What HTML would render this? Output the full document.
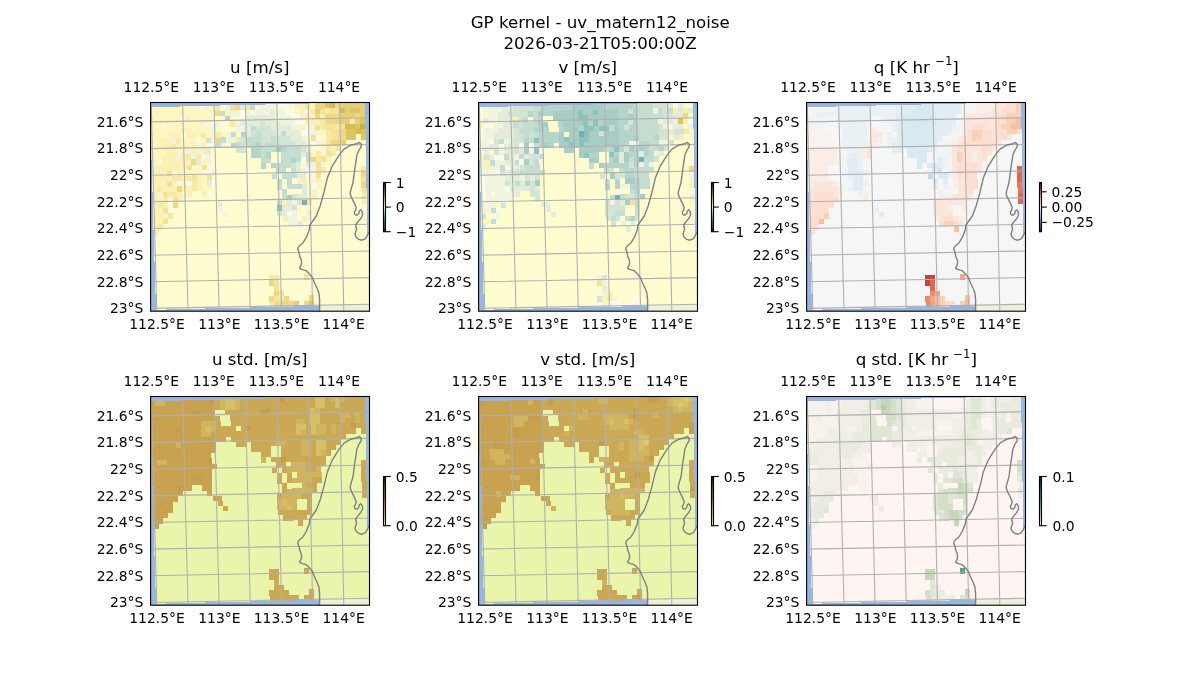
<!DOCTYPE html>
<html lang="en"><head><meta charset="utf-8"><title>GP kernel - uv_matern12_noise</title>
<style>html,body{margin:0;padding:0;background:#fff}svg{display:block}text{font-family:'DejaVu Sans','Liberation Sans',sans-serif;fill:#000}</style></head><body>
<svg width="1200" height="700" viewBox="0 0 1200 700">
<rect width="1200" height="700" fill="#fff"/>
<text x="600.20" y="27.50" font-size="16.67" text-anchor="middle" >GP kernel - uv_matern12_noise</text>
<text x="600.00" y="48.80" font-size="16.67" text-anchor="middle" >2026-03-21T05:00:00Z</text>
<clipPath id="clipu"><rect x="150.6" y="102.5" width="218.9" height="208.7"/></clipPath>
<g clip-path="url(#clipu)">
<rect x="150.6" y="102.5" width="218.9" height="208.7" fill="#97b6e1"/>
<polygon points="319.6,311.0 319.6,299.6 318.9,293.1 317.0,288.0 314.4,282.8 312.5,277.7 309.3,273.8 306.1,270.6 301.6,269.3 299.6,268.1 301.3,264.8 301.6,261.0 300.0,257.1 299.0,252.6 297.7,248.8 299.0,246.2 302.9,243.0 306.7,236.6 309.3,230.1 309.9,225.0 316.3,216.0 320.2,205.7 324.1,191.6 327.3,178.1 332.4,165.8 338.8,155.6 344.0,149.1 350.4,145.3 356.8,143.7 359.4,142.5 361.0,144.0 361.3,146.6 358.8,150.4 356.8,155.6 354.9,168.4 353.0,182.6 350.4,191.6 350.2,194.1 351.7,198.0 354.3,203.1 356.2,207.6 355.6,210.2 354.3,212.1 354.9,214.7 356.8,215.3 358.8,213.4 359.4,210.8 360.7,209.8 362.2,211.5 362.6,214.7 360.7,218.5 357.5,222.4 355.6,225.0 356.6,229.5 354.9,234.0 356.2,237.2 358.8,239.4 362.0,240.2 365.2,238.9 367.1,235.9 368.7,232.7 369.5,231.0 371.0,231.0 371.0,313.0 319.6,313.0" fill="#efefdb"/>
<path shape-rendering="crispEdges" fill="#fffdd0" d="M150 107h30v5h-30zM180 106h15v6h-15zM195 106h25v5h-25zM220 105h15v6h-15zM235 105h30v5h-30zM265 104h15v6h-15zM280 104h30v5h-30zM310 103h15v6h-15zM325 103h25v5h-25zM350 102h15v6h-15zM150 112h15v6h-15zM164 111h32v7h-32zM194 110h12v8h-12zM204 110h32v7h-32zM234 109h17v8h-17zM249 109h32v7h-32zM279 108h17v8h-17zM294 108h32v7h-32zM324 107h17v8h-17zM340 108h25v5h-25zM150 118h15v5h-15zM164 116h17v8h-17zM179 116h27v7h-27zM204 115h17v8h-17zM219 115h32v7h-32zM249 114h17v8h-17zM264 114h32v7h-32zM294 113h17v8h-17zM309 113h32v7h-32zM339 112h12v8h-12zM350 113h15v5h-15zM151 123h29v5h-29zM179 121h17v8h-17zM194 121h27v7h-27zM219 120h17v8h-17zM234 120h32v7h-32zM264 119h17v8h-17zM279 119h32v7h-32zM309 118h17v8h-17zM324 118h27v7h-27zM350 118h15v6h-15zM151 128h15v6h-15zM165 127h32v7h-32zM195 126h12v8h-12zM205 126h32v7h-32zM235 125h17v8h-17zM250 125h32v7h-32zM280 124h17v8h-17zM295 124h31v7h-31zM324 123h12v8h-12zM335 124h30v5h-30zM151 134h15v5h-15zM165 132h17v8h-17zM180 132h27v7h-27zM205 131h17v8h-17zM220 131h32v7h-32zM250 130h17v8h-17zM265 130h32v7h-32zM295 129h17v8h-17zM310 129h27v7h-27zM335 128h17v8h-17zM351 129h15v5h-15zM151 139h30v5h-30zM180 137h12v8h-12zM190 137h32v7h-32zM220 136h17v8h-17zM235 136h32v7h-32zM265 135h17v8h-17zM280 135h32v7h-32zM310 134h12v8h-12zM320 134h32v7h-32zM351 134h15v6h-15zM151 144h15v6h-15zM165 143h27v7h-27zM190 142h17v8h-17zM205 142h32v7h-32zM235 141h17v8h-17zM250 141h32v7h-32zM280 140h17v8h-17zM295 140h27v7h-27zM320 139h17v8h-17zM336 140h30v5h-30zM151 150h15v5h-15zM165 148h12v8h-12zM175 148h32v7h-32zM205 147h17v8h-17zM220 147h32v7h-32zM250 146h17v8h-17zM265 146h32v7h-32zM295 145h17v8h-17zM310 145h27v7h-27zM335 144h17v8h-17zM351 145h15v5h-15zM151 155h25v5h-25zM175 153h17v8h-17zM190 153h32v7h-32zM220 152h17v8h-17zM235 152h32v7h-32zM265 151h17v8h-17zM280 151h32v7h-32zM310 150h12v8h-12zM320 150h32v7h-32zM351 150h15v6h-15zM152 160h15v6h-15zM166 159h26v7h-26zM190 158h17v8h-17zM205 158h32v7h-32zM235 157h17v8h-17zM250 157h32v7h-32zM280 156h17v8h-17zM295 156h27v7h-27zM320 155h17v8h-17zM336 156h30v5h-30zM152 166h15v5h-15zM166 164h12v8h-12zM176 164h32v7h-32zM206 163h17v8h-17zM221 163h31v7h-31zM250 162h17v8h-17zM265 162h32v7h-32zM295 161h12v8h-12zM305 161h32v7h-32zM335 160h17v8h-17zM351 161h15v5h-15zM152 171h25v5h-25zM176 169h17v8h-17zM191 169h32v7h-32zM221 168h17v8h-17zM236 168h32v7h-32zM266 167h16v8h-16zM280 167h27v7h-27zM305 166h17v8h-17zM320 166h32v7h-32zM351 166h15v6h-15zM152 176h10v6h-10zM161 175h32v7h-32zM191 174h17v8h-17zM206 174h32v7h-32zM236 173h17v8h-17zM251 173h32v7h-32zM281 172h12v8h-12zM291 172h31v7h-31zM320 171h17v8h-17zM336 172h30v5h-30zM152 182h10v5h-10zM161 180h17v8h-17zM176 180h32v7h-32zM206 179h17v8h-17zM221 179h32v7h-32zM251 178h17v8h-17zM266 178h27v7h-27zM291 177h17v8h-17zM306 177h31v7h-31zM335 176h17v8h-17zM351 177h15v5h-15zM152 187h25v5h-25zM176 185h17v8h-17zM191 185h32v7h-32zM221 184h17v8h-17zM236 184h32v7h-32zM266 183h17v8h-17zM281 183h27v7h-27zM306 182h17v8h-17zM321 182h32v7h-32zM352 182h14v6h-14zM153 192h10v6h-10zM162 191h31v7h-31zM191 190h17v8h-17zM206 190h32v7h-32zM236 189h17v8h-17zM251 189h32v7h-32zM281 188h12v8h-12zM291 188h32v7h-32zM321 187h17v8h-17zM337 188h30v5h-30zM153 198h10v5h-10zM162 196h17v8h-17zM177 196h31v7h-31zM206 195h17v8h-17zM221 195h32v7h-32zM251 194h17v8h-17zM266 194h27v7h-27zM291 193h17v8h-17zM306 193h32v7h-32zM336 192h17v8h-17zM352 193h15v5h-15zM153 203h25v5h-25zM177 201h17v8h-17zM192 201h31v7h-31zM221 200h17v8h-17zM236 200h32v7h-32zM266 199h12v8h-12zM276 199h32v7h-32zM306 198h17v8h-17zM321 198h32v7h-32zM352 198h15v6h-15zM153 208h10v6h-10zM162 207h32v7h-32zM192 206h17v8h-17zM207 206h32v7h-32zM237 205h16v8h-16zM251 205h27v7h-27zM276 204h17v8h-17zM291 204h32v7h-32zM321 203h17v8h-17zM337 204h30v5h-30zM153 214h10v5h-10zM162 212h17v8h-17zM177 212h32v7h-32zM207 211h17v8h-17zM222 211h32v7h-32zM252 210h12v8h-12zM262 210h31v7h-31zM291 209h17v8h-17zM306 209h32v7h-32zM336 208h17v8h-17zM352 209h15v5h-15zM153 219h25v5h-25zM177 217h17v8h-17zM192 217h32v7h-32zM222 216h17v8h-17zM237 216h27v7h-27zM262 215h17v8h-17zM277 215h31v7h-31zM306 214h17v8h-17zM321 214h32v7h-32zM352 214h15v6h-15zM153 224h10v6h-10zM162 223h32v7h-32zM192 222h17v8h-17zM207 222h32v7h-32zM237 221h17v8h-17zM252 221h27v7h-27zM277 220h17v8h-17zM292 220h31v7h-31zM321 219h17v8h-17zM337 220h30v5h-30zM154 230h10v5h-10zM163 228h16v8h-16zM177 228h32v7h-32zM207 227h17v8h-17zM222 227h32v7h-32zM252 226h12v8h-12zM262 226h32v7h-32zM292 225h17v8h-17zM307 225h31v7h-31zM336 224h17v8h-17zM352 225h15v5h-15zM154 235h25v5h-25zM178 233h17v8h-17zM193 233h31v7h-31zM222 232h17v8h-17zM237 232h27v7h-27zM262 231h17v8h-17zM277 231h32v7h-32zM307 230h17v8h-17zM322 230h31v7h-31zM352 230h15v6h-15zM154 240h10v6h-10zM163 239h32v7h-32zM193 238h17v8h-17zM208 238h31v7h-31zM237 237h12v8h-12zM247 237h32v7h-32zM277 236h17v8h-17zM292 236h32v7h-32zM322 235h17v8h-17zM338 236h29v5h-29zM154 246h10v5h-10zM163 244h17v8h-17zM178 244h32v7h-32zM208 243h17v8h-17zM223 243h26v7h-26zM247 242h17v8h-17zM262 242h32v7h-32zM292 241h17v8h-17zM307 241h32v7h-32zM337 240h17v8h-17zM353 241h14v5h-14zM154 251h25v5h-25zM178 249h17v8h-17zM193 249h32v7h-32zM223 248h12v8h-12zM233 248h31v7h-31zM262 247h17v8h-17zM277 247h32v7h-32zM307 246h17v8h-17zM322 246h32v7h-32zM353 246h15v6h-15zM154 256h10v6h-10zM163 255h32v7h-32zM193 254h17v8h-17zM208 254h27v7h-27zM233 253h17v8h-17zM248 253h31v7h-31zM277 252h17v8h-17zM292 252h32v7h-32zM322 251h17v8h-17zM338 252h30v5h-30zM155 262h9v5h-9zM163 260h17v8h-17zM178 260h32v7h-32zM208 259h17v8h-17zM223 259h27v7h-27zM248 258h17v8h-17zM263 258h31v7h-31zM292 257h17v8h-17zM307 257h32v7h-32zM337 256h17v8h-17zM353 257h15v5h-15zM155 267h25v5h-25zM179 265h16v8h-16zM193 265h32v7h-32zM223 264h12v8h-12zM233 264h32v7h-32zM263 263h17v8h-17zM278 263h31v7h-31zM307 262h17v8h-17zM322 262h32v7h-32zM353 262h15v6h-15zM155 272h10v6h-10zM164 271h32v7h-32zM194 270h16v8h-16zM208 270h27v7h-27zM233 269h17v8h-17zM248 269h32v7h-32zM278 268h17v8h-17zM293 268h31v7h-31zM322 267h17v8h-17zM338 268h30v5h-30zM155 278h10v5h-10zM164 276h17v8h-17zM179 276h32v7h-32zM209 275h11v8h-11zM218 275h32v7h-32zM248 274h17v8h-17zM263 274h32v7h-32zM293 273h17v8h-17zM308 273h31v7h-31zM337 272h17v8h-17zM353 273h15v5h-15zM155 283h25v5h-25zM179 281h17v8h-17zM194 281h27v7h-27zM219 280h16v8h-16zM233 280h32v7h-32zM263 279h17v8h-17zM278 279h32v7h-32zM308 278h17v8h-17zM323 278h31v7h-31zM352 277h12v8h-12zM363 278h5v5h-5zM155 288h10v6h-10zM164 287h32v7h-32zM194 286h12v8h-12zM204 286h32v7h-32zM234 285h16v8h-16zM248 285h32v7h-32zM278 284h17v8h-17zM293 284h32v7h-32zM323 283h17v8h-17zM338 283h26v7h-26zM363 283h5v6h-5zM156 294h9v5h-9zM164 292h17v8h-17zM179 292h27v7h-27zM204 291h17v8h-17zM219 291h32v7h-32zM249 290h16v8h-16zM263 290h32v7h-32zM293 289h17v8h-17zM308 289h32v7h-32zM338 288h12v8h-12zM349 289h19v5h-19zM156 299h24v5h-24zM179 297h17v8h-17zM194 297h27v7h-27zM219 296h17v8h-17zM234 296h32v7h-32zM264 295h16v8h-16zM278 295h32v7h-32zM308 294h17v8h-17zM323 294h27v7h-27zM348 293h16v8h-16zM363 294h5v5h-5zM156 304h10v6h-10zM166 304h29v5h-29zM195 303h10v6h-10zM205 303h30v5h-30zM235 302h15v6h-15zM250 302h29v5h-29zM279 301h15v6h-15zM294 301h30v5h-30zM324 300h15v6h-15zM339 300h25v5h-25zM364 299h5v6h-5z"/>
<g shape-rendering="crispEdges">
<path fill="#fdf6c0" d="M153 110h4v4h-4zM158 110h4v4h-4zM163 110h4v4h-4zM168 110h4v4h-4zM173 110h4v4h-4zM178 110h4v4h-4zM183 110h4v4h-4zM188 110h4v4h-4zM193 110h4v4h-4zM198 109h4v4h-4zM208 109h4v4h-4zM213 109h4v4h-4zM313 107h4v4h-4zM153 116h4v4h-4zM158 116h4v4h-4zM163 116h4v4h-4zM168 115h4v4h-4zM173 115h4v4h-4zM178 115h4v4h-4zM183 115h4v4h-4zM188 115h4v4h-4zM193 115h4v4h-4zM198 115h4v4h-4zM203 115h4v4h-4zM208 114h4v4h-4zM228 114h4v4h-4zM298 112h4v4h-4zM153 121h4v4h-4zM158 121h4v4h-4zM163 121h4v4h-4zM168 121h4v4h-4zM173 121h4v4h-4zM178 121h4v4h-4zM193 120h4v4h-4zM198 120h4v4h-4zM203 120h4v4h-4zM208 120h4v4h-4zM313 117h4v4h-4zM154 126h4v4h-4zM159 126h4v4h-4zM169 126h4v4h-4zM173 126h4v4h-4zM178 126h4v4h-4zM183 126h4v4h-4zM188 126h4v4h-4zM193 126h4v4h-4zM198 125h4v4h-4zM203 125h4v4h-4zM154 132h4v4h-4zM159 132h4v4h-4zM164 132h4v4h-4zM169 131h4v4h-4zM174 131h4v4h-4zM179 131h4v4h-4zM194 131h4v4h-4zM199 131h4v4h-4zM204 131h4v4h-4zM209 130h4v4h-4zM154 137h4v4h-4zM159 137h4v4h-4zM164 137h4v4h-4zM169 137h4v4h-4zM199 136h4v4h-4zM209 136h4v4h-4zM214 136h4v4h-4zM224 135h4v4h-4zM319 133h4v4h-4zM324 133h4v4h-4zM154 142h4v4h-4zM159 142h4v4h-4zM184 142h4v4h-4zM189 142h4v4h-4zM194 141h4v4h-4zM204 141h4v4h-4zM154 148h4v4h-4zM159 148h4v4h-4zM184 147h4v4h-4zM189 147h4v4h-4zM324 144h4v4h-4zM154 153h4v4h-4zM159 153h4v4h-4zM164 153h4v4h-4zM179 152h4v4h-4zM184 152h4v4h-4zM324 149h4v4h-4zM154 158h4v4h-4zM159 158h4v4h-4zM314 155h4v4h-4zM155 164h4v4h-4zM189 163h4v4h-4zM204 163h4v4h-4zM195 168h4v4h-4zM200 168h4v4h-4zM185 174h4v4h-4zM190 174h4v4h-4zM200 173h4v4h-4zM205 179h4v4h-4zM185 184h4v4h-4zM205 184h4v4h-4zM205 189h4v4h-4zM161 196h4v4h-4z"/>
<path fill="#fbfae4" d="M203 109h4v4h-4zM223 109h4v4h-4zM278 108h4v4h-4zM283 107h4v4h-4zM288 107h4v4h-4zM243 114h4v4h-4zM253 113h4v4h-4zM288 113h4v4h-4zM293 113h4v4h-4zM308 112h4v4h-4zM183 120h4v4h-4zM243 119h4v4h-4zM293 118h4v4h-4zM298 118h4v4h-4zM208 125h4v4h-4zM213 125h4v4h-4zM298 123h4v4h-4zM303 123h4v4h-4zM308 128h4v4h-4zM184 136h4v4h-4zM304 134h4v4h-4zM309 134h4v4h-4zM199 141h4v4h-4zM319 139h4v4h-4zM209 146h4v4h-4zM314 144h4v4h-4zM314 149h4v4h-4zM204 157h4v4h-4zM324 154h4v4h-4zM304 160h4v4h-4zM304 166h4v4h-4zM175 174h4v4h-4zM205 173h4v4h-4zM309 171h4v4h-4zM309 176h4v4h-4zM180 184h4v4h-4zM190 184h4v4h-4zM290 214h4v4h-4zM300 219h4v4h-4z"/>
<path fill="#f8eaa6" d="M218 109h4v4h-4zM248 108h4v4h-4zM308 107h4v4h-4zM313 112h4v4h-4zM328 112h4v4h-4zM233 125h4v4h-4zM323 123h4v4h-4zM353 122h4v4h-4zM323 128h4v4h-4zM338 127h4v4h-4zM204 136h4v4h-4zM219 136h4v4h-4zM329 133h4v4h-4zM179 142h4v4h-4zM239 140h4v4h-4zM329 138h4v4h-4zM174 147h4v4h-4zM329 144h4v4h-4zM329 149h4v4h-4zM189 158h4v4h-4zM199 157h4v4h-4zM319 155h4v4h-4zM319 160h4v4h-4zM175 179h4v4h-4zM180 179h4v4h-4zM190 179h4v4h-4zM195 184h4v4h-4zM160 190h4v4h-4zM170 195h4v4h-4zM175 195h4v4h-4zM166 201h4v4h-4zM161 206h4v4h-4zM272 278h4v4h-4zM282 299h4v4h-4z"/>
<path fill="#f0f3de" d="M228 109h4v4h-4zM263 108h4v4h-4zM268 108h4v4h-4zM273 108h4v4h-4zM233 114h4v4h-4zM238 114h4v4h-4zM248 114h4v4h-4zM258 113h4v4h-4zM263 113h4v4h-4zM268 113h4v4h-4zM278 113h4v4h-4zM283 113h4v4h-4zM278 118h4v4h-4zM283 118h4v4h-4zM288 118h4v4h-4zM303 118h4v4h-4zM238 124h4v4h-4zM283 123h4v4h-4zM288 123h4v4h-4zM293 123h4v4h-4zM214 130h4v4h-4zM244 130h4v4h-4zM294 129h4v4h-4zM299 128h4v4h-4zM313 128h4v4h-4zM229 135h4v4h-4zM314 133h4v4h-4zM174 142h4v4h-4zM214 141h4v4h-4zM234 141h4v4h-4zM304 139h4v4h-4zM199 147h4v4h-4zM309 144h4v4h-4zM319 144h4v4h-4zM189 152h4v4h-4zM199 152h4v4h-4zM179 158h4v4h-4zM194 157h4v4h-4zM314 165h4v4h-4zM304 171h4v4h-4zM314 171h4v4h-4zM300 182h4v4h-4zM315 181h4v4h-4zM290 219h4v4h-4zM295 219h4v4h-4z"/>
<path fill="#f4e298" d="M233 109h4v4h-4zM323 112h4v4h-4zM333 112h4v4h-4zM338 112h4v4h-4zM318 128h4v4h-4zM328 128h4v4h-4zM333 128h4v4h-4zM343 127h4v4h-4zM334 133h4v4h-4zM339 133h4v4h-4zM314 139h4v4h-4zM334 138h4v4h-4zM339 138h4v4h-4zM190 168h4v4h-4zM205 168h4v4h-4zM319 165h4v4h-4zM170 174h4v4h-4zM195 179h4v4h-4zM170 185h4v4h-4zM165 195h4v4h-4zM166 211h4v4h-4zM277 300h4v4h-4z"/>
<path fill="#eed888" d="M238 108h4v4h-4zM318 107h4v4h-4zM323 107h4v4h-4zM338 106h4v4h-4zM318 117h4v4h-4zM328 117h4v4h-4zM333 117h4v4h-4zM338 117h4v4h-4zM358 116h4v4h-4zM328 122h4v4h-4zM333 122h4v4h-4zM338 122h4v4h-4zM344 133h4v4h-4zM219 141h4v4h-4zM334 144h4v4h-4zM194 163h4v4h-4zM314 160h4v4h-4zM180 190h4v4h-4zM277 294h4v4h-4zM272 300h4v4h-4z"/>
<path fill="#e3ecd9" d="M243 108h4v4h-4zM273 113h4v4h-4zM248 119h4v4h-4zM253 119h4v4h-4zM258 119h4v4h-4zM263 119h4v4h-4zM268 118h4v4h-4zM273 118h4v4h-4zM243 124h4v4h-4zM248 124h4v4h-4zM253 124h4v4h-4zM258 124h4v4h-4zM268 124h4v4h-4zM273 124h4v4h-4zM278 124h4v4h-4zM249 130h4v4h-4zM274 129h4v4h-4zM279 129h4v4h-4zM284 129h4v4h-4zM289 129h4v4h-4zM249 135h4v4h-4zM279 134h4v4h-4zM289 134h4v4h-4zM294 134h4v4h-4zM299 134h4v4h-4zM294 139h4v4h-4zM299 139h4v4h-4zM299 144h4v4h-4zM304 144h4v4h-4zM209 152h4v4h-4zM309 150h4v4h-4zM304 155h4v4h-4zM199 163h4v4h-4zM299 166h4v4h-4zM309 165h4v4h-4zM299 171h4v4h-4zM300 176h4v4h-4zM304 176h4v4h-4zM305 187h4v4h-4zM305 192h4v4h-4zM300 198h4v4h-4zM305 198h4v4h-4zM290 203h4v4h-4zM285 209h4v4h-4zM290 209h4v4h-4zM285 214h4v4h-4z"/>
<path fill="#c5dcd0" d="M253 108h4v4h-4zM254 129h4v4h-4zM259 135h4v4h-4zM284 134h4v4h-4zM249 140h4v4h-4zM254 140h4v4h-4zM259 140h4v4h-4zM274 140h4v4h-4zM239 146h4v4h-4zM254 145h4v4h-4zM269 145h4v4h-4zM274 145h4v4h-4zM264 151h4v4h-4zM289 150h4v4h-4zM294 150h4v4h-4zM299 150h4v4h-4zM264 156h4v4h-4zM284 155h4v4h-4zM289 155h4v4h-4zM294 155h4v4h-4zM299 155h4v4h-4zM309 155h4v4h-4zM284 161h4v4h-4zM289 161h4v4h-4zM299 160h4v4h-4zM309 160h4v4h-4zM279 166h4v4h-4zM294 171h4v4h-4zM285 198h4v4h-4zM280 203h4v4h-4z"/>
<path fill="#fefac9" d="M258 108h4v4h-4zM293 107h4v4h-4zM233 119h4v4h-4zM238 119h4v4h-4zM164 126h4v4h-4zM309 139h4v4h-4zM324 138h4v4h-4zM319 149h4v4h-4zM160 164h4v4h-4zM195 173h4v4h-4zM314 176h4v4h-4zM310 181h4v4h-4zM310 187h4v4h-4zM310 192h4v4h-4zM171 201h4v4h-4z"/>
<path fill="#fbf1b4" d="M298 107h4v4h-4zM303 107h4v4h-4zM303 112h4v4h-4zM188 120h4v4h-4zM308 118h4v4h-4zM323 117h4v4h-4zM308 123h4v4h-4zM313 123h4v4h-4zM318 123h4v4h-4zM184 131h4v4h-4zM189 131h4v4h-4zM303 128h4v4h-4zM174 137h4v4h-4zM179 137h4v4h-4zM189 136h4v4h-4zM194 136h4v4h-4zM164 142h4v4h-4zM169 142h4v4h-4zM164 148h4v4h-4zM169 147h4v4h-4zM179 147h4v4h-4zM194 147h4v4h-4zM204 147h4v4h-4zM169 153h4v4h-4zM174 153h4v4h-4zM194 152h4v4h-4zM204 152h4v4h-4zM164 158h4v4h-4zM169 158h4v4h-4zM174 158h4v4h-4zM184 158h4v4h-4zM165 164h4v4h-4zM170 163h4v4h-4zM175 163h4v4h-4zM180 163h4v4h-4zM185 163h4v4h-4zM155 169h4v4h-4zM160 169h4v4h-4zM165 169h4v4h-4zM170 169h4v4h-4zM175 169h4v4h-4zM180 168h4v4h-4zM185 168h4v4h-4zM155 174h4v4h-4zM160 174h4v4h-4zM165 174h4v4h-4zM180 174h4v4h-4zM155 180h4v4h-4zM160 180h4v4h-4zM165 179h4v4h-4zM170 179h4v4h-4zM185 179h4v4h-4zM200 179h4v4h-4zM155 185h4v4h-4zM160 185h4v4h-4zM165 185h4v4h-4zM175 185h4v4h-4zM200 184h4v4h-4zM305 182h4v4h-4zM155 190h4v4h-4zM165 190h4v4h-4zM170 190h4v4h-4zM175 190h4v4h-4zM185 190h4v4h-4zM156 196h4v4h-4zM156 201h4v4h-4zM161 201h4v4h-4zM156 206h4v4h-4zM166 206h4v4h-4zM285 203h4v4h-4zM156 212h4v4h-4zM161 212h4v4h-4zM156 217h4v4h-4zM161 217h4v4h-4zM156 222h4v4h-4zM286 219h4v4h-4z"/>
<path fill="#dcc662" d="M328 106h4v4h-4zM353 111h4v4h-4zM358 111h4v4h-4zM358 127h4v4h-4zM349 133h4v4h-4z"/>
<path fill="#d2bd50" d="M333 106h4v4h-4zM343 111h4v4h-4zM348 127h4v4h-4zM353 127h4v4h-4z"/>
<path fill="#e6cf74" d="M343 106h4v4h-4zM348 106h4v4h-4zM353 106h4v4h-4zM358 106h4v4h-4zM318 112h4v4h-4zM348 111h4v4h-4zM343 117h4v4h-4zM348 117h4v4h-4zM353 116h4v4h-4zM343 122h4v4h-4zM348 122h4v4h-4zM358 122h4v4h-4z"/>
<path fill="#d4e4d4" d="M263 124h4v4h-4zM259 129h4v4h-4zM264 129h4v4h-4zM269 129h4v4h-4zM254 135h4v4h-4zM264 135h4v4h-4zM269 134h4v4h-4zM274 134h4v4h-4zM209 141h4v4h-4zM244 140h4v4h-4zM264 140h4v4h-4zM269 140h4v4h-4zM279 140h4v4h-4zM284 139h4v4h-4zM289 139h4v4h-4zM264 145h4v4h-4zM279 145h4v4h-4zM284 145h4v4h-4zM289 145h4v4h-4zM294 145h4v4h-4zM304 150h4v4h-4zM294 166h4v4h-4zM295 198h4v4h-4zM280 214h4v4h-4z"/>
<path fill="#b5d4ca" d="M244 135h4v4h-4zM259 145h4v4h-4zM254 151h4v4h-4zM259 151h4v4h-4zM284 150h4v4h-4zM294 161h4v4h-4z"/>
<path fill="#a8cdc5" d="M290 198h4v4h-4z"/>
<path fill="#8ec2bc" d="M280 209h4v4h-4z"/>
<path fill="#fdf6c0" d="M150 107h30v5h-30zM180 106h15v6h-15zM195 106h5v5h-5zM205 106h10v5h-10zM310 103h5v6h-5zM150 112h15v6h-15zM165 112h30v5h-30zM195 111h10v6h-10zM205 111h5v5h-5zM225 111h5v5h-5zM295 109h5v5h-5zM150 118h15v5h-15zM165 117h15v6h-15zM190 117h15v5h-15zM205 116h10v6h-10zM310 114h5v5h-5zM151 123h10v5h-10zM166 123h14v5h-14zM180 122h15v6h-15zM195 122h10v5h-10zM151 128h15v6h-15zM166 128h15v5h-15zM191 128h5v5h-5zM196 127h10v6h-10zM206 127h5v5h-5zM151 134h15v5h-15zM166 133h5v6h-5zM196 133h5v5h-5zM206 132h10v6h-10zM221 132h5v5h-5zM316 130h10v5h-10zM151 139h10v5h-10zM181 138h10v6h-10zM191 138h5v5h-5zM201 138h5v5h-5zM151 144h10v6h-10zM181 144h10v5h-10zM321 140h5v6h-5zM151 150h15v5h-15zM176 149h10v5h-10zM321 146h5v5h-5zM151 155h10v5h-10zM311 151h5v6h-5zM152 160h5v6h-5zM187 160h4v5h-4zM201 159h5v6h-5zM192 165h10v5h-10zM182 170h10v6h-10zM197 170h5v5h-5zM202 175h5v6h-5zM182 181h5v5h-5zM202 181h5v5h-5zM202 186h10v5h-10zM317 183h5v6h-5zM158 192h5v6h-5zM182 192h5v5h-5z"/>
<path fill="#fbfae4" d="M200 106h5v5h-5zM220 105h5v6h-5zM275 104h5v6h-5zM280 104h10v5h-10zM240 110h5v6h-5zM250 110h5v5h-5zM285 109h10v6h-10zM305 109h5v5h-5zM180 117h5v5h-5zM240 116h5v5h-5zM290 115h5v5h-5zM295 114h5v6h-5zM205 122h10v5h-10zM295 120h10v5h-10zM305 125h5v5h-5zM181 133h5v5h-5zM301 130h10v6h-10zM196 138h5v5h-5zM316 135h5v6h-5zM206 143h10v5h-10zM311 141h5v5h-5zM311 146h5v5h-5zM201 154h5v5h-5zM321 151h5v5h-5zM301 157h5v5h-5zM207 164h5v6h-5zM301 162h5v6h-5zM172 171h5v5h-5zM202 170h10v5h-10zM306 167h5v6h-5zM306 173h5v5h-5zM177 181h5v5h-5zM187 181h5v5h-5zM312 183h5v6h-5zM207 191h5v5h-5zM168 203h5v5h-5zM168 208h5v5h-5zM307 205h5v5h-5zM287 211h5v5h-5zM278 216h5v5h-5zM297 216h5v5h-5zM283 221h5v6h-5zM303 221h4v5h-4zM298 226h5v6h-5z"/>
<path fill="#f8eaa6" d="M215 106h5v5h-5zM245 105h5v5h-5zM305 104h5v5h-5zM310 109h5v5h-5zM325 108h5v6h-5zM230 121h5v6h-5zM320 119h5v6h-5zM350 118h5v6h-5zM320 125h5v5h-5zM335 124h5v5h-5zM201 133h5v5h-5zM216 132h5v6h-5zM326 130h5v5h-5zM176 139h5v5h-5zM236 137h5v5h-5zM326 135h5v5h-5zM171 144h5v5h-5zM326 140h5v6h-5zM326 146h5v5h-5zM186 154h5v6h-5zM196 154h5v5h-5zM316 151h5v6h-5zM331 151h5v5h-5zM316 157h5v5h-5zM321 167h5v5h-5zM361 166h5v6h-5zM172 176h10v5h-10zM187 176h5v5h-5zM192 181h5v5h-5zM157 187h5v5h-5zM192 186h5v5h-5zM167 192h10v5h-10zM163 197h5v6h-5zM362 193h5v5h-5zM158 203h5v5h-5zM307 199h5v6h-5zM168 213h5v6h-5zM158 224h5v6h-5zM269 275h10v5h-10zM279 296h5v5h-5zM270 302h5v5h-5z"/>
<path fill="#f0f3de" d="M225 105h5v6h-5zM260 105h5v5h-5zM265 104h10v6h-10zM210 111h5v5h-5zM230 111h5v5h-5zM235 110h5v6h-5zM245 110h5v6h-5zM255 110h15v5h-15zM275 110h5v5h-5zM280 109h5v6h-5zM275 115h15v5h-15zM300 114h5v6h-5zM215 122h5v5h-5zM235 121h5v5h-5zM280 120h15v5h-15zM211 127h5v5h-5zM236 126h10v6h-10zM291 125h5v6h-5zM296 125h5v5h-5zM310 125h5v5h-5zM226 132h5v5h-5zM311 130h5v5h-5zM171 139h5v5h-5zM211 138h5v5h-5zM226 137h10v6h-10zM301 136h5v5h-5zM196 143h5v6h-5zM221 143h5v5h-5zM306 141h5v5h-5zM316 141h5v5h-5zM186 149h5v5h-5zM196 149h5v5h-5zM176 154h5v6h-5zM191 154h5v5h-5zM206 154h5v5h-5zM206 159h5v5h-5zM311 162h5v5h-5zM212 170h5v5h-5zM301 168h5v5h-5zM311 167h5v6h-5zM297 178h5v6h-5zM312 178h5v5h-5zM312 189h5v5h-5zM292 200h5v5h-5zM218 207h5v5h-5zM223 212h5v5h-5zM292 210h5v6h-5zM288 216h9v5h-9zM307 215h5v6h-5zM288 221h5v6h-5zM293 221h5v5h-5z"/>
<path fill="#f4e298" d="M230 105h5v6h-5zM320 109h5v5h-5zM330 108h10v6h-10zM315 125h5v5h-5zM325 124h10v6h-10zM340 124h5v5h-5zM331 130h5v5h-5zM336 129h5v6h-5zM311 135h5v6h-5zM331 135h10v5h-10zM336 145h5v6h-5zM326 151h5v5h-5zM321 156h5v6h-5zM187 165h5v5h-5zM202 165h5v5h-5zM316 162h5v5h-5zM167 171h5v5h-5zM316 167h5v6h-5zM192 175h5v6h-5zM207 175h5v5h-5zM316 173h5v5h-5zM167 181h5v6h-5zM361 177h5v5h-5zM163 192h4v5h-4zM362 188h5v5h-5zM173 197h5v6h-5zM163 208h5v5h-5zM163 219h5v5h-5zM304 274h5v6h-5zM274 280h5v6h-5zM274 286h5v5h-5zM279 291h5v5h-5zM274 296h5v6h-5z"/>
<path fill="#eed888" d="M235 105h5v5h-5zM315 103h10v6h-10zM335 103h5v5h-5zM215 111h5v5h-5zM315 114h5v5h-5zM325 114h15v5h-15zM355 113h5v5h-5zM325 119h15v5h-15zM341 129h5v6h-5zM216 138h5v5h-5zM341 135h5v5h-5zM331 140h5v6h-5zM336 140h5v5h-5zM191 159h5v6h-5zM311 157h5v5h-5zM361 172h5v5h-5zM177 186h5v6h-5zM361 182h5v6h-5zM173 203h5v5h-5zM269 280h5v6h-5zM274 291h5v5h-5zM269 296h5v6h-5zM284 296h5v5h-5zM309 295h5v6h-5zM275 302h4v5h-4zM279 301h15v6h-15zM304 301h5v5h-5z"/>
<path fill="#e3ecd9" d="M240 105h5v5h-5zM270 110h5v5h-5zM245 116h5v5h-5zM250 115h15v6h-15zM265 115h10v5h-10zM240 121h20v5h-20zM265 120h15v6h-15zM246 126h5v6h-5zM271 126h10v5h-10zM281 125h10v6h-10zM246 132h5v5h-5zM276 131h5v5h-5zM286 131h10v5h-10zM296 130h5v6h-5zM291 136h10v5h-10zM296 141h10v5h-10zM206 148h5v6h-5zM306 146h5v6h-5zM301 152h5v5h-5zM196 159h5v6h-5zM296 162h5v6h-5zM306 162h5v5h-5zM296 168h5v5h-5zM297 173h9v5h-9zM207 180h5v6h-5zM302 184h5v5h-5zM302 189h5v5h-5zM297 194h10v6h-10zM218 202h4v5h-4zM287 200h5v5h-5zM282 205h10v6h-10zM282 211h5v5h-5zM298 221h5v5h-5z"/>
<path fill="#c5dcd0" d="M250 105h5v5h-5zM220 111h5v5h-5zM251 126h5v5h-5zM231 132h5v5h-5zM256 131h5v6h-5zM281 131h5v5h-5zM221 137h5v6h-5zM246 137h15v5h-15zM271 136h5v6h-5zM216 143h5v5h-5zM236 142h5v6h-5zM246 142h5v6h-5zM251 142h5v5h-5zM266 142h10v5h-10zM261 147h5v6h-5zM266 147h10v5h-10zM286 147h10v5h-10zM296 146h5v6h-5zM261 153h5v5h-5zM281 152h20v5h-20zM306 152h5v5h-5zM261 158h10v5h-10zM281 157h10v6h-10zM296 157h5v5h-5zM306 157h5v5h-5zM276 163h15v5h-15zM276 168h5v6h-5zM281 168h5v5h-5zM291 168h5v5h-5zM272 174h5v5h-5zM282 173h10v6h-10zM292 173h5v5h-5zM277 179h5v5h-5zM287 179h5v5h-5zM277 184h5v6h-5zM287 184h15v5h-15zM282 189h5v6h-5zM282 195h5v5h-5zM277 200h5v5h-5z"/>
<path fill="#fefac9" d="M255 105h5v5h-5zM290 104h5v5h-5zM230 116h10v5h-10zM161 123h5v5h-5zM216 127h5v5h-5zM231 127h5v5h-5zM306 136h5v5h-5zM321 135h5v5h-5zM211 148h5v6h-5zM316 146h5v5h-5zM211 154h5v5h-5zM157 160h5v6h-5zM321 162h5v5h-5zM192 170h5v5h-5zM311 173h5v5h-5zM307 178h5v5h-5zM307 183h5v6h-5zM307 189h5v5h-5zM168 197h5v6h-5zM207 196h5v6h-5zM307 194h5v5h-5zM213 202h5v5h-5z"/>
<path fill="#fbf1b4" d="M295 104h10v5h-10zM300 109h5v5h-5zM185 117h5v5h-5zM305 114h5v6h-5zM320 114h5v5h-5zM305 120h5v5h-5zM310 119h10v6h-10zM181 128h10v5h-10zM301 125h4v5h-4zM171 133h10v6h-10zM186 133h10v5h-10zM161 139h10v5h-10zM161 144h5v6h-5zM166 144h5v5h-5zM176 144h5v5h-5zM191 143h5v6h-5zM201 143h5v6h-5zM166 149h10v6h-10zM191 149h5v5h-5zM201 149h5v5h-5zM331 146h5v5h-5zM161 155h15v5h-15zM181 154h5v6h-5zM162 160h5v6h-5zM167 160h20v5h-20zM326 156h5v6h-5zM152 166h15v5h-15zM167 165h10v6h-10zM177 165h10v5h-10zM152 171h15v5h-15zM177 170h5v6h-5zM152 176h10v6h-10zM162 176h10v5h-10zM182 176h5v5h-5zM197 175h5v6h-5zM152 182h10v5h-10zM162 181h5v6h-5zM172 181h5v6h-5zM197 181h5v5h-5zM302 178h5v6h-5zM317 178h5v5h-5zM152 187h5v5h-5zM162 187h15v5h-15zM182 186h10v6h-10zM197 186h5v5h-5zM153 192h5v6h-5zM177 192h5v5h-5zM187 192h5v5h-5zM202 191h5v6h-5zM153 198h10v5h-10zM178 197h5v5h-5zM312 194h5v5h-5zM153 203h5v5h-5zM163 203h5v5h-5zM282 200h5v5h-5zM362 198h5v6h-5zM153 208h10v6h-10zM153 214h10v5h-10zM163 213h5v6h-5zM307 210h5v5h-5zM153 219h10v5h-10zM283 216h5v5h-5zM302 216h5v5h-5zM153 224h5v6h-5zM154 230h5v5h-5z"/>
<path fill="#dcc662" d="M325 103h5v5h-5zM350 108h10v5h-10zM360 118h5v6h-5zM355 124h5v5h-5zM346 129h5v6h-5zM351 129h5v5h-5zM361 129h5v5h-5zM346 135h5v5h-5zM351 134h5v6h-5zM361 134h5v6h-5zM309 301h5v5h-5z"/>
<path fill="#d2bd50" d="M330 103h5v5h-5zM340 108h5v5h-5zM345 124h10v5h-10zM356 129h5v5h-5z"/>
<path fill="#e6cf74" d="M340 103h10v5h-10zM350 102h15v6h-15zM315 109h5v5h-5zM345 108h5v5h-5zM360 108h5v5h-5zM340 113h10v6h-10zM350 113h5v5h-5zM360 113h5v5h-5zM340 119h10v5h-10zM355 118h5v6h-5zM341 140h5v5h-5zM294 301h5v5h-5z"/>
<path fill="#b5d4ca" d="M225 116h5v5h-5zM241 132h5v5h-5zM231 143h5v5h-5zM256 142h5v5h-5zM251 147h10v6h-10zM281 147h5v5h-5zM251 153h10v5h-10zM266 152h5v6h-5zM291 157h5v6h-5zM261 163h5v6h-5zM271 163h5v5h-5z"/>
<path fill="#d4e4d4" d="M260 121h5v5h-5zM256 126h15v5h-15zM251 131h5v6h-5zM261 131h5v6h-5zM266 131h10v5h-10zM206 138h5v5h-5zM241 137h5v5h-5zM261 137h5v5h-5zM266 136h5v6h-5zM276 136h5v6h-5zM281 136h10v5h-10zM241 142h5v6h-5zM261 142h5v5h-5zM276 142h5v5h-5zM281 141h15v6h-15zM236 148h10v5h-10zM301 146h5v6h-5zM291 163h5v5h-5zM292 194h5v6h-5zM297 200h5v5h-5zM292 205h5v5h-5zM277 211h5v5h-5z"/>
<path fill="#c8b540" d="M360 124h5v5h-5z"/>
<path fill="#a8cdc5" d="M276 147h5v5h-5zM287 195h5v5h-5z"/>
<path fill="#70b3b2" d="M302 200h5v5h-5z"/>
<path fill="#8ec2bc" d="M277 205h5v6h-5z"/>
</g>
<path d="M151.2,102.5L156.8,311.2M182.6,102.5L188.0,311.2M214.0,102.5L219.1,311.2M245.4,102.5L250.3,311.2M276.8,102.5L281.5,311.2M308.2,102.5L312.6,311.2M339.6,102.5L343.8,311.2M150.6,121.9L369.5,117.7M150.6,148.6L369.5,144.4M150.6,175.2L369.5,171.0M150.6,201.8L369.5,197.7M150.6,228.5L369.5,224.3M150.6,255.2L369.5,251.0M150.6,281.8L369.5,277.6M150.6,308.4L369.5,304.2" stroke="#b0b0b0" stroke-width="1.1" fill="none"/>
<path d="M319.6,311.0L319.6,299.6L318.9,293.1L317.0,288.0L314.4,282.8L312.5,277.7L309.3,273.8L306.1,270.6L301.6,269.3L299.6,268.1L301.3,264.8L301.6,261.0L300.0,257.1L299.0,252.6L297.7,248.8L299.0,246.2L302.9,243.0L306.7,236.6L309.3,230.1L309.9,225.0L316.3,216.0L320.2,205.7L324.1,191.6L327.3,178.1L332.4,165.8L338.8,155.6L344.0,149.1L350.4,145.3L356.8,143.7L359.4,142.5L361.0,144.0L361.3,146.6L358.8,150.4L356.8,155.6L354.9,168.4L353.0,182.6L350.4,191.6L350.2,194.1L351.7,198.0L354.3,203.1L356.2,207.6L355.6,210.2L354.3,212.1L354.9,214.7L356.8,215.3L358.8,213.4L359.4,210.8L360.7,209.8L362.2,211.5L362.6,214.7L360.7,218.5L357.5,222.4L355.6,225.0L356.6,229.5L354.9,234.0L356.2,237.2L358.8,239.4L362.0,240.2L365.2,238.9L367.1,235.9L368.7,232.7L369.5,231.0" stroke="#808080" stroke-width="1.4" fill="none" stroke-linejoin="round"/>
</g>
<rect x="150.6" y="102.5" width="218.9" height="208.7" fill="none" stroke="#000" stroke-width="1.1"/>
<text x="259.75" y="72.50" font-size="16.67" text-anchor="middle" >u [m/s]</text>
<text x="151.30" y="91.50" font-size="13.89" text-anchor="middle" >112.5°E</text>
<text x="213.80" y="91.50" font-size="13.89" text-anchor="middle" >113°E</text>
<text x="276.40" y="91.50" font-size="13.89" text-anchor="middle" >113.5°E</text>
<text x="339.00" y="91.50" font-size="13.89" text-anchor="middle" >114°E</text>
<text x="157.00" y="328.50" font-size="13.89" text-anchor="middle" >112.5°E</text>
<text x="219.40" y="328.50" font-size="13.89" text-anchor="middle" >113°E</text>
<text x="281.50" y="328.50" font-size="13.89" text-anchor="middle" >113.5°E</text>
<text x="343.60" y="328.50" font-size="13.89" text-anchor="middle" >114°E</text>
<text x="143.30" y="126.70" font-size="13.89" text-anchor="end" >21.6°S</text>
<text x="143.30" y="153.35" font-size="13.89" text-anchor="end" >21.8°S</text>
<text x="143.30" y="180.00" font-size="13.89" text-anchor="end" >22°S</text>
<text x="143.30" y="206.65" font-size="13.89" text-anchor="end" >22.2°S</text>
<text x="143.30" y="233.30" font-size="13.89" text-anchor="end" >22.4°S</text>
<text x="143.30" y="259.95" font-size="13.89" text-anchor="end" >22.6°S</text>
<text x="143.30" y="286.60" font-size="13.89" text-anchor="end" >22.8°S</text>
<text x="143.30" y="313.25" font-size="13.89" text-anchor="end" >23°S</text>
<linearGradient id="gu" x1="0" y1="0" x2="0" y2="1"><stop offset="0.000" stop-color="#172313"/><stop offset="0.100" stop-color="#1c5a2c"/><stop offset="0.200" stop-color="#5b8c1c"/><stop offset="0.300" stop-color="#b9ad3a"/><stop offset="0.400" stop-color="#e6d77a"/><stop offset="0.500" stop-color="#fefccb"/><stop offset="0.600" stop-color="#b5d6c4"/><stop offset="0.700" stop-color="#5aa6a6"/><stop offset="0.800" stop-color="#2b7f9c"/><stop offset="0.900" stop-color="#1f4a8e"/><stop offset="1.000" stop-color="#112040"/></linearGradient>
<rect x="383.5" y="182.5" width="2.0" height="49.2" fill="url(#gu)" stroke="#000" stroke-width="1.1"/>
<clipPath id="clipv"><rect x="478.6" y="102.5" width="218.9" height="208.7"/></clipPath>
<g clip-path="url(#clipv)">
<rect x="478.6" y="102.5" width="218.9" height="208.7" fill="#97b6e1"/>
<polygon points="647.6,311.0 647.6,299.6 646.9,293.1 645.0,288.0 642.4,282.8 640.5,277.7 637.3,273.8 634.1,270.6 629.6,269.3 627.6,268.1 629.3,264.8 629.6,261.0 628.0,257.1 627.0,252.6 625.7,248.8 627.0,246.2 630.9,243.0 634.7,236.6 637.3,230.1 637.9,225.0 644.3,216.0 648.2,205.7 652.1,191.6 655.3,178.1 660.4,165.8 666.8,155.6 672.0,149.1 678.4,145.3 684.8,143.7 687.4,142.5 689.0,144.0 689.3,146.6 686.8,150.4 684.8,155.6 682.9,168.4 681.0,182.6 678.4,191.6 678.2,194.1 679.7,198.0 682.3,203.1 684.2,207.6 683.6,210.2 682.3,212.1 682.9,214.7 684.8,215.3 686.8,213.4 687.4,210.8 688.7,209.8 690.2,211.5 690.6,214.7 688.7,218.5 685.5,222.4 683.6,225.0 684.6,229.5 682.9,234.0 684.2,237.2 686.8,239.4 690.0,240.2 693.2,238.9 695.1,235.9 696.7,232.7 697.5,231.0 699.0,231.0 699.0,313.0 647.6,313.0" fill="#efefdb"/>
<path shape-rendering="crispEdges" fill="#fffdd0" d="M478 107h30v5h-30zM508 106h15v6h-15zM523 106h25v5h-25zM548 105h15v6h-15zM563 105h30v5h-30zM593 104h15v6h-15zM608 104h30v5h-30zM638 103h15v6h-15zM653 103h25v5h-25zM678 102h15v6h-15zM478 112h15v6h-15zM492 111h32v7h-32zM522 110h12v8h-12zM532 110h32v7h-32zM562 109h17v8h-17zM577 109h32v7h-32zM607 108h17v8h-17zM622 108h32v7h-32zM652 107h17v8h-17zM668 108h25v5h-25zM478 118h15v5h-15zM492 116h17v8h-17zM507 116h27v7h-27zM532 115h17v8h-17zM547 115h32v7h-32zM577 114h17v8h-17zM592 114h32v7h-32zM622 113h17v8h-17zM637 113h32v7h-32zM667 112h12v8h-12zM678 113h15v5h-15zM479 123h29v5h-29zM507 121h17v8h-17zM522 121h27v7h-27zM547 120h17v8h-17zM562 120h32v7h-32zM592 119h17v8h-17zM607 119h32v7h-32zM637 118h17v8h-17zM652 118h27v7h-27zM678 118h15v6h-15zM479 128h15v6h-15zM493 127h32v7h-32zM523 126h12v8h-12zM533 126h32v7h-32zM563 125h17v8h-17zM578 125h32v7h-32zM608 124h17v8h-17zM623 124h31v7h-31zM652 123h12v8h-12zM663 124h30v5h-30zM479 134h15v5h-15zM493 132h17v8h-17zM508 132h27v7h-27zM533 131h17v8h-17zM548 131h32v7h-32zM578 130h17v8h-17zM593 130h32v7h-32zM623 129h17v8h-17zM638 129h27v7h-27zM663 128h17v8h-17zM679 129h15v5h-15zM479 139h30v5h-30zM508 137h12v8h-12zM518 137h32v7h-32zM548 136h17v8h-17zM563 136h32v7h-32zM593 135h17v8h-17zM608 135h32v7h-32zM638 134h12v8h-12zM648 134h32v7h-32zM679 134h15v6h-15zM479 144h15v6h-15zM493 143h27v7h-27zM518 142h17v8h-17zM533 142h32v7h-32zM563 141h17v8h-17zM578 141h32v7h-32zM608 140h17v8h-17zM623 140h27v7h-27zM648 139h17v8h-17zM664 140h30v5h-30zM479 150h15v5h-15zM493 148h12v8h-12zM503 148h32v7h-32zM533 147h17v8h-17zM548 147h32v7h-32zM578 146h17v8h-17zM593 146h32v7h-32zM623 145h17v8h-17zM638 145h27v7h-27zM663 144h17v8h-17zM679 145h15v5h-15zM479 155h25v5h-25zM503 153h17v8h-17zM518 153h32v7h-32zM548 152h17v8h-17zM563 152h32v7h-32zM593 151h17v8h-17zM608 151h32v7h-32zM638 150h12v8h-12zM648 150h32v7h-32zM679 150h15v6h-15zM480 160h15v6h-15zM494 159h26v7h-26zM518 158h17v8h-17zM533 158h32v7h-32zM563 157h17v8h-17zM578 157h32v7h-32zM608 156h17v8h-17zM623 156h27v7h-27zM648 155h17v8h-17zM664 156h30v5h-30zM480 166h15v5h-15zM494 164h12v8h-12zM504 164h32v7h-32zM534 163h17v8h-17zM549 163h31v7h-31zM578 162h17v8h-17zM593 162h32v7h-32zM623 161h12v8h-12zM633 161h32v7h-32zM663 160h17v8h-17zM679 161h15v5h-15zM480 171h25v5h-25zM504 169h17v8h-17zM519 169h32v7h-32zM549 168h17v8h-17zM564 168h32v7h-32zM594 167h16v8h-16zM608 167h27v7h-27zM633 166h17v8h-17zM648 166h32v7h-32zM679 166h15v6h-15zM480 176h10v6h-10zM489 175h32v7h-32zM519 174h17v8h-17zM534 174h32v7h-32zM564 173h17v8h-17zM579 173h32v7h-32zM609 172h12v8h-12zM619 172h31v7h-31zM648 171h17v8h-17zM664 172h30v5h-30zM480 182h10v5h-10zM489 180h17v8h-17zM504 180h32v7h-32zM534 179h17v8h-17zM549 179h32v7h-32zM579 178h17v8h-17zM594 178h27v7h-27zM619 177h17v8h-17zM634 177h31v7h-31zM663 176h17v8h-17zM679 177h15v5h-15zM480 187h25v5h-25zM504 185h17v8h-17zM519 185h32v7h-32zM549 184h17v8h-17zM564 184h32v7h-32zM594 183h17v8h-17zM609 183h27v7h-27zM634 182h17v8h-17zM649 182h32v7h-32zM680 182h14v6h-14zM481 192h10v6h-10zM490 191h31v7h-31zM519 190h17v8h-17zM534 190h32v7h-32zM564 189h17v8h-17zM579 189h32v7h-32zM609 188h12v8h-12zM619 188h32v7h-32zM649 187h17v8h-17zM665 188h30v5h-30zM481 198h10v5h-10zM490 196h17v8h-17zM505 196h31v7h-31zM534 195h17v8h-17zM549 195h32v7h-32zM579 194h17v8h-17zM594 194h27v7h-27zM619 193h17v8h-17zM634 193h32v7h-32zM664 192h17v8h-17zM680 193h15v5h-15zM481 203h25v5h-25zM505 201h17v8h-17zM520 201h31v7h-31zM549 200h17v8h-17zM564 200h32v7h-32zM594 199h12v8h-12zM604 199h32v7h-32zM634 198h17v8h-17zM649 198h32v7h-32zM680 198h15v6h-15zM481 208h10v6h-10zM490 207h32v7h-32zM520 206h17v8h-17zM535 206h32v7h-32zM565 205h16v8h-16zM579 205h27v7h-27zM604 204h17v8h-17zM619 204h32v7h-32zM649 203h17v8h-17zM665 204h30v5h-30zM481 214h10v5h-10zM490 212h17v8h-17zM505 212h32v7h-32zM535 211h17v8h-17zM550 211h32v7h-32zM580 210h12v8h-12zM590 210h31v7h-31zM619 209h17v8h-17zM634 209h32v7h-32zM664 208h17v8h-17zM680 209h15v5h-15zM481 219h25v5h-25zM505 217h17v8h-17zM520 217h32v7h-32zM550 216h17v8h-17zM565 216h27v7h-27zM590 215h17v8h-17zM605 215h31v7h-31zM634 214h17v8h-17zM649 214h32v7h-32zM680 214h15v6h-15zM481 224h10v6h-10zM490 223h32v7h-32zM520 222h17v8h-17zM535 222h32v7h-32zM565 221h17v8h-17zM580 221h27v7h-27zM605 220h17v8h-17zM620 220h31v7h-31zM649 219h17v8h-17zM665 220h30v5h-30zM482 230h10v5h-10zM491 228h16v8h-16zM505 228h32v7h-32zM535 227h17v8h-17zM550 227h32v7h-32zM580 226h12v8h-12zM590 226h32v7h-32zM620 225h17v8h-17zM635 225h31v7h-31zM664 224h17v8h-17zM680 225h15v5h-15zM482 235h25v5h-25zM506 233h17v8h-17zM521 233h31v7h-31zM550 232h17v8h-17zM565 232h27v7h-27zM590 231h17v8h-17zM605 231h32v7h-32zM635 230h17v8h-17zM650 230h31v7h-31zM680 230h15v6h-15zM482 240h10v6h-10zM491 239h32v7h-32zM521 238h17v8h-17zM536 238h31v7h-31zM565 237h12v8h-12zM575 237h32v7h-32zM605 236h17v8h-17zM620 236h32v7h-32zM650 235h17v8h-17zM666 236h29v5h-29zM482 246h10v5h-10zM491 244h17v8h-17zM506 244h32v7h-32zM536 243h17v8h-17zM551 243h26v7h-26zM575 242h17v8h-17zM590 242h32v7h-32zM620 241h17v8h-17zM635 241h32v7h-32zM665 240h17v8h-17zM681 241h14v5h-14zM482 251h25v5h-25zM506 249h17v8h-17zM521 249h32v7h-32zM551 248h12v8h-12zM561 248h31v7h-31zM590 247h17v8h-17zM605 247h32v7h-32zM635 246h17v8h-17zM650 246h32v7h-32zM681 246h15v6h-15zM482 256h10v6h-10zM491 255h32v7h-32zM521 254h17v8h-17zM536 254h27v7h-27zM561 253h17v8h-17zM576 253h31v7h-31zM605 252h17v8h-17zM620 252h32v7h-32zM650 251h17v8h-17zM666 252h30v5h-30zM483 262h9v5h-9zM491 260h17v8h-17zM506 260h32v7h-32zM536 259h17v8h-17zM551 259h27v7h-27zM576 258h17v8h-17zM591 258h31v7h-31zM620 257h17v8h-17zM635 257h32v7h-32zM665 256h17v8h-17zM681 257h15v5h-15zM483 267h25v5h-25zM507 265h16v8h-16zM521 265h32v7h-32zM551 264h12v8h-12zM561 264h32v7h-32zM591 263h17v8h-17zM606 263h31v7h-31zM635 262h17v8h-17zM650 262h32v7h-32zM681 262h15v6h-15zM483 272h10v6h-10zM492 271h32v7h-32zM522 270h16v8h-16zM536 270h27v7h-27zM561 269h17v8h-17zM576 269h32v7h-32zM606 268h17v8h-17zM621 268h31v7h-31zM650 267h17v8h-17zM666 268h30v5h-30zM483 278h10v5h-10zM492 276h17v8h-17zM507 276h32v7h-32zM537 275h11v8h-11zM546 275h32v7h-32zM576 274h17v8h-17zM591 274h32v7h-32zM621 273h17v8h-17zM636 273h31v7h-31zM665 272h17v8h-17zM681 273h15v5h-15zM483 283h25v5h-25zM507 281h17v8h-17zM522 281h27v7h-27zM547 280h16v8h-16zM561 280h32v7h-32zM591 279h17v8h-17zM606 279h32v7h-32zM636 278h17v8h-17zM651 278h31v7h-31zM680 277h12v8h-12zM691 278h5v5h-5zM483 288h10v6h-10zM492 287h32v7h-32zM522 286h12v8h-12zM532 286h32v7h-32zM562 285h16v8h-16zM576 285h32v7h-32zM606 284h17v8h-17zM621 284h32v7h-32zM651 283h17v8h-17zM666 283h26v7h-26zM691 283h5v6h-5zM484 294h9v5h-9zM492 292h17v8h-17zM507 292h27v7h-27zM532 291h17v8h-17zM547 291h32v7h-32zM577 290h16v8h-16zM591 290h32v7h-32zM621 289h17v8h-17zM636 289h32v7h-32zM666 288h12v8h-12zM677 289h19v5h-19zM484 299h24v5h-24zM507 297h17v8h-17zM522 297h27v7h-27zM547 296h17v8h-17zM562 296h32v7h-32zM592 295h16v8h-16zM606 295h32v7h-32zM636 294h17v8h-17zM651 294h27v7h-27zM676 293h16v8h-16zM691 294h5v5h-5zM484 304h10v6h-10zM494 304h29v5h-29zM523 303h10v6h-10zM533 303h30v5h-30zM563 302h15v6h-15zM578 302h29v5h-29zM607 301h15v6h-15zM622 301h30v5h-30zM652 300h15v6h-15zM667 300h25v5h-25zM692 299h5v6h-5z"/>
<g shape-rendering="crispEdges">
<path fill="#fbfae4" d="M481 110h4v4h-4zM676 106h4v4h-4zM481 116h4v4h-4zM481 121h4v4h-4zM531 120h4v4h-4zM487 126h4v4h-4zM492 126h4v4h-4zM482 132h4v4h-4zM671 127h4v4h-4zM482 137h4v4h-4zM492 142h4v4h-4zM502 147h4v4h-4zM522 147h4v4h-4zM532 147h4v4h-4zM497 158h4v4h-4zM502 158h4v4h-4zM522 163h4v4h-4zM508 168h4v4h-4zM498 174h4v4h-4zM483 180h4v4h-4zM483 185h4v4h-4zM483 190h4v4h-4zM508 190h4v4h-4zM484 196h4v4h-4zM493 195h4v4h-4zM484 201h4v4h-4zM623 219h4v4h-4z"/>
<path fill="#f0f3de" d="M486 110h4v4h-4zM491 110h4v4h-4zM496 110h4v4h-4zM501 110h4v4h-4zM491 116h4v4h-4zM496 115h4v4h-4zM656 112h4v4h-4zM491 121h4v4h-4zM496 121h4v4h-4zM497 126h4v4h-4zM501 126h4v4h-4zM661 122h4v4h-4zM676 122h4v4h-4zM487 132h4v4h-4zM492 132h4v4h-4zM497 131h4v4h-4zM666 127h4v4h-4zM487 137h4v4h-4zM492 137h4v4h-4zM482 142h4v4h-4zM487 142h4v4h-4zM507 142h4v4h-4zM482 148h4v4h-4zM487 148h4v4h-4zM632 144h4v4h-4zM637 144h4v4h-4zM662 144h4v4h-4zM482 153h4v4h-4zM502 153h4v4h-4zM532 152h4v4h-4zM517 158h4v4h-4zM483 164h4v4h-4zM498 163h4v4h-4zM503 163h4v4h-4zM483 169h4v4h-4zM493 169h4v4h-4zM498 169h4v4h-4zM642 165h4v4h-4zM483 174h4v4h-4zM488 174h4v4h-4zM493 174h4v4h-4zM488 180h4v4h-4zM493 179h4v4h-4zM498 179h4v4h-4zM503 179h4v4h-4zM523 179h4v4h-4zM488 185h4v4h-4zM493 185h4v4h-4zM498 185h4v4h-4zM503 185h4v4h-4zM488 190h4v4h-4zM493 190h4v4h-4zM498 190h4v4h-4zM503 190h4v4h-4zM489 196h4v4h-4zM498 195h4v4h-4zM503 195h4v4h-4zM489 201h4v4h-4zM494 201h4v4h-4zM499 201h4v4h-4zM484 206h4v4h-4zM489 206h4v4h-4zM494 206h4v4h-4zM613 203h4v4h-4zM489 212h4v4h-4zM600 278h4v4h-4zM605 294h4v4h-4z"/>
<path fill="#e3ecd9" d="M506 110h4v4h-4zM511 110h4v4h-4zM671 106h4v4h-4zM681 106h4v4h-4zM501 115h4v4h-4zM506 115h4v4h-4zM681 111h4v4h-4zM486 121h4v4h-4zM501 121h4v4h-4zM506 121h4v4h-4zM511 120h4v4h-4zM676 117h4v4h-4zM681 116h4v4h-4zM506 126h4v4h-4zM511 126h4v4h-4zM666 122h4v4h-4zM671 122h4v4h-4zM502 131h4v4h-4zM507 131h4v4h-4zM512 131h4v4h-4zM676 127h4v4h-4zM681 127h4v4h-4zM497 137h4v4h-4zM502 137h4v4h-4zM507 137h4v4h-4zM512 136h4v4h-4zM672 133h4v4h-4zM512 142h4v4h-4zM492 148h4v4h-4zM497 147h4v4h-4zM507 147h4v4h-4zM512 147h4v4h-4zM487 153h4v4h-4zM507 152h4v4h-4zM512 152h4v4h-4zM522 152h4v4h-4zM492 158h4v4h-4zM512 158h4v4h-4zM527 157h4v4h-4zM622 155h4v4h-4zM642 155h4v4h-4zM508 163h4v4h-4zM513 163h4v4h-4zM622 161h4v4h-4zM513 168h4v4h-4zM518 168h4v4h-4zM508 174h4v4h-4zM508 179h4v4h-4zM513 179h4v4h-4zM518 179h4v4h-4zM533 179h4v4h-4zM513 184h4v4h-4zM523 184h4v4h-4zM513 190h4v4h-4z"/>
<path fill="#d4e4d4" d="M516 110h4v4h-4zM521 110h4v4h-4zM526 109h4v4h-4zM531 109h4v4h-4zM656 106h4v4h-4zM661 106h4v4h-4zM666 106h4v4h-4zM511 115h4v4h-4zM516 115h4v4h-4zM521 115h4v4h-4zM526 115h4v4h-4zM631 112h4v4h-4zM666 112h4v4h-4zM521 120h4v4h-4zM666 117h4v4h-4zM671 117h4v4h-4zM521 126h4v4h-4zM631 123h4v4h-4zM517 131h4v4h-4zM627 128h4v4h-4zM661 128h4v4h-4zM517 136h4v4h-4zM522 136h4v4h-4zM532 136h4v4h-4zM602 134h4v4h-4zM662 133h4v4h-4zM667 133h4v4h-4zM677 133h4v4h-4zM497 142h4v4h-4zM517 142h4v4h-4zM522 141h4v4h-4zM662 138h4v4h-4zM667 138h4v4h-4zM517 147h4v4h-4zM497 153h4v4h-4zM517 152h4v4h-4zM627 150h4v4h-4zM487 158h4v4h-4zM532 157h4v4h-4zM532 163h4v4h-4zM523 168h4v4h-4zM632 166h4v4h-4zM503 174h4v4h-4zM513 174h4v4h-4zM518 174h4v4h-4zM528 179h4v4h-4zM508 184h4v4h-4zM533 184h4v4h-4zM533 189h4v4h-4zM628 198h4v4h-4zM633 198h4v4h-4zM608 203h4v4h-4zM618 203h4v4h-4zM608 209h4v4h-4zM613 209h4v4h-4zM618 209h4v4h-4zM484 217h4v4h-4zM608 214h4v4h-4zM613 214h4v4h-4zM618 219h4v4h-4zM600 300h4v4h-4z"/>
<path fill="#c5dcd0" d="M536 109h4v4h-4zM541 109h4v4h-4zM636 107h4v4h-4zM641 107h4v4h-4zM646 107h4v4h-4zM651 107h4v4h-4zM536 114h4v4h-4zM641 112h4v4h-4zM646 112h4v4h-4zM651 112h4v4h-4zM661 112h4v4h-4zM671 111h4v4h-4zM526 120h4v4h-4zM536 120h4v4h-4zM641 117h4v4h-4zM646 117h4v4h-4zM651 117h4v4h-4zM656 117h4v4h-4zM661 117h4v4h-4zM516 126h4v4h-4zM526 125h4v4h-4zM531 125h4v4h-4zM536 125h4v4h-4zM641 123h4v4h-4zM646 123h4v4h-4zM651 123h4v4h-4zM656 122h4v4h-4zM522 131h4v4h-4zM527 131h4v4h-4zM532 131h4v4h-4zM612 129h4v4h-4zM641 128h4v4h-4zM646 128h4v4h-4zM651 128h4v4h-4zM656 128h4v4h-4zM527 136h4v4h-4zM537 136h4v4h-4zM642 133h4v4h-4zM647 133h4v4h-4zM652 133h4v4h-4zM657 133h4v4h-4zM502 142h4v4h-4zM532 141h4v4h-4zM642 139h4v4h-4zM647 139h4v4h-4zM652 138h4v4h-4zM537 146h4v4h-4zM652 144h4v4h-4zM657 144h4v4h-4zM652 149h4v4h-4zM657 149h4v4h-4zM507 158h4v4h-4zM522 157h4v4h-4zM652 154h4v4h-4zM493 164h4v4h-4zM517 163h4v4h-4zM632 160h4v4h-4zM647 160h4v4h-4zM503 169h4v4h-4zM528 168h4v4h-4zM533 168h4v4h-4zM647 165h4v4h-4zM523 173h4v4h-4zM528 173h4v4h-4zM533 173h4v4h-4zM622 171h4v4h-4zM637 171h4v4h-4zM642 171h4v4h-4zM637 176h4v4h-4zM642 176h4v4h-4zM518 184h4v4h-4zM643 181h4v4h-4zM633 192h4v4h-4zM613 198h4v4h-4zM623 198h4v4h-4zM494 211h4v4h-4zM618 214h4v4h-4zM614 219h4v4h-4zM628 219h4v4h-4z"/>
<path fill="#b5d4ca" d="M546 109h4v4h-4zM551 109h4v4h-4zM556 109h4v4h-4zM561 109h4v4h-4zM566 108h4v4h-4zM571 108h4v4h-4zM606 108h4v4h-4zM611 107h4v4h-4zM616 107h4v4h-4zM621 107h4v4h-4zM626 107h4v4h-4zM631 107h4v4h-4zM531 115h4v4h-4zM621 113h4v4h-4zM626 112h4v4h-4zM636 112h4v4h-4zM621 118h4v4h-4zM626 118h4v4h-4zM636 118h4v4h-4zM561 125h4v4h-4zM591 124h4v4h-4zM601 124h4v4h-4zM621 123h4v4h-4zM626 123h4v4h-4zM636 123h4v4h-4zM537 130h4v4h-4zM582 129h4v4h-4zM622 129h4v4h-4zM631 128h4v4h-4zM636 128h4v4h-4zM542 136h4v4h-4zM547 136h4v4h-4zM552 135h4v4h-4zM557 135h4v4h-4zM622 134h4v4h-4zM627 134h4v4h-4zM632 134h4v4h-4zM637 134h4v4h-4zM527 141h4v4h-4zM542 141h4v4h-4zM547 141h4v4h-4zM622 139h4v4h-4zM627 139h4v4h-4zM632 139h4v4h-4zM657 138h4v4h-4zM622 145h4v4h-4zM627 144h4v4h-4zM642 144h4v4h-4zM647 144h4v4h-4zM612 150h4v4h-4zM622 150h4v4h-4zM637 150h4v4h-4zM647 149h4v4h-4zM592 156h4v4h-4zM617 155h4v4h-4zM632 155h4v4h-4zM637 155h4v4h-4zM647 155h4v4h-4zM612 161h4v4h-4zM637 160h4v4h-4zM607 166h4v4h-4zM622 166h4v4h-4zM627 166h4v4h-4zM637 165h4v4h-4zM627 171h4v4h-4zM632 171h4v4h-4zM628 176h4v4h-4zM632 176h4v4h-4zM528 184h4v4h-4zM638 181h4v4h-4zM633 187h4v4h-4zM638 187h4v4h-4zM638 192h4v4h-4z"/>
<path fill="#a8cdc5" d="M576 108h4v4h-4zM581 108h4v4h-4zM586 108h4v4h-4zM591 108h4v4h-4zM596 108h4v4h-4zM601 108h4v4h-4zM556 114h4v4h-4zM561 114h4v4h-4zM566 114h4v4h-4zM571 114h4v4h-4zM576 114h4v4h-4zM586 113h4v4h-4zM591 113h4v4h-4zM601 113h4v4h-4zM606 113h4v4h-4zM611 113h4v4h-4zM616 113h4v4h-4zM561 119h4v4h-4zM566 119h4v4h-4zM571 119h4v4h-4zM576 119h4v4h-4zM591 119h4v4h-4zM596 118h4v4h-4zM601 118h4v4h-4zM606 118h4v4h-4zM611 118h4v4h-4zM616 118h4v4h-4zM631 118h4v4h-4zM541 125h4v4h-4zM566 124h4v4h-4zM571 124h4v4h-4zM576 124h4v4h-4zM581 124h4v4h-4zM606 124h4v4h-4zM611 123h4v4h-4zM616 123h4v4h-4zM542 130h4v4h-4zM572 130h4v4h-4zM577 130h4v4h-4zM597 129h4v4h-4zM617 129h4v4h-4zM572 135h4v4h-4zM577 135h4v4h-4zM592 135h4v4h-4zM597 134h4v4h-4zM607 134h4v4h-4zM612 134h4v4h-4zM617 134h4v4h-4zM562 141h4v4h-4zM572 140h4v4h-4zM577 140h4v4h-4zM592 140h4v4h-4zM597 140h4v4h-4zM602 140h4v4h-4zM607 140h4v4h-4zM612 139h4v4h-4zM617 139h4v4h-4zM637 139h4v4h-4zM527 147h4v4h-4zM567 146h4v4h-4zM587 145h4v4h-4zM592 145h4v4h-4zM597 145h4v4h-4zM602 145h4v4h-4zM607 145h4v4h-4zM612 145h4v4h-4zM617 145h4v4h-4zM527 152h4v4h-4zM582 151h4v4h-4zM587 151h4v4h-4zM592 151h4v4h-4zM632 150h4v4h-4zM642 149h4v4h-4zM627 155h4v4h-4zM527 163h4v4h-4zM617 161h4v4h-4zM627 160h4v4h-4zM628 182h4v4h-4zM633 182h4v4h-4z"/>
<path fill="#fefac9" d="M686 106h4v4h-4zM486 116h4v4h-4zM686 127h4v4h-4zM492 153h4v4h-4zM489 217h4v4h-4z"/>
<path fill="#8ec2bc" d="M581 113h4v4h-4zM596 113h4v4h-4zM581 119h4v4h-4zM586 119h4v4h-4zM586 124h4v4h-4zM596 124h4v4h-4zM587 129h4v4h-4zM592 129h4v4h-4zM602 129h4v4h-4zM607 129h4v4h-4zM587 135h4v4h-4zM537 141h4v4h-4zM567 140h4v4h-4zM582 140h4v4h-4zM587 140h4v4h-4zM582 145h4v4h-4zM537 152h4v4h-4zM617 150h4v4h-4zM612 155h4v4h-4z"/>
<path fill="#fbf1b4" d="M676 111h4v4h-4zM686 111h4v4h-4zM516 120h4v4h-4zM686 122h4v4h-4zM482 158h4v4h-4zM488 164h4v4h-4zM488 169h4v4h-4zM484 212h4v4h-4zM605 300h4v4h-4z"/>
<path fill="#eed888" d="M686 116h4v4h-4z"/>
<path fill="#fdf6c0" d="M482 126h4v4h-4zM484 222h4v4h-4z"/>
<path fill="#dcc662" d="M681 122h4v4h-4z"/>
<path fill="#70b3b2" d="M582 135h4v4h-4zM642 160h4v4h-4zM618 198h4v4h-4z"/>
<path fill="#f8eaa6" d="M610 299h4v4h-4z"/>
<path fill="#fbfae4" d="M478 107h5v5h-5zM673 103h5v5h-5zM478 112h5v6h-5zM478 118h5v5h-5zM528 117h5v5h-5zM484 123h10v5h-10zM688 118h5v6h-5zM479 128h5v6h-5zM668 124h5v5h-5zM479 134h5v5h-5zM489 139h5v5h-5zM499 144h5v5h-5zM519 143h5v6h-5zM529 143h5v6h-5zM539 148h5v6h-5zM494 155h10v5h-10zM519 159h5v6h-5zM505 165h5v5h-5zM495 171h5v5h-5zM480 176h5v6h-5zM480 182h5v5h-5zM480 187h5v5h-5zM505 186h5v6h-5zM481 192h5v6h-5zM491 192h4v5h-4zM640 189h5v5h-5zM690 188h5v5h-5zM481 198h5v5h-5zM496 208h5v5h-5zM491 213h5v6h-5zM620 216h5v5h-5zM486 224h5v6h-5zM616 221h5v6h-5zM626 221h5v5h-5zM482 230h5v5h-5zM632 274h5v6h-5zM637 295h5v6h-5zM598 302h5v5h-5zM607 301h15v6h-15zM632 301h10v5h-10z"/>
<path fill="#f0f3de" d="M483 107h20v5h-20zM488 112h5v6h-5zM493 112h5v5h-5zM653 108h5v6h-5zM488 118h5v5h-5zM493 117h5v6h-5zM494 123h9v5h-9zM658 119h5v5h-5zM673 119h5v5h-5zM484 128h10v6h-10zM494 128h5v5h-5zM663 124h5v5h-5zM688 124h5v5h-5zM484 134h10v5h-10zM479 139h10v5h-10zM504 139h5v5h-5zM479 144h10v6h-10zM629 141h10v5h-10zM659 140h5v6h-5zM664 140h5v5h-5zM479 150h5v5h-5zM499 149h5v6h-5zM529 149h5v5h-5zM514 154h5v6h-5zM654 151h5v5h-5zM480 160h5v6h-5zM495 160h10v5h-10zM480 166h5v5h-5zM490 166h5v5h-5zM495 165h5v6h-5zM639 162h5v5h-5zM649 162h5v5h-5zM480 171h15v5h-15zM485 176h5v6h-5zM490 176h15v5h-15zM520 175h5v6h-5zM689 172h5v5h-5zM485 182h5v5h-5zM490 181h15v6h-15zM689 177h5v5h-5zM485 187h20v5h-20zM620 184h10v5h-10zM486 192h5v6h-5zM495 192h20v5h-20zM486 198h5v5h-5zM491 197h15v6h-15zM506 197h5v5h-5zM690 193h5v5h-5zM481 203h15v5h-15zM610 200h5v5h-5zM486 208h5v6h-5zM496 213h5v6h-5zM597 275h5v5h-5zM602 280h5v6h-5zM602 291h5v5h-5zM612 296h5v5h-5zM603 302h4v5h-4z"/>
<path fill="#e3ecd9" d="M503 107h5v5h-5zM508 106h5v6h-5zM668 103h5v5h-5zM678 102h5v6h-5zM498 112h10v5h-10zM678 108h5v5h-5zM688 108h5v5h-5zM483 118h5v5h-5zM498 117h10v6h-10zM508 117h5v5h-5zM673 113h5v6h-5zM678 113h5v5h-5zM503 123h5v5h-5zM508 122h5v6h-5zM663 119h10v5h-10zM499 128h15v5h-15zM673 124h10v5h-10zM494 133h15v6h-15zM509 133h5v5h-5zM669 129h5v6h-5zM509 138h5v6h-5zM674 135h5v5h-5zM489 144h5v6h-5zM494 144h5v5h-5zM504 144h10v5h-10zM484 150h5v5h-5zM504 149h10v5h-10zM519 149h5v5h-5zM489 155h5v5h-5zM509 154h5v6h-5zM524 154h5v5h-5zM619 152h5v5h-5zM639 151h5v6h-5zM659 151h5v5h-5zM505 160h10v5h-10zM619 157h5v6h-5zM510 165h10v5h-10zM505 170h5v6h-5zM505 176h15v5h-15zM530 175h5v6h-5zM510 181h5v5h-5zM520 181h5v5h-5zM510 186h10v6h-10zM520 186h10v5h-10zM535 186h5v5h-5zM515 192h5v5h-5zM541 202h9v5h-9zM620 200h5v5h-5zM546 207h5v5h-5zM551 212h5v5h-5zM481 224h5v6h-5zM631 221h4v5h-4zM626 226h5v6h-5zM602 286h5v5h-5z"/>
<path fill="#d4e4d4" d="M513 106h10v6h-10zM523 106h10v5h-10zM653 103h15v5h-15zM508 112h15v5h-15zM523 111h5v6h-5zM628 109h5v5h-5zM663 108h5v6h-5zM518 117h5v5h-5zM663 114h5v5h-5zM668 113h5v6h-5zM518 122h5v6h-5zM628 120h5v5h-5zM514 128h5v5h-5zM624 125h5v5h-5zM658 124h5v6h-5zM514 133h10v5h-10zM529 133h5v5h-5zM599 131h5v5h-5zM659 130h5v5h-5zM664 129h5v6h-5zM674 129h5v6h-5zM679 129h5v5h-5zM494 139h5v5h-5zM514 138h5v6h-5zM519 138h5v5h-5zM659 135h10v5h-10zM514 144h5v5h-5zM669 140h5v5h-5zM494 149h5v6h-5zM514 149h5v5h-5zM624 146h5v6h-5zM664 145h5v6h-5zM484 155h5v5h-5zM529 154h10v5h-10zM529 159h5v6h-5zM654 156h5v6h-5zM520 165h5v5h-5zM629 162h5v6h-5zM500 171h5v5h-5zM510 170h10v6h-10zM609 168h5v5h-5zM525 175h5v6h-5zM535 175h5v5h-5zM600 174h5v5h-5zM615 173h5v6h-5zM620 173h5v5h-5zM505 181h5v5h-5zM530 181h5v5h-5zM530 186h5v5h-5zM530 191h5v6h-5zM535 191h5v5h-5zM535 196h5v6h-5zM625 194h10v6h-10zM501 203h5v5h-5zM605 200h5v5h-5zM615 200h5v5h-5zM605 205h15v6h-15zM620 205h5v5h-5zM481 214h5v5h-5zM605 211h10v5h-10zM606 216h5v5h-5zM616 216h4v5h-4zM635 215h5v6h-5zM611 221h5v6h-5zM602 275h5v5h-5zM597 296h5v6h-5z"/>
<path fill="#c5dcd0" d="M533 106h10v5h-10zM633 104h5v5h-5zM638 103h15v6h-15zM533 111h5v5h-5zM638 109h15v5h-15zM658 108h5v6h-5zM668 108h5v5h-5zM523 117h5v5h-5zM533 116h5v6h-5zM638 114h25v5h-25zM513 122h5v6h-5zM523 122h15v5h-15zM638 119h15v6h-15zM653 119h5v5h-5zM519 128h5v5h-5zM524 127h10v6h-10zM609 125h5v6h-5zM638 125h15v5h-15zM653 124h5v6h-5zM524 133h5v5h-5zM534 132h5v6h-5zM639 130h20v5h-20zM499 139h5v5h-5zM529 138h5v5h-5zM639 135h10v6h-10zM649 135h5v5h-5zM534 143h5v5h-5zM649 140h10v6h-10zM604 147h5v5h-5zM649 146h10v5h-10zM504 154h5v6h-5zM519 154h5v5h-5zM539 154h5v5h-5zM649 151h5v5h-5zM490 160h5v6h-5zM515 160h4v5h-4zM534 159h5v5h-5zM629 157h5v5h-5zM644 157h5v5h-5zM649 156h5v6h-5zM500 165h5v6h-5zM525 165h10v5h-10zM535 164h5v6h-5zM589 163h5v6h-5zM644 162h5v5h-5zM520 170h25v5h-25zM604 168h5v6h-5zM619 168h5v5h-5zM634 167h15v6h-15zM649 167h5v5h-5zM634 173h15v5h-15zM515 181h5v5h-5zM605 179h5v5h-5zM640 178h10v5h-10zM640 183h10v6h-10zM630 189h5v5h-5zM610 195h5v5h-5zM620 194h5v6h-5zM635 194h5v5h-5zM635 199h5v6h-5zM491 208h5v5h-5zM635 205h5v5h-5zM615 211h5v5h-5zM620 210h5v6h-5zM635 210h5v5h-5zM491 219h5v5h-5zM611 216h5v5h-5zM625 216h5v5h-5z"/>
<path fill="#b5d4ca" d="M543 106h5v5h-5zM548 105h15v6h-15zM563 105h10v5h-10zM603 104h5v6h-5zM608 104h25v5h-25zM528 111h5v6h-5zM543 111h10v5h-10zM618 109h5v6h-5zM623 109h5v5h-5zM633 109h5v5h-5zM538 116h5v6h-5zM618 115h5v5h-5zM623 114h5v6h-5zM633 114h5v6h-5zM558 121h5v6h-5zM588 121h5v5h-5zM598 120h5v6h-5zM618 120h10v5h-10zM633 120h5v5h-5zM534 127h5v5h-5zM544 127h5v5h-5zM559 127h5v5h-5zM579 126h5v5h-5zM619 125h5v6h-5zM629 125h9v5h-9zM539 132h10v6h-10zM549 132h10v5h-10zM619 131h5v5h-5zM624 130h15v6h-15zM524 138h5v5h-5zM539 138h10v5h-10zM549 137h10v6h-10zM619 136h15v5h-15zM654 135h5v5h-5zM539 143h5v5h-5zM549 143h5v5h-5zM619 141h5v6h-5zM624 141h5v5h-5zM639 141h10v5h-10zM609 147h5v5h-5zM619 147h5v5h-5zM634 146h5v6h-5zM644 146h5v5h-5zM659 146h5v5h-5zM589 153h5v5h-5zM594 152h5v6h-5zM614 152h5v5h-5zM629 152h10v5h-10zM644 151h5v6h-5zM609 157h5v6h-5zM634 157h5v5h-5zM604 163h20v5h-20zM624 162h5v6h-5zM634 162h5v5h-5zM624 168h10v5h-10zM625 173h9v5h-9zM525 181h5v5h-5zM615 179h5v5h-5zM635 178h5v5h-5zM605 184h5v6h-5zM615 184h5v5h-5zM630 184h5v5h-5zM635 183h5v6h-5zM635 189h5v5h-5zM630 216h5v5h-5z"/>
<path fill="#a8cdc5" d="M573 105h20v5h-20zM593 104h10v6h-10zM538 111h5v5h-5zM553 111h10v5h-10zM563 110h15v6h-15zM583 110h10v5h-10zM598 110h10v5h-10zM608 109h10v6h-10zM553 116h25v5h-25zM588 115h5v6h-5zM593 115h25v5h-25zM628 114h5v6h-5zM538 122h10v5h-10zM563 121h20v5h-20zM603 120h5v6h-5zM608 120h10v5h-10zM539 127h5v5h-5zM564 126h15v6h-15zM594 126h5v5h-5zM614 125h5v6h-5zM559 132h5v5h-5zM569 132h10v5h-10zM589 131h5v6h-5zM594 131h5v5h-5zM604 131h15v5h-15zM559 137h5v6h-5zM569 137h10v5h-10zM589 137h5v5h-5zM594 136h15v6h-15zM609 136h10v5h-10zM634 136h5v5h-5zM524 143h5v6h-5zM544 143h5v5h-5zM559 143h5v5h-5zM564 142h5v6h-5zM574 142h5v6h-5zM584 142h25v5h-25zM609 141h10v6h-10zM524 149h5v5h-5zM564 148h10v5h-10zM579 147h15v6h-15zM594 147h10v5h-10zM629 146h5v6h-5zM639 146h5v5h-5zM579 153h5v5h-5zM624 152h5v5h-5zM524 159h5v6h-5zM589 158h10v5h-10zM614 157h5v6h-5zM624 157h5v5h-5zM599 163h5v5h-5zM610 173h5v6h-5zM535 180h5v6h-5zM625 178h10v6h-10zM640 194h5v5h-5zM625 200h5v5h-5z"/>
<path fill="#fefac9" d="M683 102h10v6h-10zM483 112h5v6h-5zM683 124h5v5h-5zM489 150h5v5h-5zM610 189h5v6h-5zM496 203h5v5h-5zM486 214h5v5h-5zM622 301h5v5h-5z"/>
<path fill="#8ec2bc" d="M578 110h5v5h-5zM593 110h5v5h-5zM578 115h10v6h-10zM583 121h5v5h-5zM593 120h5v6h-5zM584 126h10v5h-10zM599 126h10v5h-10zM584 131h5v6h-5zM534 138h5v5h-5zM564 137h5v5h-5zM579 137h10v5h-10zM569 142h5v6h-5zM579 142h5v5h-5zM534 148h5v6h-5zM614 147h5v5h-5zM584 153h5v5h-5zM609 152h5v5h-5z"/>
<path fill="#fbf1b4" d="M673 108h5v5h-5zM683 108h5v5h-5zM513 117h5v5h-5zM683 118h5v6h-5zM679 134h5v6h-5zM479 155h5v5h-5zM485 160h5v6h-5zM485 166h5v5h-5zM689 182h5v6h-5zM481 208h5v6h-5zM621 221h5v5h-5zM607 291h5v5h-5zM602 296h5v6h-5z"/>
<path fill="#eed888" d="M683 113h5v5h-5zM689 166h5v6h-5z"/>
<path fill="#fdf6c0" d="M688 113h5v5h-5zM479 123h5v5h-5zM689 129h5v5h-5zM669 135h5v5h-5zM689 134h5v6h-5zM690 198h5v6h-5zM481 219h10v5h-10z"/>
<path fill="#dcc662" d="M678 118h5v6h-5z"/>
<path fill="#70b3b2" d="M579 131h5v6h-5zM639 157h5v5h-5zM615 195h5v5h-5z"/>
<path fill="#f8eaa6" d="M684 129h5v5h-5zM607 296h5v5h-5z"/>
<path fill="#f4e298" d="M630 200h5v5h-5zM597 280h5v6h-5z"/>
</g>
<path d="M479.2,102.5L484.8,311.2M510.6,102.5L516.0,311.2M542.0,102.5L547.1,311.2M573.4,102.5L578.3,311.2M604.8,102.5L609.5,311.2M636.2,102.5L640.6,311.2M667.6,102.5L671.8,311.2M478.6,121.9L697.5,117.7M478.6,148.6L697.5,144.4M478.6,175.2L697.5,171.0M478.6,201.8L697.5,197.7M478.6,228.5L697.5,224.3M478.6,255.2L697.5,251.0M478.6,281.8L697.5,277.6M478.6,308.4L697.5,304.2" stroke="#b0b0b0" stroke-width="1.1" fill="none"/>
<path d="M647.6,311.0L647.6,299.6L646.9,293.1L645.0,288.0L642.4,282.8L640.5,277.7L637.3,273.8L634.1,270.6L629.6,269.3L627.6,268.1L629.3,264.8L629.6,261.0L628.0,257.1L627.0,252.6L625.7,248.8L627.0,246.2L630.9,243.0L634.7,236.6L637.3,230.1L637.9,225.0L644.3,216.0L648.2,205.7L652.1,191.6L655.3,178.1L660.4,165.8L666.8,155.6L672.0,149.1L678.4,145.3L684.8,143.7L687.4,142.5L689.0,144.0L689.3,146.6L686.8,150.4L684.8,155.6L682.9,168.4L681.0,182.6L678.4,191.6L678.2,194.1L679.7,198.0L682.3,203.1L684.2,207.6L683.6,210.2L682.3,212.1L682.9,214.7L684.8,215.3L686.8,213.4L687.4,210.8L688.7,209.8L690.2,211.5L690.6,214.7L688.7,218.5L685.5,222.4L683.6,225.0L684.6,229.5L682.9,234.0L684.2,237.2L686.8,239.4L690.0,240.2L693.2,238.9L695.1,235.9L696.7,232.7L697.5,231.0" stroke="#808080" stroke-width="1.4" fill="none" stroke-linejoin="round"/>
</g>
<rect x="478.6" y="102.5" width="218.9" height="208.7" fill="none" stroke="#000" stroke-width="1.1"/>
<text x="587.75" y="72.50" font-size="16.67" text-anchor="middle" >v [m/s]</text>
<text x="479.30" y="91.50" font-size="13.89" text-anchor="middle" >112.5°E</text>
<text x="541.80" y="91.50" font-size="13.89" text-anchor="middle" >113°E</text>
<text x="604.40" y="91.50" font-size="13.89" text-anchor="middle" >113.5°E</text>
<text x="667.00" y="91.50" font-size="13.89" text-anchor="middle" >114°E</text>
<text x="485.00" y="328.50" font-size="13.89" text-anchor="middle" >112.5°E</text>
<text x="547.40" y="328.50" font-size="13.89" text-anchor="middle" >113°E</text>
<text x="609.50" y="328.50" font-size="13.89" text-anchor="middle" >113.5°E</text>
<text x="671.60" y="328.50" font-size="13.89" text-anchor="middle" >114°E</text>
<text x="471.30" y="126.70" font-size="13.89" text-anchor="end" >21.6°S</text>
<text x="471.30" y="153.35" font-size="13.89" text-anchor="end" >21.8°S</text>
<text x="471.30" y="180.00" font-size="13.89" text-anchor="end" >22°S</text>
<text x="471.30" y="206.65" font-size="13.89" text-anchor="end" >22.2°S</text>
<text x="471.30" y="233.30" font-size="13.89" text-anchor="end" >22.4°S</text>
<text x="471.30" y="259.95" font-size="13.89" text-anchor="end" >22.6°S</text>
<text x="471.30" y="286.60" font-size="13.89" text-anchor="end" >22.8°S</text>
<text x="471.30" y="313.25" font-size="13.89" text-anchor="end" >23°S</text>
<linearGradient id="gv" x1="0" y1="0" x2="0" y2="1"><stop offset="0.000" stop-color="#172313"/><stop offset="0.100" stop-color="#1c5a2c"/><stop offset="0.200" stop-color="#5b8c1c"/><stop offset="0.300" stop-color="#b9ad3a"/><stop offset="0.400" stop-color="#e6d77a"/><stop offset="0.500" stop-color="#fefccb"/><stop offset="0.600" stop-color="#b5d6c4"/><stop offset="0.700" stop-color="#5aa6a6"/><stop offset="0.800" stop-color="#2b7f9c"/><stop offset="0.900" stop-color="#1f4a8e"/><stop offset="1.000" stop-color="#112040"/></linearGradient>
<rect x="711.5" y="182.5" width="2.0" height="49.2" fill="url(#gv)" stroke="#000" stroke-width="1.1"/>
<clipPath id="clipq"><rect x="806.6" y="102.5" width="218.9" height="208.7"/></clipPath>
<g clip-path="url(#clipq)">
<rect x="806.6" y="102.5" width="218.9" height="208.7" fill="#97b6e1"/>
<polygon points="975.6,311.0 975.6,299.6 974.9,293.1 973.0,288.0 970.4,282.8 968.5,277.7 965.3,273.8 962.1,270.6 957.6,269.3 955.6,268.1 957.3,264.8 957.6,261.0 956.0,257.1 955.0,252.6 953.7,248.8 955.0,246.2 958.9,243.0 962.7,236.6 965.3,230.1 965.9,225.0 972.3,216.0 976.2,205.7 980.1,191.6 983.3,178.1 988.4,165.8 994.8,155.6 1000.0,149.1 1006.4,145.3 1012.8,143.7 1015.4,142.5 1017.0,144.0 1017.3,146.6 1014.8,150.4 1012.8,155.6 1010.9,168.4 1009.0,182.6 1006.4,191.6 1006.2,194.1 1007.7,198.0 1010.3,203.1 1012.2,207.6 1011.6,210.2 1010.3,212.1 1010.9,214.7 1012.8,215.3 1014.8,213.4 1015.4,210.8 1016.7,209.8 1018.2,211.5 1018.6,214.7 1016.7,218.5 1013.5,222.4 1011.6,225.0 1012.6,229.5 1010.9,234.0 1012.2,237.2 1014.8,239.4 1018.0,240.2 1021.2,238.9 1023.1,235.9 1024.7,232.7 1025.5,231.0 1027.0,231.0 1027.0,313.0 975.6,313.0" fill="#efefdb"/>
<path shape-rendering="crispEdges" fill="#f6f6f6" d="M806 107h30v5h-30zM836 106h15v6h-15zM851 106h25v5h-25zM876 105h15v6h-15zM891 105h30v5h-30zM921 104h15v6h-15zM936 104h30v5h-30zM966 103h15v6h-15zM981 103h25v5h-25zM1006 102h15v6h-15zM806 112h15v6h-15zM820 111h32v7h-32zM850 110h12v8h-12zM860 110h32v7h-32zM890 109h17v8h-17zM905 109h32v7h-32zM935 108h17v8h-17zM950 108h32v7h-32zM980 107h17v8h-17zM996 108h25v5h-25zM806 118h15v5h-15zM820 116h17v8h-17zM835 116h27v7h-27zM860 115h17v8h-17zM875 115h32v7h-32zM905 114h17v8h-17zM920 114h32v7h-32zM950 113h17v8h-17zM965 113h32v7h-32zM995 112h12v8h-12zM1006 113h15v5h-15zM807 123h29v5h-29zM835 121h17v8h-17zM850 121h27v7h-27zM875 120h17v8h-17zM890 120h32v7h-32zM920 119h17v8h-17zM935 119h32v7h-32zM965 118h17v8h-17zM980 118h27v7h-27zM1006 118h15v6h-15zM807 128h15v6h-15zM821 127h32v7h-32zM851 126h12v8h-12zM861 126h32v7h-32zM891 125h17v8h-17zM906 125h32v7h-32zM936 124h17v8h-17zM951 124h31v7h-31zM980 123h12v8h-12zM991 124h30v5h-30zM807 134h15v5h-15zM821 132h17v8h-17zM836 132h27v7h-27zM861 131h17v8h-17zM876 131h32v7h-32zM906 130h17v8h-17zM921 130h32v7h-32zM951 129h17v8h-17zM966 129h27v7h-27zM991 128h17v8h-17zM1007 129h15v5h-15zM807 139h30v5h-30zM836 137h12v8h-12zM846 137h32v7h-32zM876 136h17v8h-17zM891 136h32v7h-32zM921 135h17v8h-17zM936 135h32v7h-32zM966 134h12v8h-12zM976 134h32v7h-32zM1007 134h15v6h-15zM807 144h15v6h-15zM821 143h27v7h-27zM846 142h17v8h-17zM861 142h32v7h-32zM891 141h17v8h-17zM906 141h32v7h-32zM936 140h17v8h-17zM951 140h27v7h-27zM976 139h17v8h-17zM992 140h30v5h-30zM807 150h15v5h-15zM821 148h12v8h-12zM831 148h32v7h-32zM861 147h17v8h-17zM876 147h32v7h-32zM906 146h17v8h-17zM921 146h32v7h-32zM951 145h17v8h-17zM966 145h27v7h-27zM991 144h17v8h-17zM1007 145h15v5h-15zM807 155h25v5h-25zM831 153h17v8h-17zM846 153h32v7h-32zM876 152h17v8h-17zM891 152h32v7h-32zM921 151h17v8h-17zM936 151h32v7h-32zM966 150h12v8h-12zM976 150h32v7h-32zM1007 150h15v6h-15zM808 160h15v6h-15zM822 159h26v7h-26zM846 158h17v8h-17zM861 158h32v7h-32zM891 157h17v8h-17zM906 157h32v7h-32zM936 156h17v8h-17zM951 156h27v7h-27zM976 155h17v8h-17zM992 156h30v5h-30zM808 166h15v5h-15zM822 164h12v8h-12zM832 164h32v7h-32zM862 163h17v8h-17zM877 163h31v7h-31zM906 162h17v8h-17zM921 162h32v7h-32zM951 161h12v8h-12zM961 161h32v7h-32zM991 160h17v8h-17zM1007 161h15v5h-15zM808 171h25v5h-25zM832 169h17v8h-17zM847 169h32v7h-32zM877 168h17v8h-17zM892 168h32v7h-32zM922 167h16v8h-16zM936 167h27v7h-27zM961 166h17v8h-17zM976 166h32v7h-32zM1007 166h15v6h-15zM808 176h10v6h-10zM817 175h32v7h-32zM847 174h17v8h-17zM862 174h32v7h-32zM892 173h17v8h-17zM907 173h32v7h-32zM937 172h12v8h-12zM947 172h31v7h-31zM976 171h17v8h-17zM992 172h30v5h-30zM808 182h10v5h-10zM817 180h17v8h-17zM832 180h32v7h-32zM862 179h17v8h-17zM877 179h32v7h-32zM907 178h17v8h-17zM922 178h27v7h-27zM947 177h17v8h-17zM962 177h31v7h-31zM991 176h17v8h-17zM1007 177h15v5h-15zM808 187h25v5h-25zM832 185h17v8h-17zM847 185h32v7h-32zM877 184h17v8h-17zM892 184h32v7h-32zM922 183h17v8h-17zM937 183h27v7h-27zM962 182h17v8h-17zM977 182h32v7h-32zM1008 182h14v6h-14zM809 192h10v6h-10zM818 191h31v7h-31zM847 190h17v8h-17zM862 190h32v7h-32zM892 189h17v8h-17zM907 189h32v7h-32zM937 188h12v8h-12zM947 188h32v7h-32zM977 187h17v8h-17zM993 188h30v5h-30zM809 198h10v5h-10zM818 196h17v8h-17zM833 196h31v7h-31zM862 195h17v8h-17zM877 195h32v7h-32zM907 194h17v8h-17zM922 194h27v7h-27zM947 193h17v8h-17zM962 193h32v7h-32zM992 192h17v8h-17zM1008 193h15v5h-15zM809 203h25v5h-25zM833 201h17v8h-17zM848 201h31v7h-31zM877 200h17v8h-17zM892 200h32v7h-32zM922 199h12v8h-12zM932 199h32v7h-32zM962 198h17v8h-17zM977 198h32v7h-32zM1008 198h15v6h-15zM809 208h10v6h-10zM818 207h32v7h-32zM848 206h17v8h-17zM863 206h32v7h-32zM893 205h16v8h-16zM907 205h27v7h-27zM932 204h17v8h-17zM947 204h32v7h-32zM977 203h17v8h-17zM993 204h30v5h-30zM809 214h10v5h-10zM818 212h17v8h-17zM833 212h32v7h-32zM863 211h17v8h-17zM878 211h32v7h-32zM908 210h12v8h-12zM918 210h31v7h-31zM947 209h17v8h-17zM962 209h32v7h-32zM992 208h17v8h-17zM1008 209h15v5h-15zM809 219h25v5h-25zM833 217h17v8h-17zM848 217h32v7h-32zM878 216h17v8h-17zM893 216h27v7h-27zM918 215h17v8h-17zM933 215h31v7h-31zM962 214h17v8h-17zM977 214h32v7h-32zM1008 214h15v6h-15zM809 224h10v6h-10zM818 223h32v7h-32zM848 222h17v8h-17zM863 222h32v7h-32zM893 221h17v8h-17zM908 221h27v7h-27zM933 220h17v8h-17zM948 220h31v7h-31zM977 219h17v8h-17zM993 220h30v5h-30zM810 230h10v5h-10zM819 228h16v8h-16zM833 228h32v7h-32zM863 227h17v8h-17zM878 227h32v7h-32zM908 226h12v8h-12zM918 226h32v7h-32zM948 225h17v8h-17zM963 225h31v7h-31zM992 224h17v8h-17zM1008 225h15v5h-15zM810 235h25v5h-25zM834 233h17v8h-17zM849 233h31v7h-31zM878 232h17v8h-17zM893 232h27v7h-27zM918 231h17v8h-17zM933 231h32v7h-32zM963 230h17v8h-17zM978 230h31v7h-31zM1008 230h15v6h-15zM810 240h10v6h-10zM819 239h32v7h-32zM849 238h17v8h-17zM864 238h31v7h-31zM893 237h12v8h-12zM903 237h32v7h-32zM933 236h17v8h-17zM948 236h32v7h-32zM978 235h17v8h-17zM994 236h29v5h-29zM810 246h10v5h-10zM819 244h17v8h-17zM834 244h32v7h-32zM864 243h17v8h-17zM879 243h26v7h-26zM903 242h17v8h-17zM918 242h32v7h-32zM948 241h17v8h-17zM963 241h32v7h-32zM993 240h17v8h-17zM1009 241h14v5h-14zM810 251h25v5h-25zM834 249h17v8h-17zM849 249h32v7h-32zM879 248h12v8h-12zM889 248h31v7h-31zM918 247h17v8h-17zM933 247h32v7h-32zM963 246h17v8h-17zM978 246h32v7h-32zM1009 246h15v6h-15zM810 256h10v6h-10zM819 255h32v7h-32zM849 254h17v8h-17zM864 254h27v7h-27zM889 253h17v8h-17zM904 253h31v7h-31zM933 252h17v8h-17zM948 252h32v7h-32zM978 251h17v8h-17zM994 252h30v5h-30zM811 262h9v5h-9zM819 260h17v8h-17zM834 260h32v7h-32zM864 259h17v8h-17zM879 259h27v7h-27zM904 258h17v8h-17zM919 258h31v7h-31zM948 257h17v8h-17zM963 257h32v7h-32zM993 256h17v8h-17zM1009 257h15v5h-15zM811 267h25v5h-25zM835 265h16v8h-16zM849 265h32v7h-32zM879 264h12v8h-12zM889 264h32v7h-32zM919 263h17v8h-17zM934 263h31v7h-31zM963 262h17v8h-17zM978 262h32v7h-32zM1009 262h15v6h-15zM811 272h10v6h-10zM820 271h32v7h-32zM850 270h16v8h-16zM864 270h27v7h-27zM889 269h17v8h-17zM904 269h32v7h-32zM934 268h17v8h-17zM949 268h31v7h-31zM978 267h17v8h-17zM994 268h30v5h-30zM811 278h10v5h-10zM820 276h17v8h-17zM835 276h32v7h-32zM865 275h11v8h-11zM874 275h32v7h-32zM904 274h17v8h-17zM919 274h32v7h-32zM949 273h17v8h-17zM964 273h31v7h-31zM993 272h17v8h-17zM1009 273h15v5h-15zM811 283h25v5h-25zM835 281h17v8h-17zM850 281h27v7h-27zM875 280h16v8h-16zM889 280h32v7h-32zM919 279h17v8h-17zM934 279h32v7h-32zM964 278h17v8h-17zM979 278h31v7h-31zM1008 277h12v8h-12zM1019 278h5v5h-5zM811 288h10v6h-10zM820 287h32v7h-32zM850 286h12v8h-12zM860 286h32v7h-32zM890 285h16v8h-16zM904 285h32v7h-32zM934 284h17v8h-17zM949 284h32v7h-32zM979 283h17v8h-17zM994 283h26v7h-26zM1019 283h5v6h-5zM812 294h9v5h-9zM820 292h17v8h-17zM835 292h27v7h-27zM860 291h17v8h-17zM875 291h32v7h-32zM905 290h16v8h-16zM919 290h32v7h-32zM949 289h17v8h-17zM964 289h32v7h-32zM994 288h12v8h-12zM1005 289h19v5h-19zM812 299h24v5h-24zM835 297h17v8h-17zM850 297h27v7h-27zM875 296h17v8h-17zM890 296h32v7h-32zM920 295h16v8h-16zM934 295h32v7h-32zM964 294h17v8h-17zM979 294h27v7h-27zM1004 293h16v8h-16zM1019 294h5v5h-5zM812 304h10v6h-10zM822 304h29v5h-29zM851 303h10v6h-10zM861 303h30v5h-30zM891 302h15v6h-15zM906 302h29v5h-29zM935 301h15v6h-15zM950 301h30v5h-30zM980 300h15v6h-15zM995 300h25v5h-25zM1020 299h5v6h-5z"/>
<g shape-rendering="crispEdges">
<path fill="#f8f3f0" d="M809 110h4v4h-4zM964 107h4v4h-4zM969 107h4v4h-4zM974 107h4v4h-4zM809 116h4v4h-4zM964 112h4v4h-4zM969 112h4v4h-4zM974 112h4v4h-4zM814 121h4v4h-4zM964 118h4v4h-4zM810 126h4v4h-4zM815 126h4v4h-4zM964 123h4v4h-4zM810 132h4v4h-4zM815 132h4v4h-4zM820 132h4v4h-4zM870 130h4v4h-4zM964 128h4v4h-4zM810 137h4v4h-4zM815 137h4v4h-4zM820 137h4v4h-4zM825 137h4v4h-4zM830 137h4v4h-4zM870 136h4v4h-4zM885 135h4v4h-4zM960 134h4v4h-4zM810 142h4v4h-4zM815 142h4v4h-4zM820 142h4v4h-4zM825 142h4v4h-4zM830 142h4v4h-4zM955 139h4v4h-4zM810 148h4v4h-4zM815 148h4v4h-4zM820 148h4v4h-4zM825 147h4v4h-4zM830 147h4v4h-4zM835 147h4v4h-4zM840 152h4v4h-4zM950 150h4v4h-4zM840 158h4v4h-4zM950 155h4v4h-4zM841 163h4v4h-4zM841 168h4v4h-4zM831 179h4v4h-4zM841 184h4v4h-4z"/>
<path fill="#f1f5f7" d="M814 110h4v4h-4zM819 110h4v4h-4zM824 110h4v4h-4zM829 110h4v4h-4zM834 110h4v4h-4zM814 116h4v4h-4zM819 121h4v4h-4zM824 121h4v4h-4zM829 121h4v4h-4zM834 121h4v4h-4zM959 118h4v4h-4zM820 126h4v4h-4zM825 126h4v4h-4zM829 126h4v4h-4zM834 126h4v4h-4zM839 126h4v4h-4zM869 125h4v4h-4zM889 125h4v4h-4zM959 123h4v4h-4zM959 128h4v4h-4zM955 134h4v4h-4zM945 139h4v4h-4zM940 145h4v4h-4zM945 145h4v4h-4zM950 145h4v4h-4zM845 152h4v4h-4zM940 150h4v4h-4zM945 150h4v4h-4zM845 158h4v4h-4zM940 155h4v4h-4zM945 155h4v4h-4zM845 163h4v4h-4zM950 161h4v4h-4zM846 168h4v4h-4zM950 166h4v4h-4zM846 174h4v4h-4zM950 171h4v4h-4zM846 179h4v4h-4zM846 184h4v4h-4zM851 184h4v4h-4z"/>
<path fill="#eaf1f5" d="M839 110h4v4h-4zM844 110h4v4h-4zM849 110h4v4h-4zM854 109h4v4h-4zM859 109h4v4h-4zM864 109h4v4h-4zM869 109h4v4h-4zM874 109h4v4h-4zM879 109h4v4h-4zM884 109h4v4h-4zM889 109h4v4h-4zM894 108h4v4h-4zM819 116h4v4h-4zM824 115h4v4h-4zM829 115h4v4h-4zM834 115h4v4h-4zM839 115h4v4h-4zM844 115h4v4h-4zM849 115h4v4h-4zM854 115h4v4h-4zM859 115h4v4h-4zM864 114h4v4h-4zM884 114h4v4h-4zM889 114h4v4h-4zM894 114h4v4h-4zM839 120h4v4h-4zM844 120h4v4h-4zM849 120h4v4h-4zM854 120h4v4h-4zM859 120h4v4h-4zM864 120h4v4h-4zM889 119h4v4h-4zM894 119h4v4h-4zM844 126h4v4h-4zM849 126h4v4h-4zM854 125h4v4h-4zM859 125h4v4h-4zM864 125h4v4h-4zM894 124h4v4h-4zM845 131h4v4h-4zM850 131h4v4h-4zM855 131h4v4h-4zM860 131h4v4h-4zM865 130h4v4h-4zM955 128h4v4h-4zM845 136h4v4h-4zM850 136h4v4h-4zM855 136h4v4h-4zM860 136h4v4h-4zM865 136h4v4h-4zM950 134h4v4h-4zM845 142h4v4h-4zM850 141h4v4h-4zM855 141h4v4h-4zM860 141h4v4h-4zM865 141h4v4h-4zM890 141h4v4h-4zM895 140h4v4h-4zM845 147h4v4h-4zM850 147h4v4h-4zM855 147h4v4h-4zM860 147h4v4h-4zM865 146h4v4h-4zM850 152h4v4h-4zM855 152h4v4h-4zM860 152h4v4h-4zM850 157h4v4h-4zM860 157h4v4h-4zM860 163h4v4h-4zM945 161h4v4h-4zM861 168h4v4h-4zM851 179h4v4h-4z"/>
<path fill="#e2edf3" d="M899 108h4v4h-4zM904 108h4v4h-4zM909 108h4v4h-4zM914 108h4v4h-4zM934 108h4v4h-4zM939 107h4v4h-4zM944 107h4v4h-4zM949 107h4v4h-4zM954 107h4v4h-4zM959 107h4v4h-4zM899 114h4v4h-4zM904 114h4v4h-4zM909 113h4v4h-4zM934 113h4v4h-4zM939 113h4v4h-4zM944 113h4v4h-4zM949 113h4v4h-4zM954 112h4v4h-4zM959 112h4v4h-4zM899 119h4v4h-4zM939 118h4v4h-4zM944 118h4v4h-4zM949 118h4v4h-4zM954 118h4v4h-4zM899 124h4v4h-4zM939 123h4v4h-4zM944 123h4v4h-4zM949 123h4v4h-4zM954 123h4v4h-4zM900 130h4v4h-4zM940 129h4v4h-4zM945 129h4v4h-4zM950 129h4v4h-4zM900 135h4v4h-4zM935 134h4v4h-4zM940 134h4v4h-4zM945 134h4v4h-4zM900 140h4v4h-4zM935 140h4v4h-4zM940 139h4v4h-4zM895 146h4v4h-4zM935 145h4v4h-4zM855 157h4v4h-4zM850 163h4v4h-4zM855 163h4v4h-4zM940 161h4v4h-4zM851 168h4v4h-4zM856 168h4v4h-4zM851 173h4v4h-4zM856 173h4v4h-4zM861 173h4v4h-4zM856 179h4v4h-4zM861 179h4v4h-4zM856 184h4v4h-4zM861 184h4v4h-4zM861 189h4v4h-4z"/>
<path fill="#d9e9f1" d="M919 108h4v4h-4zM924 108h4v4h-4zM929 108h4v4h-4zM914 113h4v4h-4zM919 113h4v4h-4zM924 113h4v4h-4zM929 113h4v4h-4zM904 119h4v4h-4zM909 119h4v4h-4zM914 119h4v4h-4zM919 119h4v4h-4zM924 118h4v4h-4zM929 118h4v4h-4zM934 118h4v4h-4zM904 124h4v4h-4zM909 124h4v4h-4zM914 124h4v4h-4zM919 124h4v4h-4zM924 124h4v4h-4zM929 124h4v4h-4zM934 124h4v4h-4zM905 130h4v4h-4zM910 129h4v4h-4zM915 129h4v4h-4zM920 129h4v4h-4zM925 129h4v4h-4zM930 129h4v4h-4zM935 129h4v4h-4zM905 135h4v4h-4zM910 135h4v4h-4zM915 135h4v4h-4zM920 135h4v4h-4zM925 134h4v4h-4zM930 134h4v4h-4zM905 140h4v4h-4zM910 140h4v4h-4zM915 140h4v4h-4zM920 140h4v4h-4zM925 140h4v4h-4zM930 140h4v4h-4zM910 145h4v4h-4zM915 145h4v4h-4zM920 145h4v4h-4zM925 145h4v4h-4zM930 145h4v4h-4zM910 151h4v4h-4zM915 151h4v4h-4zM920 151h4v4h-4zM920 156h4v4h-4zM935 166h4v4h-4z"/>
<path fill="#f9ede6" d="M979 107h4v4h-4zM984 106h4v4h-4zM989 106h4v4h-4zM994 106h4v4h-4zM979 112h4v4h-4zM984 112h4v4h-4zM989 112h4v4h-4zM809 121h4v4h-4zM965 134h4v4h-4zM870 141h4v4h-4zM960 139h4v4h-4zM955 144h4v4h-4zM810 153h4v4h-4zM815 153h4v4h-4zM820 153h4v4h-4zM825 153h4v4h-4zM830 153h4v4h-4zM835 152h4v4h-4zM865 152h4v4h-4zM810 158h4v4h-4zM815 158h4v4h-4zM820 158h4v4h-4zM825 158h4v4h-4zM830 158h4v4h-4zM835 158h4v4h-4zM975 155h4v4h-4zM811 164h4v4h-4zM816 164h4v4h-4zM821 164h4v4h-4zM826 163h4v4h-4zM831 163h4v4h-4zM836 163h4v4h-4zM975 160h4v4h-4zM811 169h4v4h-4zM816 169h4v4h-4zM821 169h4v4h-4zM826 169h4v4h-4zM811 174h4v4h-4zM816 174h4v4h-4zM821 174h4v4h-4zM826 174h4v4h-4zM811 180h4v4h-4zM816 180h4v4h-4zM821 179h4v4h-4zM826 179h4v4h-4zM956 176h4v4h-4zM811 185h4v4h-4zM836 184h4v4h-4zM956 182h4v4h-4zM841 190h4v4h-4zM941 198h4v4h-4zM946 198h4v4h-4zM951 198h4v4h-4z"/>
<path fill="#fae6db" d="M999 106h4v4h-4zM1004 106h4v4h-4zM994 112h4v4h-4zM999 111h4v4h-4zM969 117h4v4h-4zM974 117h4v4h-4zM979 117h4v4h-4zM984 117h4v4h-4zM989 117h4v4h-4zM994 117h4v4h-4zM969 123h4v4h-4zM974 123h4v4h-4zM979 123h4v4h-4zM984 122h4v4h-4zM989 122h4v4h-4zM994 122h4v4h-4zM969 128h4v4h-4zM989 128h4v4h-4zM994 127h4v4h-4zM875 136h4v4h-4zM880 135h4v4h-4zM995 133h4v4h-4zM875 141h4v4h-4zM965 139h4v4h-4zM995 138h4v4h-4zM960 144h4v4h-4zM955 150h4v4h-4zM970 149h4v4h-4zM975 149h4v4h-4zM980 149h4v4h-4zM955 155h4v4h-4zM970 155h4v4h-4zM980 154h4v4h-4zM955 160h4v4h-4zM970 160h4v4h-4zM955 166h4v4h-4zM955 171h4v4h-4zM965 176h4v4h-4zM816 185h4v4h-4zM821 185h4v4h-4zM826 185h4v4h-4zM831 185h4v4h-4zM961 182h4v4h-4zM966 181h4v4h-4zM811 190h4v4h-4zM816 190h4v4h-4zM821 190h4v4h-4zM826 190h4v4h-4zM831 190h4v4h-4zM836 190h4v4h-4zM961 187h4v4h-4zM966 187h4v4h-4zM812 196h4v4h-4zM961 192h4v4h-4zM966 192h4v4h-4zM812 201h4v4h-4zM956 198h4v4h-4zM961 198h4v4h-4zM936 203h4v4h-4zM941 203h4v4h-4zM946 203h4v4h-4zM936 209h4v4h-4zM941 209h4v4h-4zM946 209h4v4h-4zM936 214h4v4h-4zM941 214h4v4h-4zM946 214h4v4h-4zM942 219h4v4h-4zM956 219h4v4h-4z"/>
<path fill="#fcdfd0" d="M1009 106h4v4h-4zM1014 106h4v4h-4zM1004 111h4v4h-4zM1009 111h4v4h-4zM1014 111h4v4h-4zM999 117h4v4h-4zM1004 117h4v4h-4zM999 122h4v4h-4zM1004 122h4v4h-4zM974 128h4v4h-4zM979 128h4v4h-4zM984 128h4v4h-4zM999 127h4v4h-4zM970 133h4v4h-4zM985 133h4v4h-4zM990 133h4v4h-4zM1000 133h4v4h-4zM1005 133h4v4h-4zM970 139h4v4h-4zM985 138h4v4h-4zM990 138h4v4h-4zM965 144h4v4h-4zM970 144h4v4h-4zM975 144h4v4h-4zM980 144h4v4h-4zM985 144h4v4h-4zM990 144h4v4h-4zM960 150h4v4h-4zM965 150h4v4h-4zM985 149h4v4h-4zM965 155h4v4h-4zM965 160h4v4h-4zM960 166h4v4h-4zM965 165h4v4h-4zM970 165h4v4h-4zM975 165h4v4h-4zM960 171h4v4h-4zM965 171h4v4h-4zM970 171h4v4h-4zM960 176h4v4h-4zM970 176h4v4h-4zM971 181h4v4h-4zM817 196h4v4h-4zM821 195h4v4h-4zM826 195h4v4h-4zM831 195h4v4h-4zM817 201h4v4h-4zM822 201h4v4h-4zM827 201h4v4h-4zM812 206h4v4h-4zM817 206h4v4h-4zM822 206h4v4h-4zM812 212h4v4h-4zM817 212h4v4h-4zM822 211h4v4h-4zM812 217h4v4h-4zM817 217h4v4h-4zM812 222h4v4h-4zM946 219h4v4h-4zM951 219h4v4h-4z"/>
<path fill="#fbd0b9" d="M1009 116h4v4h-4zM1014 116h4v4h-4zM1009 122h4v4h-4zM1014 122h4v4h-4zM1004 127h4v4h-4zM1009 127h4v4h-4zM975 133h4v4h-4zM980 133h4v4h-4zM975 139h4v4h-4zM980 138h4v4h-4zM960 155h4v4h-4zM960 160h4v4h-4z"/>
<path fill="#f7f7f7" d="M825 131h4v4h-4zM830 131h4v4h-4zM835 131h4v4h-4zM840 131h4v4h-4zM835 137h4v4h-4zM840 136h4v4h-4zM835 142h4v4h-4zM840 142h4v4h-4zM950 139h4v4h-4zM840 147h4v4h-4zM831 169h4v4h-4zM836 168h4v4h-4zM831 174h4v4h-4zM836 174h4v4h-4zM841 174h4v4h-4zM836 179h4v4h-4zM841 179h4v4h-4z"/>
<path fill="#f8bfa4" d="M1014 127h4v4h-4zM938 299h4v4h-4z"/>
<path fill="#cc4139" d="M928 278h4v4h-4z"/>
<path fill="#e98b6e" d="M933 294h4v4h-4zM928 300h4v4h-4z"/>
<path fill="#f4a582" d="M933 300h4v4h-4z"/>
<path fill="#f8f3f0" d="M806 107h5v5h-5zM961 104h5v5h-5zM966 103h10v6h-10zM806 112h5v6h-5zM961 109h15v5h-15zM811 118h5v5h-5zM961 114h5v6h-5zM807 123h10v5h-10zM961 120h5v5h-5zM807 128h15v6h-15zM867 127h5v5h-5zM961 125h5v5h-5zM807 134h15v5h-15zM822 133h10v6h-10zM867 132h5v6h-5zM882 132h5v5h-5zM957 130h5v6h-5zM807 139h25v5h-25zM952 136h5v5h-5zM1017 134h5v6h-5zM807 144h15v6h-15zM822 144h15v5h-15zM877 143h5v5h-5zM837 149h5v5h-5zM947 147h5v5h-5zM837 154h5v6h-5zM947 152h5v5h-5zM838 160h5v5h-5zM838 165h5v5h-5zM828 176h5v5h-5zM838 181h5v5h-5zM869 202h5v5h-5zM963 210h5v5h-5zM963 215h5v6h-5z"/>
<path fill="#f1f5f7" d="M811 107h25v5h-25zM811 112h5v6h-5zM816 118h5v5h-5zM821 117h15v6h-15zM956 114h5v6h-5zM817 123h19v5h-19zM836 122h5v6h-5zM866 122h5v5h-5zM886 121h5v6h-5zM956 120h5v5h-5zM957 125h4v5h-4zM952 130h5v6h-5zM942 136h5v5h-5zM937 141h15v6h-15zM842 149h5v5h-5zM937 147h10v5h-10zM842 154h5v6h-5zM937 152h10v5h-10zM843 160h4v5h-4zM862 159h5v5h-5zM947 157h5v6h-5zM843 165h5v5h-5zM863 164h5v6h-5zM947 163h5v5h-5zM843 170h5v6h-5zM868 170h5v5h-5zM947 168h5v5h-5zM843 176h5v5h-5zM863 175h5v5h-5zM843 181h10v5h-10zM843 186h5v6h-5zM863 186h5v5h-5zM948 184h5v5h-5zM874 202h4v5h-4z"/>
<path fill="#eaf1f5" d="M836 106h15v6h-15zM851 106h25v5h-25zM876 105h15v6h-15zM891 105h5v5h-5zM816 112h5v6h-5zM821 112h30v5h-30zM851 111h10v6h-10zM861 111h30v5h-30zM891 110h5v6h-5zM836 117h25v5h-25zM861 116h10v6h-10zM881 116h15v5h-15zM841 122h10v6h-10zM851 122h15v5h-15zM891 121h5v5h-5zM842 128h10v5h-10zM852 127h10v6h-10zM862 127h5v5h-5zM892 126h5v6h-5zM952 125h5v5h-5zM842 133h20v5h-20zM862 132h5v6h-5zM887 132h5v5h-5zM947 131h5v5h-5zM842 138h5v6h-5zM847 138h20v5h-20zM887 137h5v6h-5zM892 137h5v5h-5zM842 144h5v5h-5zM847 143h15v6h-15zM862 143h5v5h-5zM887 143h5v5h-5zM847 149h15v5h-15zM932 147h5v5h-5zM847 154h5v5h-5zM857 154h5v5h-5zM857 159h5v6h-5zM942 157h5v6h-5zM858 165h5v5h-5zM942 163h5v5h-5zM863 170h5v5h-5zM848 175h5v6h-5zM948 173h5v5h-5zM863 180h5v6h-5zM848 186h5v5h-5zM943 184h5v5h-5zM858 191h5v6h-5zM938 189h5v6h-5zM874 207h5v5h-5z"/>
<path fill="#e2edf3" d="M896 105h20v5h-20zM931 104h5v6h-5zM936 104h25v5h-25zM896 110h10v6h-10zM906 110h5v5h-5zM931 110h5v5h-5zM936 109h15v6h-15zM951 109h10v5h-10zM896 116h5v5h-5zM936 115h15v5h-15zM951 114h5v6h-5zM896 121h5v5h-5zM936 120h20v5h-20zM897 126h5v6h-5zM937 125h15v6h-15zM897 132h5v5h-5zM932 131h15v5h-15zM897 137h5v5h-5zM932 136h5v6h-5zM937 136h5v5h-5zM892 142h10v6h-10zM932 142h5v5h-5zM892 148h10v5h-10zM927 147h5v5h-5zM852 154h5v5h-5zM847 159h10v6h-10zM937 157h5v6h-5zM848 165h10v5h-10zM937 163h5v5h-5zM848 170h15v5h-15zM932 168h5v6h-5zM853 175h10v6h-10zM853 181h10v5h-10zM943 179h5v5h-5zM853 186h10v5h-10zM933 184h5v6h-5zM879 212h5v5h-5z"/>
<path fill="#d9e9f1" d="M916 105h5v5h-5zM921 104h10v6h-10zM911 110h20v5h-20zM901 116h5v5h-5zM906 115h15v6h-15zM921 115h15v5h-15zM901 121h20v5h-20zM921 120h15v6h-15zM902 126h5v6h-5zM907 126h30v5h-30zM902 132h5v5h-5zM907 131h15v6h-15zM922 131h10v5h-10zM902 137h20v5h-20zM922 136h10v6h-10zM902 142h5v6h-5zM907 142h25v5h-25zM907 147h15v6h-15zM922 147h5v5h-5zM907 153h15v5h-15zM922 152h5v6h-5zM917 158h10v5h-10zM917 163h5v6h-5zM927 163h10v5h-10zM938 173h10v6h-10zM933 179h5v5h-5z"/>
<path fill="#f9ede6" d="M976 103h5v6h-5zM981 103h15v5h-15zM976 109h5v5h-5zM981 108h10v6h-10zM806 118h5v5h-5zM872 127h5v5h-5zM962 130h5v6h-5zM867 138h5v5h-5zM877 137h5v6h-5zM957 136h5v5h-5zM867 143h10v5h-10zM952 141h5v5h-5zM807 150h15v5h-15zM822 149h10v6h-10zM832 149h5v5h-5zM862 148h5v6h-5zM807 155h25v5h-25zM832 154h5v6h-5zM862 154h5v5h-5zM972 151h5v6h-5zM808 160h15v6h-15zM823 160h15v5h-15zM972 157h5v5h-5zM808 166h15v5h-15zM823 165h5v6h-5zM808 171h20v5h-20zM808 176h10v6h-10zM818 176h10v5h-10zM953 173h5v5h-5zM808 182h5v5h-5zM833 181h5v5h-5zM953 178h5v6h-5zM838 186h5v6h-5zM953 184h5v5h-5zM838 192h5v5h-5zM863 191h5v5h-5zM863 196h5v6h-5zM938 195h10v5h-10zM948 194h5v6h-5zM963 199h5v6h-5zM948 205h5v5h-5zM963 205h5v5h-5zM934 216h5v5h-5zM958 216h5v5h-5z"/>
<path fill="#fae6db" d="M996 103h10v5h-10zM991 108h5v6h-5zM996 108h5v5h-5zM966 114h30v5h-30zM966 119h15v6h-15zM981 119h15v5h-15zM966 125h5v5h-5zM986 124h5v6h-5zM991 124h5v5h-5zM872 132h5v6h-5zM877 132h5v5h-5zM992 129h5v6h-5zM872 138h5v5h-5zM962 136h5v5h-5zM992 135h5v5h-5zM1007 134h5v6h-5zM957 141h5v5h-5zM997 140h5v5h-5zM867 148h5v6h-5zM952 146h5v6h-5zM967 146h15v5h-15zM992 145h5v6h-5zM867 154h5v5h-5zM952 152h5v5h-5zM967 151h5v6h-5zM977 151h5v5h-5zM987 151h5v5h-5zM952 157h5v5h-5zM967 157h5v5h-5zM977 156h10v6h-10zM952 162h5v6h-5zM977 162h5v5h-5zM952 168h5v5h-5zM977 167h5v5h-5zM962 173h5v5h-5zM813 182h5v5h-5zM818 181h15v6h-15zM958 178h5v6h-5zM963 178h5v5h-5zM808 187h25v5h-25zM833 186h5v6h-5zM958 184h5v5h-5zM963 183h5v6h-5zM809 192h5v6h-5zM833 192h5v5h-5zM958 189h10v5h-10zM809 198h5v5h-5zM953 194h10v6h-10zM963 194h10v5h-10zM933 200h30v5h-30zM933 205h15v6h-15zM933 211h15v5h-15zM948 210h5v6h-5zM939 216h5v5h-5zM953 216h5v5h-5zM959 221h4v5h-4z"/>
<path fill="#fcdfd0" d="M1006 102h10v6h-10zM1001 108h15v5h-15zM996 113h10v6h-10zM996 119h10v5h-10zM971 125h10v5h-10zM981 124h5v6h-5zM996 124h5v5h-5zM967 130h5v5h-5zM982 130h10v5h-10zM997 129h10v6h-10zM1017 129h5v5h-5zM967 135h5v6h-5zM982 135h10v5h-10zM997 135h10v5h-10zM962 141h15v5h-15zM977 140h15v6h-15zM992 140h5v5h-5zM957 146h10v6h-10zM982 146h10v5h-10zM962 152h5v5h-5zM982 151h5v5h-5zM962 157h5v5h-5zM957 162h5v6h-5zM962 162h15v5h-15zM957 168h5v5h-5zM962 167h15v6h-15zM958 173h4v5h-4zM967 173h10v5h-10zM968 178h10v5h-10zM968 183h10v6h-10zM814 192h5v6h-5zM819 192h14v5h-14zM968 189h5v5h-5zM814 198h5v5h-5zM819 197h15v6h-15zM834 197h5v5h-5zM809 203h25v5h-25zM809 208h10v6h-10zM819 208h10v5h-10zM809 214h10v5h-10zM819 213h5v6h-5zM809 219h10v5h-10zM944 216h9v5h-9zM809 224h10v6h-10zM939 221h5v6h-5zM954 221h5v5h-5zM810 230h5v5h-5zM945 301h5v6h-5zM950 301h5v5h-5z"/>
<path fill="#fbd0b9" d="M1016 102h5v6h-5zM1016 108h5v5h-5zM1006 113h15v5h-15zM1006 118h10v6h-10zM1001 124h10v5h-10zM972 130h10v5h-10zM1007 129h10v5h-10zM972 135h5v6h-5zM977 135h5v5h-5zM957 152h5v5h-5zM957 157h5v5h-5zM824 213h5v6h-5zM944 221h5v6h-5zM949 221h5v5h-5zM940 296h5v5h-5zM940 301h5v6h-5zM960 301h5v5h-5z"/>
<path fill="#f7f7f7" d="M871 122h5v5h-5zM822 128h20v5h-20zM887 127h5v5h-5zM832 133h5v6h-5zM837 133h5v5h-5zM832 139h5v5h-5zM837 138h5v6h-5zM882 137h5v6h-5zM947 136h5v5h-5zM837 144h5v5h-5zM828 165h5v6h-5zM833 165h5v5h-5zM828 171h5v5h-5zM833 170h10v6h-10zM833 176h10v5h-10zM843 192h5v5h-5z"/>
<path fill="#f8bfa4" d="M1016 118h5v6h-5zM1011 124h10v5h-10zM819 219h5v5h-5zM954 226h5v6h-5zM935 296h5v5h-5zM965 295h5v6h-5zM935 301h5v6h-5zM965 301h5v5h-5z"/>
<path fill="#d1e5f0" d="M937 168h5v5h-5z"/>
<path fill="#dc6a52" d="M1017 166h5v6h-5zM1017 172h5v5h-5zM1017 177h5v5h-5zM1018 193h5v5h-5zM1018 198h5v6h-5zM930 280h5v6h-5zM930 286h5v5h-5z"/>
<path fill="#c3ddec" d="M928 174h5v5h-5z"/>
<path fill="#e27a5f" d="M1017 182h5v6h-5zM1018 188h5v5h-5z"/>
<path fill="#cc4139" d="M925 275h10v5h-10zM925 280h5v6h-5z"/>
<path fill="#f4a582" d="M960 274h5v6h-5zM935 291h5v5h-5zM930 296h5v6h-5zM931 302h4v5h-4z"/>
<path fill="#e98b6e" d="M930 291h5v5h-5zM925 296h5v6h-5zM926 302h5v5h-5z"/>
</g>
<path d="M807.2,102.5L812.8,311.2M838.6,102.5L844.0,311.2M870.0,102.5L875.1,311.2M901.4,102.5L906.3,311.2M932.8,102.5L937.5,311.2M964.2,102.5L968.6,311.2M995.6,102.5L999.8,311.2M806.6,121.9L1025.5,117.7M806.6,148.6L1025.5,144.4M806.6,175.2L1025.5,171.0M806.6,201.8L1025.5,197.7M806.6,228.5L1025.5,224.3M806.6,255.2L1025.5,251.0M806.6,281.8L1025.5,277.6M806.6,308.4L1025.5,304.2" stroke="#b0b0b0" stroke-width="1.1" fill="none"/>
<path d="M975.6,311.0L975.6,299.6L974.9,293.1L973.0,288.0L970.4,282.8L968.5,277.7L965.3,273.8L962.1,270.6L957.6,269.3L955.6,268.1L957.3,264.8L957.6,261.0L956.0,257.1L955.0,252.6L953.7,248.8L955.0,246.2L958.9,243.0L962.7,236.6L965.3,230.1L965.9,225.0L972.3,216.0L976.2,205.7L980.1,191.6L983.3,178.1L988.4,165.8L994.8,155.6L1000.0,149.1L1006.4,145.3L1012.8,143.7L1015.4,142.5L1017.0,144.0L1017.3,146.6L1014.8,150.4L1012.8,155.6L1010.9,168.4L1009.0,182.6L1006.4,191.6L1006.2,194.1L1007.7,198.0L1010.3,203.1L1012.2,207.6L1011.6,210.2L1010.3,212.1L1010.9,214.7L1012.8,215.3L1014.8,213.4L1015.4,210.8L1016.7,209.8L1018.2,211.5L1018.6,214.7L1016.7,218.5L1013.5,222.4L1011.6,225.0L1012.6,229.5L1010.9,234.0L1012.2,237.2L1014.8,239.4L1018.0,240.2L1021.2,238.9L1023.1,235.9L1024.7,232.7L1025.5,231.0" stroke="#808080" stroke-width="1.4" fill="none" stroke-linejoin="round"/>
</g>
<rect x="806.6" y="102.5" width="218.9" height="208.7" fill="none" stroke="#000" stroke-width="1.1"/>
<text x="916.35" y="72.50" font-size="16.67" text-anchor="middle" >q [K hr <tspan dy="-7.5" font-size="11.67">−1</tspan><tspan dy="7.5">]</tspan></text>
<text x="808.00" y="91.50" font-size="13.89" text-anchor="middle" >112.5°E</text>
<text x="870.50" y="91.50" font-size="13.89" text-anchor="middle" >113°E</text>
<text x="933.10" y="91.50" font-size="13.89" text-anchor="middle" >113.5°E</text>
<text x="995.70" y="91.50" font-size="13.89" text-anchor="middle" >114°E</text>
<text x="813.00" y="328.50" font-size="13.89" text-anchor="middle" >112.5°E</text>
<text x="875.40" y="328.50" font-size="13.89" text-anchor="middle" >113°E</text>
<text x="937.50" y="328.50" font-size="13.89" text-anchor="middle" >113.5°E</text>
<text x="999.60" y="328.50" font-size="13.89" text-anchor="middle" >114°E</text>
<text x="799.30" y="126.70" font-size="13.89" text-anchor="end" >21.6°S</text>
<text x="799.30" y="153.35" font-size="13.89" text-anchor="end" >21.8°S</text>
<text x="799.30" y="180.00" font-size="13.89" text-anchor="end" >22°S</text>
<text x="799.30" y="206.65" font-size="13.89" text-anchor="end" >22.2°S</text>
<text x="799.30" y="233.30" font-size="13.89" text-anchor="end" >22.4°S</text>
<text x="799.30" y="259.95" font-size="13.89" text-anchor="end" >22.6°S</text>
<text x="799.30" y="286.60" font-size="13.89" text-anchor="end" >22.8°S</text>
<text x="799.30" y="313.25" font-size="13.89" text-anchor="end" >23°S</text>
<linearGradient id="gq" x1="0" y1="0" x2="0" y2="1"><stop offset="0.000" stop-color="#67001f"/><stop offset="0.100" stop-color="#b2182b"/><stop offset="0.200" stop-color="#d6604d"/><stop offset="0.300" stop-color="#f4a582"/><stop offset="0.400" stop-color="#fddbc7"/><stop offset="0.500" stop-color="#f7f7f7"/><stop offset="0.600" stop-color="#d1e5f0"/><stop offset="0.700" stop-color="#92c5de"/><stop offset="0.800" stop-color="#4393c3"/><stop offset="0.900" stop-color="#2166ac"/><stop offset="1.000" stop-color="#053061"/></linearGradient>
<rect x="1039.5" y="182.5" width="2.0" height="49.2" fill="url(#gq)" stroke="#000" stroke-width="1.1"/>
<clipPath id="clipus"><rect x="150.6" y="396.5" width="218.9" height="208.7"/></clipPath>
<g clip-path="url(#clipus)">
<rect x="150.6" y="396.5" width="218.9" height="208.7" fill="#97b6e1"/>
<polygon points="319.6,605.0 319.6,593.6 318.9,587.1 317.0,582.0 314.4,576.8 312.5,571.7 309.3,567.8 306.1,564.6 301.6,563.3 299.6,562.1 301.3,558.8 301.6,555.0 300.0,551.1 299.0,546.6 297.7,542.8 299.0,540.2 302.9,537.0 306.7,530.6 309.3,524.1 309.9,519.0 316.3,510.0 320.2,499.7 324.1,485.6 327.3,472.1 332.4,459.8 338.8,449.6 344.0,443.1 350.4,439.3 356.8,437.7 359.4,436.5 361.0,438.0 361.3,440.6 358.8,444.4 356.8,449.6 354.9,462.4 353.0,476.6 350.4,485.6 350.2,488.1 351.7,492.0 354.3,497.1 356.2,501.6 355.6,504.2 354.3,506.1 354.9,508.7 356.8,509.3 358.8,507.4 359.4,504.8 360.7,503.8 362.2,505.5 362.6,508.7 360.7,512.5 357.5,516.4 355.6,519.0 356.6,523.5 354.9,528.0 356.2,531.2 358.8,533.4 362.0,534.2 365.2,532.9 367.1,529.9 368.7,526.7 369.5,525.0 371.0,525.0 371.0,607.0 319.6,607.0" fill="#efefdb"/>
<path shape-rendering="crispEdges" fill="#e8f5ab" d="M150 401h30v5h-30zM180 400h15v6h-15zM195 400h25v5h-25zM220 399h15v6h-15zM235 399h30v5h-30zM265 398h15v6h-15zM280 398h30v5h-30zM310 397h15v6h-15zM325 397h25v5h-25zM350 396h15v6h-15zM150 406h15v6h-15zM164 405h32v7h-32zM194 404h12v8h-12zM204 404h32v7h-32zM234 403h17v8h-17zM249 403h32v7h-32zM279 402h17v8h-17zM294 402h32v7h-32zM324 401h17v8h-17zM340 402h25v5h-25zM150 412h15v5h-15zM164 410h17v8h-17zM179 410h27v7h-27zM204 409h17v8h-17zM219 409h32v7h-32zM249 408h17v8h-17zM264 408h32v7h-32zM294 407h17v8h-17zM309 407h32v7h-32zM339 406h12v8h-12zM350 407h15v5h-15zM151 417h29v5h-29zM179 415h17v8h-17zM194 415h27v7h-27zM219 414h17v8h-17zM234 414h32v7h-32zM264 413h17v8h-17zM279 413h32v7h-32zM309 412h17v8h-17zM324 412h27v7h-27zM350 412h15v6h-15zM151 422h15v6h-15zM165 421h32v7h-32zM195 420h12v8h-12zM205 420h32v7h-32zM235 419h17v8h-17zM250 419h32v7h-32zM280 418h17v8h-17zM295 418h31v7h-31zM324 417h12v8h-12zM335 418h30v5h-30zM151 428h15v5h-15zM165 426h17v8h-17zM180 426h27v7h-27zM205 425h17v8h-17zM220 425h32v7h-32zM250 424h17v8h-17zM265 424h32v7h-32zM295 423h17v8h-17zM310 423h27v7h-27zM335 422h17v8h-17zM351 423h15v5h-15zM151 433h30v5h-30zM180 431h12v8h-12zM190 431h32v7h-32zM220 430h17v8h-17zM235 430h32v7h-32zM265 429h17v8h-17zM280 429h32v7h-32zM310 428h12v8h-12zM320 428h32v7h-32zM351 428h15v6h-15zM151 438h15v6h-15zM165 437h27v7h-27zM190 436h17v8h-17zM205 436h32v7h-32zM235 435h17v8h-17zM250 435h32v7h-32zM280 434h17v8h-17zM295 434h27v7h-27zM320 433h17v8h-17zM336 434h30v5h-30zM151 444h15v5h-15zM165 442h12v8h-12zM175 442h32v7h-32zM205 441h17v8h-17zM220 441h32v7h-32zM250 440h17v8h-17zM265 440h32v7h-32zM295 439h17v8h-17zM310 439h27v7h-27zM335 438h17v8h-17zM351 439h15v5h-15zM151 449h25v5h-25zM175 447h17v8h-17zM190 447h32v7h-32zM220 446h17v8h-17zM235 446h32v7h-32zM265 445h17v8h-17zM280 445h32v7h-32zM310 444h12v8h-12zM320 444h32v7h-32zM351 444h15v6h-15zM152 454h15v6h-15zM166 453h26v7h-26zM190 452h17v8h-17zM205 452h32v7h-32zM235 451h17v8h-17zM250 451h32v7h-32zM280 450h17v8h-17zM295 450h27v7h-27zM320 449h17v8h-17zM336 450h30v5h-30zM152 460h15v5h-15zM166 458h12v8h-12zM176 458h32v7h-32zM206 457h17v8h-17zM221 457h31v7h-31zM250 456h17v8h-17zM265 456h32v7h-32zM295 455h12v8h-12zM305 455h32v7h-32zM335 454h17v8h-17zM351 455h15v5h-15zM152 465h25v5h-25zM176 463h17v8h-17zM191 463h32v7h-32zM221 462h17v8h-17zM236 462h32v7h-32zM266 461h16v8h-16zM280 461h27v7h-27zM305 460h17v8h-17zM320 460h32v7h-32zM351 460h15v6h-15zM152 470h10v6h-10zM161 469h32v7h-32zM191 468h17v8h-17zM206 468h32v7h-32zM236 467h17v8h-17zM251 467h32v7h-32zM281 466h12v8h-12zM291 466h31v7h-31zM320 465h17v8h-17zM336 466h30v5h-30zM152 476h10v5h-10zM161 474h17v8h-17zM176 474h32v7h-32zM206 473h17v8h-17zM221 473h32v7h-32zM251 472h17v8h-17zM266 472h27v7h-27zM291 471h17v8h-17zM306 471h31v7h-31zM335 470h17v8h-17zM351 471h15v5h-15zM152 481h25v5h-25zM176 479h17v8h-17zM191 479h32v7h-32zM221 478h17v8h-17zM236 478h32v7h-32zM266 477h17v8h-17zM281 477h27v7h-27zM306 476h17v8h-17zM321 476h32v7h-32zM352 476h14v6h-14zM153 486h10v6h-10zM162 485h31v7h-31zM191 484h17v8h-17zM206 484h32v7h-32zM236 483h17v8h-17zM251 483h32v7h-32zM281 482h12v8h-12zM291 482h32v7h-32zM321 481h17v8h-17zM337 482h30v5h-30zM153 492h10v5h-10zM162 490h17v8h-17zM177 490h31v7h-31zM206 489h17v8h-17zM221 489h32v7h-32zM251 488h17v8h-17zM266 488h27v7h-27zM291 487h17v8h-17zM306 487h32v7h-32zM336 486h17v8h-17zM352 487h15v5h-15zM153 497h25v5h-25zM177 495h17v8h-17zM192 495h31v7h-31zM221 494h17v8h-17zM236 494h32v7h-32zM266 493h12v8h-12zM276 493h32v7h-32zM306 492h17v8h-17zM321 492h32v7h-32zM352 492h15v6h-15zM153 502h10v6h-10zM162 501h32v7h-32zM192 500h17v8h-17zM207 500h32v7h-32zM237 499h16v8h-16zM251 499h27v7h-27zM276 498h17v8h-17zM291 498h32v7h-32zM321 497h17v8h-17zM337 498h30v5h-30zM153 508h10v5h-10zM162 506h17v8h-17zM177 506h32v7h-32zM207 505h17v8h-17zM222 505h32v7h-32zM252 504h17v8h-17zM267 504h26v7h-26zM291 503h17v8h-17zM306 503h32v7h-32zM336 502h17v8h-17zM352 503h15v5h-15zM153 513h25v5h-25zM177 511h17v8h-17zM192 511h32v7h-32zM222 510h17v8h-17zM237 510h32v7h-32zM267 509h12v8h-12zM277 509h31v7h-31zM306 508h17v8h-17zM321 508h32v7h-32zM352 508h15v6h-15zM153 518h10v6h-10zM162 517h32v7h-32zM192 516h17v8h-17zM207 516h32v7h-32zM237 515h17v8h-17zM252 515h27v7h-27zM277 514h17v8h-17zM292 514h31v7h-31zM321 513h17v8h-17zM337 514h30v5h-30zM154 524h10v5h-10zM163 522h16v8h-16zM177 522h32v7h-32zM207 521h17v8h-17zM222 521h32v7h-32zM252 520h12v8h-12zM262 520h32v7h-32zM292 519h17v8h-17zM307 519h31v7h-31zM336 518h17v8h-17zM352 519h15v5h-15zM154 529h25v5h-25zM178 527h17v8h-17zM193 527h31v7h-31zM222 526h17v8h-17zM237 526h27v7h-27zM262 525h17v8h-17zM277 525h32v7h-32zM307 524h17v8h-17zM322 524h31v7h-31zM352 524h15v6h-15zM154 534h10v6h-10zM163 533h32v7h-32zM193 532h17v8h-17zM208 532h31v7h-31zM237 531h12v8h-12zM247 531h32v7h-32zM277 530h17v8h-17zM292 530h32v7h-32zM322 529h17v8h-17zM338 530h29v5h-29zM154 540h10v5h-10zM163 538h17v8h-17zM178 538h32v7h-32zM208 537h17v8h-17zM223 537h26v7h-26zM247 536h17v8h-17zM262 536h32v7h-32zM292 535h17v8h-17zM307 535h32v7h-32zM337 534h17v8h-17zM353 535h14v5h-14zM154 545h25v5h-25zM178 543h17v8h-17zM193 543h32v7h-32zM223 542h12v8h-12zM233 542h31v7h-31zM262 541h17v8h-17zM277 541h32v7h-32zM307 540h17v8h-17zM322 540h32v7h-32zM353 540h15v6h-15zM154 550h10v6h-10zM163 549h32v7h-32zM193 548h17v8h-17zM208 548h27v7h-27zM233 547h17v8h-17zM248 547h31v7h-31zM277 546h17v8h-17zM292 546h32v7h-32zM322 545h17v8h-17zM338 546h30v5h-30zM155 556h9v5h-9zM163 554h17v8h-17zM178 554h32v7h-32zM208 553h17v8h-17zM223 553h27v7h-27zM248 552h17v8h-17zM263 552h31v7h-31zM292 551h17v8h-17zM307 551h32v7h-32zM337 550h17v8h-17zM353 551h15v5h-15zM155 561h25v5h-25zM179 559h16v8h-16zM193 559h32v7h-32zM223 558h12v8h-12zM233 558h32v7h-32zM263 557h17v8h-17zM278 557h31v7h-31zM307 556h17v8h-17zM322 556h32v7h-32zM353 556h15v6h-15zM155 566h10v6h-10zM164 565h32v7h-32zM194 564h16v8h-16zM208 564h27v7h-27zM233 563h17v8h-17zM248 563h32v7h-32zM278 562h17v8h-17zM293 562h31v7h-31zM322 561h17v8h-17zM338 562h30v5h-30zM155 572h10v5h-10zM164 570h17v8h-17zM179 570h32v7h-32zM209 569h11v8h-11zM218 569h32v7h-32zM248 568h17v8h-17zM263 568h32v7h-32zM293 567h17v8h-17zM308 567h31v7h-31zM337 566h17v8h-17zM353 567h15v5h-15zM155 577h25v5h-25zM179 575h17v8h-17zM194 575h27v7h-27zM219 574h16v8h-16zM233 574h32v7h-32zM263 573h17v8h-17zM278 573h32v7h-32zM308 572h17v8h-17zM323 572h31v7h-31zM352 571h12v8h-12zM363 572h5v5h-5zM155 582h10v6h-10zM164 581h32v7h-32zM194 580h12v8h-12zM204 580h32v7h-32zM234 579h16v8h-16zM248 579h32v7h-32zM278 578h17v8h-17zM293 578h32v7h-32zM323 577h17v8h-17zM338 577h26v7h-26zM363 577h5v6h-5zM156 588h9v5h-9zM164 586h17v8h-17zM179 586h27v7h-27zM204 585h17v8h-17zM219 585h32v7h-32zM249 584h16v8h-16zM263 584h32v7h-32zM293 583h17v8h-17zM308 583h32v7h-32zM338 582h12v8h-12zM349 583h19v5h-19zM156 593h24v5h-24zM179 591h17v8h-17zM194 591h27v7h-27zM219 590h17v8h-17zM234 590h32v7h-32zM264 589h16v8h-16zM278 589h32v7h-32zM308 588h17v8h-17zM323 588h27v7h-27zM348 587h16v8h-16zM363 588h5v5h-5zM156 598h10v6h-10zM166 598h29v5h-29zM195 597h10v6h-10zM205 597h30v5h-30zM235 596h15v6h-15zM250 596h29v5h-29zM279 595h15v6h-15zM294 595h30v5h-30zM324 594h15v6h-15zM339 594h25v5h-25zM364 593h5v6h-5z"/>
<g shape-rendering="crispEdges">
<path fill="#c8a24e" d="M153 404h4v4h-4zM168 404h4v4h-4zM173 404h4v4h-4zM178 404h4v4h-4zM183 404h4v4h-4zM188 404h4v4h-4zM193 404h4v4h-4zM198 403h4v4h-4zM203 403h4v4h-4zM208 403h4v4h-4zM153 410h4v4h-4zM158 410h4v4h-4zM163 410h4v4h-4zM168 409h4v4h-4zM173 409h4v4h-4zM178 409h4v4h-4zM183 409h4v4h-4zM188 409h4v4h-4zM193 409h4v4h-4zM198 409h4v4h-4zM203 409h4v4h-4zM208 408h4v4h-4zM153 415h4v4h-4zM158 415h4v4h-4zM163 415h4v4h-4zM168 415h4v4h-4zM173 415h4v4h-4zM178 415h4v4h-4zM183 414h4v4h-4zM188 414h4v4h-4zM203 414h4v4h-4zM208 414h4v4h-4zM154 420h4v4h-4zM159 420h4v4h-4zM164 420h4v4h-4zM169 420h4v4h-4zM173 420h4v4h-4zM178 420h4v4h-4zM183 420h4v4h-4zM188 420h4v4h-4zM193 420h4v4h-4zM198 419h4v4h-4zM203 419h4v4h-4zM208 419h4v4h-4zM213 419h4v4h-4zM154 426h4v4h-4zM159 426h4v4h-4zM164 426h4v4h-4zM169 425h4v4h-4zM174 425h4v4h-4zM179 425h4v4h-4zM184 425h4v4h-4zM189 425h4v4h-4zM194 425h4v4h-4zM199 425h4v4h-4zM154 431h4v4h-4zM159 431h4v4h-4zM164 431h4v4h-4zM169 431h4v4h-4zM174 431h4v4h-4zM184 430h4v4h-4zM189 430h4v4h-4zM194 430h4v4h-4zM199 430h4v4h-4zM154 436h4v4h-4zM159 436h4v4h-4zM164 436h4v4h-4zM169 436h4v4h-4zM174 436h4v4h-4zM179 436h4v4h-4zM184 436h4v4h-4zM189 436h4v4h-4zM194 435h4v4h-4zM199 435h4v4h-4zM214 435h4v4h-4zM154 442h4v4h-4zM159 442h4v4h-4zM164 442h4v4h-4zM169 441h4v4h-4zM174 441h4v4h-4zM179 441h4v4h-4zM184 441h4v4h-4zM189 441h4v4h-4zM194 441h4v4h-4zM199 441h4v4h-4zM204 441h4v4h-4zM209 440h4v4h-4zM154 447h4v4h-4zM164 447h4v4h-4zM169 447h4v4h-4zM174 447h4v4h-4zM184 446h4v4h-4zM189 446h4v4h-4zM194 446h4v4h-4zM199 446h4v4h-4zM204 446h4v4h-4zM209 446h4v4h-4zM154 452h4v4h-4zM159 452h4v4h-4zM164 452h4v4h-4zM169 452h4v4h-4zM174 452h4v4h-4zM179 452h4v4h-4zM184 452h4v4h-4zM189 452h4v4h-4zM194 451h4v4h-4zM199 451h4v4h-4zM204 451h4v4h-4zM155 458h4v4h-4zM160 458h4v4h-4zM165 458h4v4h-4zM170 457h4v4h-4zM175 457h4v4h-4zM180 457h4v4h-4zM185 457h4v4h-4zM189 457h4v4h-4zM194 457h4v4h-4zM199 457h4v4h-4zM204 457h4v4h-4zM155 463h4v4h-4zM170 463h4v4h-4zM175 463h4v4h-4zM180 462h4v4h-4zM185 462h4v4h-4zM190 462h4v4h-4zM195 462h4v4h-4zM200 462h4v4h-4zM205 462h4v4h-4zM155 468h4v4h-4zM160 468h4v4h-4zM165 468h4v4h-4zM170 468h4v4h-4zM175 468h4v4h-4zM180 468h4v4h-4zM185 468h4v4h-4zM190 468h4v4h-4zM195 467h4v4h-4zM200 467h4v4h-4zM205 467h4v4h-4zM155 474h4v4h-4zM160 474h4v4h-4zM165 473h4v4h-4zM170 473h4v4h-4zM175 473h4v4h-4zM180 473h4v4h-4zM185 473h4v4h-4zM190 473h4v4h-4zM195 473h4v4h-4zM200 473h4v4h-4zM205 473h4v4h-4zM155 479h4v4h-4zM160 479h4v4h-4zM165 479h4v4h-4zM170 479h4v4h-4zM175 479h4v4h-4zM180 478h4v4h-4zM185 478h4v4h-4zM190 478h4v4h-4zM205 478h4v4h-4zM155 484h4v4h-4zM160 484h4v4h-4zM165 484h4v4h-4zM170 484h4v4h-4zM175 484h4v4h-4zM180 484h4v4h-4zM185 484h4v4h-4zM205 483h4v4h-4zM156 490h4v4h-4zM161 490h4v4h-4zM165 489h4v4h-4zM170 489h4v4h-4zM175 489h4v4h-4zM156 495h4v4h-4zM161 495h4v4h-4zM166 495h4v4h-4zM171 495h4v4h-4zM156 500h4v4h-4zM161 500h4v4h-4zM166 500h4v4h-4zM156 506h4v4h-4zM166 505h4v4h-4zM156 511h4v4h-4zM161 511h4v4h-4zM156 516h4v4h-4z"/>
<path fill="#d0b45e" d="M158 404h4v4h-4zM163 404h4v4h-4zM223 403h4v4h-4zM238 402h4v4h-4zM333 400h4v4h-4zM343 400h4v4h-4zM238 408h4v4h-4zM318 411h4v4h-4zM343 416h4v4h-4zM348 416h4v4h-4zM358 416h4v4h-4zM204 425h4v4h-4zM209 424h4v4h-4zM214 424h4v4h-4zM299 422h4v4h-4zM303 422h4v4h-4zM343 421h4v4h-4zM358 421h4v4h-4zM204 430h4v4h-4zM214 430h4v4h-4zM319 427h4v4h-4zM324 427h4v4h-4zM334 427h4v4h-4zM204 435h4v4h-4zM209 435h4v4h-4zM304 433h4v4h-4zM319 433h4v4h-4zM324 432h4v4h-4zM334 432h4v4h-4zM179 446h4v4h-4zM284 444h4v4h-4zM304 444h4v4h-4zM309 444h4v4h-4zM304 449h4v4h-4zM309 449h4v4h-4zM304 454h4v4h-4zM309 454h4v4h-4zM160 463h4v4h-4zM165 463h4v4h-4zM294 465h4v4h-4zM299 465h4v4h-4zM304 465h4v4h-4zM300 470h4v4h-4zM304 470h4v4h-4zM300 476h4v4h-4zM305 476h4v4h-4zM310 475h4v4h-4zM315 475h4v4h-4zM305 481h4v4h-4zM310 481h4v4h-4zM305 486h4v4h-4zM290 492h4v4h-4zM295 492h4v4h-4zM300 492h4v4h-4zM305 492h4v4h-4zM285 497h4v4h-4zM290 497h4v4h-4zM280 503h4v4h-4zM290 503h4v4h-4zM280 508h4v4h-4zM285 508h4v4h-4z"/>
<path fill="#c59e4a" d="M213 403h4v4h-4zM283 401h4v4h-4zM193 414h4v4h-4zM198 414h4v4h-4zM263 413h4v4h-4zM268 412h4v4h-4zM179 431h4v4h-4zM249 429h4v4h-4zM159 447h4v4h-4zM195 478h4v4h-4zM200 478h4v4h-4zM161 506h4v4h-4z"/>
<path fill="#cba853" d="M218 403h4v4h-4zM243 402h4v4h-4zM248 402h4v4h-4zM253 402h4v4h-4zM258 402h4v4h-4zM263 402h4v4h-4zM268 402h4v4h-4zM273 402h4v4h-4zM278 402h4v4h-4zM288 401h4v4h-4zM293 401h4v4h-4zM298 401h4v4h-4zM303 401h4v4h-4zM308 401h4v4h-4zM313 401h4v4h-4zM328 400h4v4h-4zM348 400h4v4h-4zM353 400h4v4h-4zM358 400h4v4h-4zM243 408h4v4h-4zM248 408h4v4h-4zM253 407h4v4h-4zM258 407h4v4h-4zM263 407h4v4h-4zM268 407h4v4h-4zM273 407h4v4h-4zM278 407h4v4h-4zM283 407h4v4h-4zM288 407h4v4h-4zM293 407h4v4h-4zM298 406h4v4h-4zM303 406h4v4h-4zM308 406h4v4h-4zM313 406h4v4h-4zM328 406h4v4h-4zM333 406h4v4h-4zM343 405h4v4h-4zM348 405h4v4h-4zM353 405h4v4h-4zM358 405h4v4h-4zM233 413h4v4h-4zM238 413h4v4h-4zM243 413h4v4h-4zM248 413h4v4h-4zM253 413h4v4h-4zM258 413h4v4h-4zM273 412h4v4h-4zM278 412h4v4h-4zM283 412h4v4h-4zM288 412h4v4h-4zM293 412h4v4h-4zM298 412h4v4h-4zM303 412h4v4h-4zM308 412h4v4h-4zM323 411h4v4h-4zM328 411h4v4h-4zM333 411h4v4h-4zM338 411h4v4h-4zM343 411h4v4h-4zM348 411h4v4h-4zM353 410h4v4h-4zM358 410h4v4h-4zM233 419h4v4h-4zM238 418h4v4h-4zM243 418h4v4h-4zM248 418h4v4h-4zM253 418h4v4h-4zM258 418h4v4h-4zM263 418h4v4h-4zM268 418h4v4h-4zM273 418h4v4h-4zM278 418h4v4h-4zM283 417h4v4h-4zM288 417h4v4h-4zM293 417h4v4h-4zM298 417h4v4h-4zM303 417h4v4h-4zM308 417h4v4h-4zM323 417h4v4h-4zM328 416h4v4h-4zM333 416h4v4h-4zM338 416h4v4h-4zM353 416h4v4h-4zM244 424h4v4h-4zM249 424h4v4h-4zM254 423h4v4h-4zM259 423h4v4h-4zM264 423h4v4h-4zM269 423h4v4h-4zM274 423h4v4h-4zM279 423h4v4h-4zM284 423h4v4h-4zM289 423h4v4h-4zM294 423h4v4h-4zM308 422h4v4h-4zM323 422h4v4h-4zM328 422h4v4h-4zM333 422h4v4h-4zM338 421h4v4h-4zM348 421h4v4h-4zM353 421h4v4h-4zM219 430h4v4h-4zM224 429h4v4h-4zM229 429h4v4h-4zM244 429h4v4h-4zM254 429h4v4h-4zM259 429h4v4h-4zM264 429h4v4h-4zM269 428h4v4h-4zM274 428h4v4h-4zM279 428h4v4h-4zM284 428h4v4h-4zM289 428h4v4h-4zM294 428h4v4h-4zM309 428h4v4h-4zM329 427h4v4h-4zM339 427h4v4h-4zM344 427h4v4h-4zM349 427h4v4h-4zM219 435h4v4h-4zM234 435h4v4h-4zM239 434h4v4h-4zM244 434h4v4h-4zM249 434h4v4h-4zM254 434h4v4h-4zM259 434h4v4h-4zM264 434h4v4h-4zM269 434h4v4h-4zM274 434h4v4h-4zM279 434h4v4h-4zM284 433h4v4h-4zM289 433h4v4h-4zM294 433h4v4h-4zM309 433h4v4h-4zM329 432h4v4h-4zM339 432h4v4h-4zM239 440h4v4h-4zM254 439h4v4h-4zM259 439h4v4h-4zM264 439h4v4h-4zM269 439h4v4h-4zM274 439h4v4h-4zM279 439h4v4h-4zM284 439h4v4h-4zM289 439h4v4h-4zM294 439h4v4h-4zM299 438h4v4h-4zM304 438h4v4h-4zM309 438h4v4h-4zM314 438h4v4h-4zM319 438h4v4h-4zM324 438h4v4h-4zM329 438h4v4h-4zM334 438h4v4h-4zM254 445h4v4h-4zM259 445h4v4h-4zM264 445h4v4h-4zM289 444h4v4h-4zM294 444h4v4h-4zM299 444h4v4h-4zM314 443h4v4h-4zM329 443h4v4h-4zM264 450h4v4h-4zM284 449h4v4h-4zM289 449h4v4h-4zM294 449h4v4h-4zM299 449h4v4h-4zM314 449h4v4h-4zM284 455h4v4h-4zM289 455h4v4h-4zM294 455h4v4h-4zM299 454h4v4h-4zM314 454h4v4h-4zM279 460h4v4h-4zM294 460h4v4h-4zM299 460h4v4h-4zM304 460h4v4h-4zM309 459h4v4h-4zM314 459h4v4h-4zM319 459h4v4h-4zM309 465h4v4h-4zM314 465h4v4h-4zM309 470h4v4h-4zM314 470h4v4h-4zM310 486h4v4h-4zM285 492h4v4h-4zM280 497h4v4h-4zM286 513h4v4h-4zM290 513h4v4h-4zM295 513h4v4h-4zM300 513h4v4h-4zM272 572h4v4h-4zM277 588h4v4h-4zM272 594h4v4h-4zM277 594h4v4h-4zM282 593h4v4h-4z"/>
<path fill="#d5c069" d="M228 403h4v4h-4zM233 403h4v4h-4zM318 401h4v4h-4zM323 401h4v4h-4zM338 400h4v4h-4zM228 408h4v4h-4zM233 408h4v4h-4zM318 406h4v4h-4zM323 406h4v4h-4zM338 406h4v4h-4zM313 411h4v4h-4zM313 417h4v4h-4zM318 417h4v4h-4zM313 422h4v4h-4zM318 422h4v4h-4zM209 430h4v4h-4zM299 428h4v4h-4zM304 428h4v4h-4zM314 427h4v4h-4zM299 433h4v4h-4zM314 433h4v4h-4zM319 443h4v4h-4zM324 443h4v4h-4zM319 449h4v4h-4zM324 448h4v4h-4zM319 454h4v4h-4zM285 503h4v4h-4zM290 508h4v4h-4z"/>
<path fill="#c8a24e" d="M150 401h5v5h-5zM165 401h15v5h-15zM180 400h15v6h-15zM195 400h15v5h-15zM150 406h15v6h-15zM165 406h30v5h-30zM195 405h10v6h-10zM205 405h10v5h-10zM150 412h15v5h-15zM165 411h15v6h-15zM180 411h10v5h-10zM200 411h5v5h-5zM205 410h10v6h-10zM151 417h29v5h-29zM180 416h15v6h-15zM195 416h20v5h-20zM151 422h15v6h-15zM166 422h30v5h-30zM196 421h5v6h-5zM151 428h15v5h-15zM166 427h10v6h-10zM181 427h20v5h-20zM151 433h30v5h-30zM181 432h10v6h-10zM191 432h10v5h-10zM211 432h5v5h-5zM151 438h15v6h-15zM166 438h25v5h-25zM191 437h15v6h-15zM206 437h10v5h-10zM151 444h5v5h-5zM161 444h5v5h-5zM166 443h10v6h-10zM181 443h25v5h-25zM206 442h10v6h-10zM151 449h25v5h-25zM176 448h15v6h-15zM191 448h25v5h-25zM152 454h15v6h-15zM167 454h24v5h-24zM191 453h15v6h-15zM206 453h5v5h-5zM152 460h5v5h-5zM167 459h10v6h-10zM177 459h30v5h-30zM152 465h25v5h-25zM177 464h15v6h-15zM192 464h25v5h-25zM152 470h10v6h-10zM162 470h30v5h-30zM192 469h15v6h-15zM207 469h5v5h-5zM152 476h10v5h-10zM162 475h15v6h-15zM177 475h15v5h-15zM202 475h5v5h-5zM207 474h5v6h-5zM152 481h25v5h-25zM177 480h15v6h-15zM192 480h20v5h-20zM153 486h10v6h-10zM163 486h14v5h-14zM182 486h10v5h-10zM202 485h5v6h-5zM207 485h5v5h-5zM153 492h10v5h-10zM163 491h15v6h-15zM207 490h5v6h-5zM153 497h25v5h-25zM213 496h5v5h-5zM153 502h5v6h-5zM163 502h10v5h-10zM153 508h10v5h-10zM163 507h10v6h-10zM153 513h15v5h-15zM153 518h10v6h-10zM154 524h5v5h-5z"/>
<path fill="#d0b45e" d="M155 401h10v5h-10zM220 399h5v6h-5zM235 399h5v5h-5zM330 397h5v5h-5zM340 397h5v5h-5zM220 405h5v5h-5zM235 404h5v6h-5zM315 408h5v5h-5zM340 413h10v5h-10zM355 412h5v6h-5zM201 421h5v6h-5zM206 421h10v5h-10zM296 419h9v5h-9zM340 418h5v5h-5zM355 418h5v5h-5zM201 427h5v5h-5zM211 426h5v6h-5zM316 424h10v5h-10zM331 424h5v5h-5zM201 432h10v5h-10zM301 430h5v5h-5zM316 429h5v6h-5zM321 429h5v5h-5zM331 429h5v5h-5zM176 443h5v5h-5zM276 441h10v5h-10zM301 440h10v6h-10zM301 446h10v5h-10zM301 451h10v5h-10zM321 450h5v6h-5zM157 460h10v5h-10zM261 457h5v6h-5zM291 462h15v5h-15zM287 467h5v6h-5zM292 467h14v5h-14zM316 467h5v5h-5zM297 472h10v6h-10zM307 472h15v5h-15zM292 478h15v5h-15zM307 477h5v6h-5zM302 483h5v5h-5zM287 489h5v5h-5zM292 488h15v6h-15zM307 488h5v5h-5zM282 494h20v5h-20zM277 499h5v6h-5zM287 499h5v6h-5zM292 499h5v5h-5zM277 505h10v5h-10zM292 504h5v6h-5z"/>
<path fill="#c59e4a" d="M210 400h5v5h-5zM280 398h5v5h-5zM190 411h10v5h-10zM260 409h5v6h-5zM265 409h5v5h-5zM176 427h5v6h-5zM246 426h5v5h-5zM351 423h5v5h-5zM156 444h5v5h-5zM207 458h5v6h-5zM281 457h5v5h-5zM192 475h10v5h-10zM177 486h5v5h-5zM178 491h5v5h-5zM158 502h5v6h-5z"/>
<path fill="#cba853" d="M215 400h5v5h-5zM240 399h25v5h-25zM265 398h15v6h-15zM285 398h25v5h-25zM310 397h5v6h-5zM325 397h5v5h-5zM345 397h5v5h-5zM350 396h15v6h-15zM215 405h5v5h-5zM240 404h10v6h-10zM250 404h30v5h-30zM280 403h15v6h-15zM295 403h20v5h-20zM325 402h10v6h-10zM340 402h25v5h-25zM225 410h25v5h-25zM250 409h10v6h-10zM270 409h25v5h-25zM295 408h15v6h-15zM320 408h20v5h-20zM340 407h10v6h-10zM350 407h15v5h-15zM215 416h5v5h-5zM230 415h5v6h-5zM235 415h30v5h-30zM265 414h15v6h-15zM280 414h30v5h-30zM320 413h5v6h-5zM325 413h15v5h-15zM350 412h5v6h-5zM360 412h5v6h-5zM216 421h5v5h-5zM231 421h5v5h-5zM236 420h15v6h-15zM251 420h30v5h-30zM281 419h15v6h-15zM305 419h5v5h-5zM320 419h5v5h-5zM325 418h10v6h-10zM335 418h5v5h-5zM345 418h10v5h-10zM360 418h5v5h-5zM216 426h5v6h-5zM221 426h15v5h-15zM241 426h5v5h-5zM251 425h15v6h-15zM266 425h30v5h-30zM306 424h5v6h-5zM326 424h5v5h-5zM336 423h15v6h-15zM356 423h10v5h-10zM216 432h5v5h-5zM221 431h15v6h-15zM236 431h30v5h-30zM266 430h15v6h-15zM281 430h15v5h-15zM306 430h5v5h-5zM326 429h5v5h-5zM336 429h15v5h-15zM351 428h5v6h-5zM361 428h5v6h-5zM216 437h10v5h-10zM231 437h5v5h-5zM236 436h15v6h-15zM251 436h30v5h-30zM281 435h15v6h-15zM296 435h25v5h-25zM321 434h15v6h-15zM336 434h10v5h-10zM236 442h10v5h-10zM251 441h15v6h-15zM266 441h10v5h-10zM286 441h10v5h-10zM296 440h5v6h-5zM311 440h5v5h-5zM326 440h10v5h-10zM336 439h5v6h-5zM251 447h15v5h-15zM266 446h5v6h-5zM281 446h20v5h-20zM311 445h5v6h-5zM326 445h10v5h-10zM261 452h10v5h-10zM281 451h15v6h-15zM296 451h5v5h-5zM311 451h5v5h-5zM326 450h5v6h-5zM271 457h10v5h-10zM286 457h10v5h-10zM296 456h10v6h-10zM306 456h20v5h-20zM276 462h5v6h-5zM281 462h5v5h-5zM306 461h15v6h-15zM321 461h5v5h-5zM361 460h5v6h-5zM272 468h5v5h-5zM282 467h5v6h-5zM306 467h10v5h-10zM361 466h5v5h-5zM277 473h5v5h-5zM287 473h5v5h-5zM361 471h5v5h-5zM277 478h5v6h-5zM287 478h5v5h-5zM312 477h10v6h-10zM361 476h5v6h-5zM282 483h5v6h-5zM307 483h10v5h-10zM362 482h5v5h-5zM282 489h5v5h-5zM312 488h5v5h-5zM362 487h5v5h-5zM218 496h4v5h-4zM277 494h5v5h-5zM302 494h5v5h-5zM307 493h5v6h-5zM362 492h5v6h-5zM218 501h5v5h-5zM307 499h5v5h-5zM223 506h5v5h-5zM307 504h5v5h-5zM278 510h29v5h-29zM307 509h5v6h-5zM283 515h10v6h-10zM293 515h14v5h-14zM298 520h5v6h-5zM269 569h10v5h-10zM304 568h5v6h-5zM269 574h10v6h-10zM274 580h5v5h-5zM274 585h10v5h-10zM269 590h10v6h-10zM279 590h10v5h-10zM309 589h5v6h-5zM270 596h9v5h-9zM279 595h15v6h-15zM294 595h5v5h-5zM304 595h10v5h-10z"/>
<path fill="#d5c069" d="M225 399h10v6h-10zM315 397h10v6h-10zM335 397h5v5h-5zM225 405h10v5h-10zM315 403h10v5h-10zM335 402h5v6h-5zM310 408h5v5h-5zM310 413h10v6h-10zM310 419h10v5h-10zM206 426h5v6h-5zM296 424h10v6h-10zM311 424h5v5h-5zM296 430h5v5h-5zM311 429h5v6h-5zM316 440h10v5h-10zM316 445h5v6h-5zM321 445h5v5h-5zM316 451h5v5h-5zM282 499h5v6h-5zM287 505h5v5h-5z"/>
</g>
<path d="M151.2,396.5L156.8,605.2M182.6,396.5L188.0,605.2M214.0,396.5L219.1,605.2M245.4,396.5L250.3,605.2M276.8,396.5L281.5,605.2M308.2,396.5L312.6,605.2M339.6,396.5L343.8,605.2M150.6,415.9L369.5,411.7M150.6,442.6L369.5,438.4M150.6,469.2L369.5,465.0M150.6,495.9L369.5,491.6M150.6,522.5L369.5,518.3M150.6,549.1L369.5,545.0M150.6,575.8L369.5,571.6M150.6,602.5L369.5,598.2" stroke="#b0b0b0" stroke-width="1.1" fill="none"/>
<path d="M319.6,605.0L319.6,593.6L318.9,587.1L317.0,582.0L314.4,576.8L312.5,571.7L309.3,567.8L306.1,564.6L301.6,563.3L299.6,562.1L301.3,558.8L301.6,555.0L300.0,551.1L299.0,546.6L297.7,542.8L299.0,540.2L302.9,537.0L306.7,530.6L309.3,524.1L309.9,519.0L316.3,510.0L320.2,499.7L324.1,485.6L327.3,472.1L332.4,459.8L338.8,449.6L344.0,443.1L350.4,439.3L356.8,437.7L359.4,436.5L361.0,438.0L361.3,440.6L358.8,444.4L356.8,449.6L354.9,462.4L353.0,476.6L350.4,485.6L350.2,488.1L351.7,492.0L354.3,497.1L356.2,501.6L355.6,504.2L354.3,506.1L354.9,508.7L356.8,509.3L358.8,507.4L359.4,504.8L360.7,503.8L362.2,505.5L362.6,508.7L360.7,512.5L357.5,516.4L355.6,519.0L356.6,523.5L354.9,528.0L356.2,531.2L358.8,533.4L362.0,534.2L365.2,532.9L367.1,529.9L368.7,526.7L369.5,525.0" stroke="#808080" stroke-width="1.4" fill="none" stroke-linejoin="round"/>
</g>
<rect x="150.6" y="396.5" width="218.9" height="208.7" fill="none" stroke="#000" stroke-width="1.1"/>
<text x="259.75" y="365.00" font-size="16.67" text-anchor="middle" >u std. [m/s]</text>
<text x="151.30" y="385.50" font-size="13.89" text-anchor="middle" >112.5°E</text>
<text x="213.80" y="385.50" font-size="13.89" text-anchor="middle" >113°E</text>
<text x="276.40" y="385.50" font-size="13.89" text-anchor="middle" >113.5°E</text>
<text x="339.00" y="385.50" font-size="13.89" text-anchor="middle" >114°E</text>
<text x="157.00" y="622.50" font-size="13.89" text-anchor="middle" >112.5°E</text>
<text x="219.40" y="622.50" font-size="13.89" text-anchor="middle" >113°E</text>
<text x="281.50" y="622.50" font-size="13.89" text-anchor="middle" >113.5°E</text>
<text x="343.60" y="622.50" font-size="13.89" text-anchor="middle" >114°E</text>
<text x="143.30" y="420.70" font-size="13.89" text-anchor="end" >21.6°S</text>
<text x="143.30" y="447.35" font-size="13.89" text-anchor="end" >21.8°S</text>
<text x="143.30" y="474.00" font-size="13.89" text-anchor="end" >22°S</text>
<text x="143.30" y="500.65" font-size="13.89" text-anchor="end" >22.2°S</text>
<text x="143.30" y="527.30" font-size="13.89" text-anchor="end" >22.4°S</text>
<text x="143.30" y="553.95" font-size="13.89" text-anchor="end" >22.6°S</text>
<text x="143.30" y="580.60" font-size="13.89" text-anchor="end" >22.8°S</text>
<text x="143.30" y="607.25" font-size="13.89" text-anchor="end" >23°S</text>
<linearGradient id="gus" x1="0" y1="0" x2="0" y2="1"><stop offset="0.000" stop-color="#221f1b"/><stop offset="0.143" stop-color="#4a3a2c"/><stop offset="0.286" stop-color="#6f5234"/><stop offset="0.429" stop-color="#93693a"/><stop offset="0.571" stop-color="#b0853f"/><stop offset="0.714" stop-color="#c6a64d"/><stop offset="0.857" stop-color="#d7c96d"/><stop offset="1.000" stop-color="#e8f5ab"/></linearGradient>
<rect x="383.5" y="476.5" width="2.0" height="49.2" fill="url(#gus)" stroke="#000" stroke-width="1.1"/>
<clipPath id="clipvs"><rect x="478.6" y="396.5" width="218.9" height="208.7"/></clipPath>
<g clip-path="url(#clipvs)">
<rect x="478.6" y="396.5" width="218.9" height="208.7" fill="#97b6e1"/>
<polygon points="647.6,605.0 647.6,593.6 646.9,587.1 645.0,582.0 642.4,576.8 640.5,571.7 637.3,567.8 634.1,564.6 629.6,563.3 627.6,562.1 629.3,558.8 629.6,555.0 628.0,551.1 627.0,546.6 625.7,542.8 627.0,540.2 630.9,537.0 634.7,530.6 637.3,524.1 637.9,519.0 644.3,510.0 648.2,499.7 652.1,485.6 655.3,472.1 660.4,459.8 666.8,449.6 672.0,443.1 678.4,439.3 684.8,437.7 687.4,436.5 689.0,438.0 689.3,440.6 686.8,444.4 684.8,449.6 682.9,462.4 681.0,476.6 678.4,485.6 678.2,488.1 679.7,492.0 682.3,497.1 684.2,501.6 683.6,504.2 682.3,506.1 682.9,508.7 684.8,509.3 686.8,507.4 687.4,504.8 688.7,503.8 690.2,505.5 690.6,508.7 688.7,512.5 685.5,516.4 683.6,519.0 684.6,523.5 682.9,528.0 684.2,531.2 686.8,533.4 690.0,534.2 693.2,532.9 695.1,529.9 696.7,526.7 697.5,525.0 699.0,525.0 699.0,607.0 647.6,607.0" fill="#efefdb"/>
<path shape-rendering="crispEdges" fill="#e8f5ab" d="M478 401h30v5h-30zM508 400h15v6h-15zM523 400h25v5h-25zM548 399h15v6h-15zM563 399h30v5h-30zM593 398h15v6h-15zM608 398h30v5h-30zM638 397h15v6h-15zM653 397h25v5h-25zM678 396h15v6h-15zM478 406h15v6h-15zM492 405h32v7h-32zM522 404h12v8h-12zM532 404h32v7h-32zM562 403h17v8h-17zM577 403h32v7h-32zM607 402h17v8h-17zM622 402h32v7h-32zM652 401h17v8h-17zM668 402h25v5h-25zM478 412h15v5h-15zM492 410h17v8h-17zM507 410h27v7h-27zM532 409h17v8h-17zM547 409h32v7h-32zM577 408h17v8h-17zM592 408h32v7h-32zM622 407h17v8h-17zM637 407h32v7h-32zM667 406h12v8h-12zM678 407h15v5h-15zM479 417h29v5h-29zM507 415h17v8h-17zM522 415h27v7h-27zM547 414h17v8h-17zM562 414h32v7h-32zM592 413h17v8h-17zM607 413h32v7h-32zM637 412h17v8h-17zM652 412h27v7h-27zM678 412h15v6h-15zM479 422h15v6h-15zM493 421h32v7h-32zM523 420h12v8h-12zM533 420h32v7h-32zM563 419h17v8h-17zM578 419h32v7h-32zM608 418h17v8h-17zM623 418h31v7h-31zM652 417h12v8h-12zM663 418h30v5h-30zM479 428h15v5h-15zM493 426h17v8h-17zM508 426h27v7h-27zM533 425h17v8h-17zM548 425h32v7h-32zM578 424h17v8h-17zM593 424h32v7h-32zM623 423h17v8h-17zM638 423h27v7h-27zM663 422h17v8h-17zM679 423h15v5h-15zM479 433h30v5h-30zM508 431h12v8h-12zM518 431h32v7h-32zM548 430h17v8h-17zM563 430h32v7h-32zM593 429h17v8h-17zM608 429h32v7h-32zM638 428h12v8h-12zM648 428h32v7h-32zM679 428h15v6h-15zM479 438h15v6h-15zM493 437h27v7h-27zM518 436h17v8h-17zM533 436h32v7h-32zM563 435h17v8h-17zM578 435h32v7h-32zM608 434h17v8h-17zM623 434h27v7h-27zM648 433h17v8h-17zM664 434h30v5h-30zM479 444h15v5h-15zM493 442h12v8h-12zM503 442h32v7h-32zM533 441h17v8h-17zM548 441h32v7h-32zM578 440h17v8h-17zM593 440h32v7h-32zM623 439h17v8h-17zM638 439h27v7h-27zM663 438h17v8h-17zM679 439h15v5h-15zM479 449h25v5h-25zM503 447h17v8h-17zM518 447h32v7h-32zM548 446h17v8h-17zM563 446h32v7h-32zM593 445h17v8h-17zM608 445h32v7h-32zM638 444h12v8h-12zM648 444h32v7h-32zM679 444h15v6h-15zM480 454h15v6h-15zM494 453h26v7h-26zM518 452h17v8h-17zM533 452h32v7h-32zM563 451h17v8h-17zM578 451h32v7h-32zM608 450h17v8h-17zM623 450h27v7h-27zM648 449h17v8h-17zM664 450h30v5h-30zM480 460h15v5h-15zM494 458h12v8h-12zM504 458h32v7h-32zM534 457h17v8h-17zM549 457h31v7h-31zM578 456h17v8h-17zM593 456h32v7h-32zM623 455h12v8h-12zM633 455h32v7h-32zM663 454h17v8h-17zM679 455h15v5h-15zM480 465h25v5h-25zM504 463h17v8h-17zM519 463h32v7h-32zM549 462h17v8h-17zM564 462h32v7h-32zM594 461h16v8h-16zM608 461h27v7h-27zM633 460h17v8h-17zM648 460h32v7h-32zM679 460h15v6h-15zM480 470h10v6h-10zM489 469h32v7h-32zM519 468h17v8h-17zM534 468h32v7h-32zM564 467h17v8h-17zM579 467h32v7h-32zM609 466h12v8h-12zM619 466h31v7h-31zM648 465h17v8h-17zM664 466h30v5h-30zM480 476h10v5h-10zM489 474h17v8h-17zM504 474h32v7h-32zM534 473h17v8h-17zM549 473h32v7h-32zM579 472h17v8h-17zM594 472h27v7h-27zM619 471h17v8h-17zM634 471h31v7h-31zM663 470h17v8h-17zM679 471h15v5h-15zM480 481h25v5h-25zM504 479h17v8h-17zM519 479h32v7h-32zM549 478h17v8h-17zM564 478h32v7h-32zM594 477h17v8h-17zM609 477h27v7h-27zM634 476h17v8h-17zM649 476h32v7h-32zM680 476h14v6h-14zM481 486h10v6h-10zM490 485h31v7h-31zM519 484h17v8h-17zM534 484h32v7h-32zM564 483h17v8h-17zM579 483h32v7h-32zM609 482h12v8h-12zM619 482h32v7h-32zM649 481h17v8h-17zM665 482h30v5h-30zM481 492h10v5h-10zM490 490h17v8h-17zM505 490h31v7h-31zM534 489h17v8h-17zM549 489h32v7h-32zM579 488h17v8h-17zM594 488h27v7h-27zM619 487h17v8h-17zM634 487h32v7h-32zM664 486h17v8h-17zM680 487h15v5h-15zM481 497h25v5h-25zM505 495h17v8h-17zM520 495h31v7h-31zM549 494h17v8h-17zM564 494h32v7h-32zM594 493h12v8h-12zM604 493h32v7h-32zM634 492h17v8h-17zM649 492h32v7h-32zM680 492h15v6h-15zM481 502h10v6h-10zM490 501h32v7h-32zM520 500h17v8h-17zM535 500h32v7h-32zM565 499h16v8h-16zM579 499h27v7h-27zM604 498h17v8h-17zM619 498h32v7h-32zM649 497h17v8h-17zM665 498h30v5h-30zM481 508h10v5h-10zM490 506h17v8h-17zM505 506h32v7h-32zM535 505h17v8h-17zM550 505h32v7h-32zM580 504h17v8h-17zM595 504h26v7h-26zM619 503h17v8h-17zM634 503h32v7h-32zM664 502h17v8h-17zM680 503h15v5h-15zM481 513h25v5h-25zM505 511h17v8h-17zM520 511h32v7h-32zM550 510h17v8h-17zM565 510h32v7h-32zM595 509h12v8h-12zM605 509h31v7h-31zM634 508h17v8h-17zM649 508h32v7h-32zM680 508h15v6h-15zM481 518h10v6h-10zM490 517h32v7h-32zM520 516h17v8h-17zM535 516h32v7h-32zM565 515h17v8h-17zM580 515h27v7h-27zM605 514h17v8h-17zM620 514h31v7h-31zM649 513h17v8h-17zM665 514h30v5h-30zM482 524h10v5h-10zM491 522h16v8h-16zM505 522h32v7h-32zM535 521h17v8h-17zM550 521h32v7h-32zM580 520h12v8h-12zM590 520h32v7h-32zM620 519h17v8h-17zM635 519h31v7h-31zM664 518h17v8h-17zM680 519h15v5h-15zM482 529h25v5h-25zM506 527h17v8h-17zM521 527h31v7h-31zM550 526h17v8h-17zM565 526h27v7h-27zM590 525h17v8h-17zM605 525h32v7h-32zM635 524h17v8h-17zM650 524h31v7h-31zM680 524h15v6h-15zM482 534h10v6h-10zM491 533h32v7h-32zM521 532h17v8h-17zM536 532h31v7h-31zM565 531h12v8h-12zM575 531h32v7h-32zM605 530h17v8h-17zM620 530h32v7h-32zM650 529h17v8h-17zM666 530h29v5h-29zM482 540h10v5h-10zM491 538h17v8h-17zM506 538h32v7h-32zM536 537h17v8h-17zM551 537h26v7h-26zM575 536h17v8h-17zM590 536h32v7h-32zM620 535h17v8h-17zM635 535h32v7h-32zM665 534h17v8h-17zM681 535h14v5h-14zM482 545h25v5h-25zM506 543h17v8h-17zM521 543h32v7h-32zM551 542h12v8h-12zM561 542h31v7h-31zM590 541h17v8h-17zM605 541h32v7h-32zM635 540h17v8h-17zM650 540h32v7h-32zM681 540h15v6h-15zM482 550h10v6h-10zM491 549h32v7h-32zM521 548h17v8h-17zM536 548h27v7h-27zM561 547h17v8h-17zM576 547h31v7h-31zM605 546h17v8h-17zM620 546h32v7h-32zM650 545h17v8h-17zM666 546h30v5h-30zM483 556h9v5h-9zM491 554h17v8h-17zM506 554h32v7h-32zM536 553h17v8h-17zM551 553h27v7h-27zM576 552h17v8h-17zM591 552h31v7h-31zM620 551h17v8h-17zM635 551h32v7h-32zM665 550h17v8h-17zM681 551h15v5h-15zM483 561h25v5h-25zM507 559h16v8h-16zM521 559h32v7h-32zM551 558h12v8h-12zM561 558h32v7h-32zM591 557h17v8h-17zM606 557h31v7h-31zM635 556h17v8h-17zM650 556h32v7h-32zM681 556h15v6h-15zM483 566h10v6h-10zM492 565h32v7h-32zM522 564h16v8h-16zM536 564h27v7h-27zM561 563h17v8h-17zM576 563h32v7h-32zM606 562h17v8h-17zM621 562h31v7h-31zM650 561h17v8h-17zM666 562h30v5h-30zM483 572h10v5h-10zM492 570h17v8h-17zM507 570h32v7h-32zM537 569h11v8h-11zM546 569h32v7h-32zM576 568h17v8h-17zM591 568h32v7h-32zM621 567h17v8h-17zM636 567h31v7h-31zM665 566h17v8h-17zM681 567h15v5h-15zM483 577h25v5h-25zM507 575h17v8h-17zM522 575h27v7h-27zM547 574h16v8h-16zM561 574h32v7h-32zM591 573h17v8h-17zM606 573h32v7h-32zM636 572h17v8h-17zM651 572h31v7h-31zM680 571h12v8h-12zM691 572h5v5h-5zM483 582h10v6h-10zM492 581h32v7h-32zM522 580h12v8h-12zM532 580h32v7h-32zM562 579h16v8h-16zM576 579h32v7h-32zM606 578h17v8h-17zM621 578h32v7h-32zM651 577h17v8h-17zM666 577h26v7h-26zM691 577h5v6h-5zM484 588h9v5h-9zM492 586h17v8h-17zM507 586h27v7h-27zM532 585h17v8h-17zM547 585h32v7h-32zM577 584h16v8h-16zM591 584h32v7h-32zM621 583h17v8h-17zM636 583h32v7h-32zM666 582h12v8h-12zM677 583h19v5h-19zM484 593h24v5h-24zM507 591h17v8h-17zM522 591h27v7h-27zM547 590h17v8h-17zM562 590h32v7h-32zM592 589h16v8h-16zM606 589h32v7h-32zM636 588h17v8h-17zM651 588h27v7h-27zM676 587h16v8h-16zM691 588h5v5h-5zM484 598h10v6h-10zM494 598h29v5h-29zM523 597h10v6h-10zM533 597h30v5h-30zM563 596h15v6h-15zM578 596h29v5h-29zM607 595h15v6h-15zM622 595h30v5h-30zM652 594h15v6h-15zM667 594h25v5h-25zM692 593h5v6h-5z"/>
<g shape-rendering="crispEdges">
<path fill="#c59e4a" d="M481 404h4v4h-4zM551 403h4v4h-4zM651 401h4v4h-4zM656 400h4v4h-4zM636 412h4v4h-4zM531 419h4v4h-4zM536 419h4v4h-4zM636 417h4v4h-4zM517 430h4v4h-4zM517 436h4v4h-4zM497 447h4v4h-4zM502 447h4v4h-4zM483 463h4v4h-4zM638 475h4v4h-4z"/>
<path fill="#c8a24e" d="M486 404h4v4h-4zM491 404h4v4h-4zM496 404h4v4h-4zM501 404h4v4h-4zM506 404h4v4h-4zM511 404h4v4h-4zM516 404h4v4h-4zM521 404h4v4h-4zM526 403h4v4h-4zM536 403h4v4h-4zM541 403h4v4h-4zM481 410h4v4h-4zM486 410h4v4h-4zM491 410h4v4h-4zM496 409h4v4h-4zM501 409h4v4h-4zM506 409h4v4h-4zM511 409h4v4h-4zM516 409h4v4h-4zM521 409h4v4h-4zM526 409h4v4h-4zM531 409h4v4h-4zM536 408h4v4h-4zM481 415h4v4h-4zM486 415h4v4h-4zM491 415h4v4h-4zM496 415h4v4h-4zM501 415h4v4h-4zM506 415h4v4h-4zM511 414h4v4h-4zM516 414h4v4h-4zM521 414h4v4h-4zM526 414h4v4h-4zM531 414h4v4h-4zM536 414h4v4h-4zM482 420h4v4h-4zM487 420h4v4h-4zM492 420h4v4h-4zM497 420h4v4h-4zM501 420h4v4h-4zM506 420h4v4h-4zM511 420h4v4h-4zM541 419h4v4h-4zM482 426h4v4h-4zM487 426h4v4h-4zM492 426h4v4h-4zM497 425h4v4h-4zM502 425h4v4h-4zM507 425h4v4h-4zM512 425h4v4h-4zM527 425h4v4h-4zM532 425h4v4h-4zM537 424h4v4h-4zM542 424h4v4h-4zM482 431h4v4h-4zM487 431h4v4h-4zM492 431h4v4h-4zM497 431h4v4h-4zM502 431h4v4h-4zM507 431h4v4h-4zM512 430h4v4h-4zM522 430h4v4h-4zM527 430h4v4h-4zM532 430h4v4h-4zM537 430h4v4h-4zM542 430h4v4h-4zM482 436h4v4h-4zM487 436h4v4h-4zM492 436h4v4h-4zM497 436h4v4h-4zM502 436h4v4h-4zM507 436h4v4h-4zM512 436h4v4h-4zM522 435h4v4h-4zM527 435h4v4h-4zM532 435h4v4h-4zM537 435h4v4h-4zM542 435h4v4h-4zM482 442h4v4h-4zM487 442h4v4h-4zM492 442h4v4h-4zM497 441h4v4h-4zM502 441h4v4h-4zM507 441h4v4h-4zM512 441h4v4h-4zM517 441h4v4h-4zM522 441h4v4h-4zM527 441h4v4h-4zM532 441h4v4h-4zM537 440h4v4h-4zM482 447h4v4h-4zM487 447h4v4h-4zM492 447h4v4h-4zM507 446h4v4h-4zM512 446h4v4h-4zM517 446h4v4h-4zM522 446h4v4h-4zM527 446h4v4h-4zM532 446h4v4h-4zM537 446h4v4h-4zM482 452h4v4h-4zM487 452h4v4h-4zM507 452h4v4h-4zM512 452h4v4h-4zM517 452h4v4h-4zM522 451h4v4h-4zM527 451h4v4h-4zM532 451h4v4h-4zM483 458h4v4h-4zM488 458h4v4h-4zM513 457h4v4h-4zM517 457h4v4h-4zM522 457h4v4h-4zM527 457h4v4h-4zM532 457h4v4h-4zM488 463h4v4h-4zM493 463h4v4h-4zM508 462h4v4h-4zM513 462h4v4h-4zM518 462h4v4h-4zM523 462h4v4h-4zM528 462h4v4h-4zM483 468h4v4h-4zM488 468h4v4h-4zM493 468h4v4h-4zM498 468h4v4h-4zM503 468h4v4h-4zM508 468h4v4h-4zM513 468h4v4h-4zM518 468h4v4h-4zM523 467h4v4h-4zM528 467h4v4h-4zM533 467h4v4h-4zM483 474h4v4h-4zM488 474h4v4h-4zM493 473h4v4h-4zM498 473h4v4h-4zM503 473h4v4h-4zM508 473h4v4h-4zM513 473h4v4h-4zM518 473h4v4h-4zM523 473h4v4h-4zM528 473h4v4h-4zM533 473h4v4h-4zM483 479h4v4h-4zM488 479h4v4h-4zM493 479h4v4h-4zM498 479h4v4h-4zM503 479h4v4h-4zM508 478h4v4h-4zM523 478h4v4h-4zM528 478h4v4h-4zM533 478h4v4h-4zM483 484h4v4h-4zM488 484h4v4h-4zM493 484h4v4h-4zM498 484h4v4h-4zM503 484h4v4h-4zM508 484h4v4h-4zM513 484h4v4h-4zM533 483h4v4h-4zM484 490h4v4h-4zM489 490h4v4h-4zM493 489h4v4h-4zM498 489h4v4h-4zM503 489h4v4h-4zM484 495h4v4h-4zM489 495h4v4h-4zM494 495h4v4h-4zM484 500h4v4h-4zM489 500h4v4h-4zM494 500h4v4h-4zM484 506h4v4h-4zM489 506h4v4h-4zM494 505h4v4h-4zM484 511h4v4h-4zM489 511h4v4h-4zM484 516h4v4h-4z"/>
<path fill="#d0b45e" d="M531 403h4v4h-4zM601 402h4v4h-4zM606 402h4v4h-4zM671 400h4v4h-4zM671 405h4v4h-4zM586 413h4v4h-4zM676 411h4v4h-4zM686 410h4v4h-4zM516 420h4v4h-4zM521 420h4v4h-4zM526 419h4v4h-4zM581 418h4v4h-4zM586 418h4v4h-4zM606 418h4v4h-4zM611 417h4v4h-4zM616 417h4v4h-4zM621 417h4v4h-4zM626 417h4v4h-4zM656 416h4v4h-4zM517 425h4v4h-4zM522 425h4v4h-4zM607 423h4v4h-4zM617 423h4v4h-4zM622 423h4v4h-4zM631 422h4v4h-4zM572 429h4v4h-4zM612 428h4v4h-4zM617 428h4v4h-4zM622 428h4v4h-4zM627 428h4v4h-4zM567 434h4v4h-4zM637 433h4v4h-4zM642 433h4v4h-4zM622 444h4v4h-4zM632 444h4v4h-4zM637 444h4v4h-4zM492 452h4v4h-4zM497 452h4v4h-4zM502 452h4v4h-4zM622 449h4v4h-4zM632 449h4v4h-4zM637 449h4v4h-4zM647 449h4v4h-4zM493 458h4v4h-4zM498 457h4v4h-4zM503 457h4v4h-4zM508 457h4v4h-4zM632 454h4v4h-4zM637 454h4v4h-4zM642 454h4v4h-4zM647 454h4v4h-4zM498 463h4v4h-4zM503 463h4v4h-4zM533 462h4v4h-4zM607 460h4v4h-4zM632 460h4v4h-4zM637 459h4v4h-4zM642 459h4v4h-4zM513 478h4v4h-4zM518 478h4v4h-4zM499 495h4v4h-4zM613 492h4v4h-4zM618 492h4v4h-4zM623 492h4v4h-4zM628 492h4v4h-4zM633 492h4v4h-4zM613 497h4v4h-4zM618 497h4v4h-4zM608 503h4v4h-4zM613 503h4v4h-4zM618 503h4v4h-4zM608 508h4v4h-4zM613 508h4v4h-4zM618 508h4v4h-4zM614 513h4v4h-4zM618 513h4v4h-4zM623 513h4v4h-4zM628 513h4v4h-4z"/>
<path fill="#cba853" d="M546 403h4v4h-4zM556 403h4v4h-4zM561 403h4v4h-4zM566 402h4v4h-4zM571 402h4v4h-4zM576 402h4v4h-4zM581 402h4v4h-4zM586 402h4v4h-4zM591 402h4v4h-4zM596 402h4v4h-4zM611 401h4v4h-4zM616 401h4v4h-4zM621 401h4v4h-4zM626 401h4v4h-4zM631 401h4v4h-4zM636 401h4v4h-4zM641 401h4v4h-4zM646 401h4v4h-4zM661 400h4v4h-4zM666 400h4v4h-4zM556 408h4v4h-4zM561 408h4v4h-4zM566 408h4v4h-4zM571 408h4v4h-4zM576 408h4v4h-4zM581 407h4v4h-4zM586 407h4v4h-4zM591 407h4v4h-4zM596 407h4v4h-4zM601 407h4v4h-4zM606 407h4v4h-4zM611 407h4v4h-4zM616 407h4v4h-4zM621 407h4v4h-4zM626 406h4v4h-4zM631 406h4v4h-4zM636 406h4v4h-4zM641 406h4v4h-4zM646 406h4v4h-4zM651 406h4v4h-4zM656 406h4v4h-4zM661 406h4v4h-4zM666 406h4v4h-4zM561 413h4v4h-4zM566 413h4v4h-4zM571 413h4v4h-4zM576 413h4v4h-4zM581 413h4v4h-4zM591 413h4v4h-4zM596 412h4v4h-4zM601 412h4v4h-4zM606 412h4v4h-4zM611 412h4v4h-4zM616 412h4v4h-4zM621 412h4v4h-4zM626 412h4v4h-4zM631 412h4v4h-4zM641 411h4v4h-4zM646 411h4v4h-4zM651 411h4v4h-4zM656 411h4v4h-4zM661 411h4v4h-4zM666 411h4v4h-4zM671 411h4v4h-4zM561 419h4v4h-4zM566 418h4v4h-4zM571 418h4v4h-4zM576 418h4v4h-4zM591 418h4v4h-4zM596 418h4v4h-4zM601 418h4v4h-4zM631 417h4v4h-4zM641 417h4v4h-4zM646 417h4v4h-4zM651 417h4v4h-4zM661 416h4v4h-4zM666 416h4v4h-4zM671 416h4v4h-4zM676 416h4v4h-4zM681 416h4v4h-4zM686 416h4v4h-4zM572 424h4v4h-4zM577 424h4v4h-4zM582 423h4v4h-4zM587 423h4v4h-4zM592 423h4v4h-4zM597 423h4v4h-4zM602 423h4v4h-4zM636 422h4v4h-4zM641 422h4v4h-4zM646 422h4v4h-4zM651 422h4v4h-4zM656 422h4v4h-4zM661 422h4v4h-4zM666 421h4v4h-4zM671 421h4v4h-4zM676 421h4v4h-4zM681 421h4v4h-4zM686 421h4v4h-4zM547 430h4v4h-4zM552 429h4v4h-4zM557 429h4v4h-4zM577 429h4v4h-4zM582 429h4v4h-4zM587 429h4v4h-4zM592 429h4v4h-4zM597 428h4v4h-4zM602 428h4v4h-4zM607 428h4v4h-4zM632 428h4v4h-4zM637 428h4v4h-4zM642 427h4v4h-4zM647 427h4v4h-4zM652 427h4v4h-4zM657 427h4v4h-4zM662 427h4v4h-4zM667 427h4v4h-4zM672 427h4v4h-4zM677 427h4v4h-4zM547 435h4v4h-4zM562 435h4v4h-4zM572 434h4v4h-4zM577 434h4v4h-4zM582 434h4v4h-4zM587 434h4v4h-4zM592 434h4v4h-4zM597 434h4v4h-4zM602 434h4v4h-4zM607 434h4v4h-4zM612 433h4v4h-4zM617 433h4v4h-4zM622 433h4v4h-4zM627 433h4v4h-4zM632 433h4v4h-4zM647 433h4v4h-4zM652 432h4v4h-4zM657 432h4v4h-4zM662 432h4v4h-4zM667 432h4v4h-4zM567 440h4v4h-4zM582 439h4v4h-4zM587 439h4v4h-4zM592 439h4v4h-4zM597 439h4v4h-4zM602 439h4v4h-4zM607 439h4v4h-4zM612 439h4v4h-4zM617 439h4v4h-4zM622 439h4v4h-4zM627 438h4v4h-4zM632 438h4v4h-4zM637 438h4v4h-4zM652 438h4v4h-4zM657 438h4v4h-4zM662 438h4v4h-4zM582 445h4v4h-4zM587 445h4v4h-4zM592 445h4v4h-4zM612 444h4v4h-4zM617 444h4v4h-4zM627 444h4v4h-4zM652 443h4v4h-4zM657 443h4v4h-4zM592 450h4v4h-4zM612 449h4v4h-4zM617 449h4v4h-4zM627 449h4v4h-4zM652 448h4v4h-4zM612 455h4v4h-4zM617 455h4v4h-4zM622 455h4v4h-4zM627 454h4v4h-4zM622 460h4v4h-4zM627 460h4v4h-4zM647 459h4v4h-4zM622 465h4v4h-4zM627 465h4v4h-4zM632 465h4v4h-4zM637 465h4v4h-4zM642 465h4v4h-4zM628 470h4v4h-4zM632 470h4v4h-4zM637 470h4v4h-4zM642 470h4v4h-4zM628 476h4v4h-4zM633 476h4v4h-4zM643 475h4v4h-4zM633 481h4v4h-4zM638 481h4v4h-4zM633 486h4v4h-4zM638 486h4v4h-4zM608 497h4v4h-4zM600 572h4v4h-4zM605 588h4v4h-4zM600 594h4v4h-4zM605 594h4v4h-4zM610 593h4v4h-4z"/>
<path fill="#d5c069" d="M676 400h4v4h-4zM681 400h4v4h-4zM676 405h4v4h-4zM686 405h4v4h-4zM681 410h4v4h-4zM612 423h4v4h-4zM627 422h4v4h-4zM642 438h4v4h-4zM647 438h4v4h-4zM642 443h4v4h-4zM642 449h4v4h-4z"/>
<path fill="#d9ca72" d="M686 400h4v4h-4zM681 405h4v4h-4zM647 443h4v4h-4z"/>
<path fill="#c59e4a" d="M478 401h5v5h-5zM548 399h5v6h-5zM648 397h5v6h-5zM653 397h5v5h-5zM633 408h5v6h-5zM528 416h10v5h-10zM633 414h5v5h-5zM514 427h5v5h-5zM689 423h5v5h-5zM514 432h5v6h-5zM689 428h5v6h-5zM494 443h10v6h-10zM599 441h5v5h-5zM480 460h5v5h-5zM649 456h5v5h-5zM535 474h5v6h-5zM635 472h5v5h-5zM690 487h5v5h-5zM496 507h5v6h-5zM481 518h5v6h-5zM482 524h5v5h-5zM637 595h5v5h-5z"/>
<path fill="#c8a24e" d="M483 401h25v5h-25zM508 400h15v6h-15zM523 400h5v5h-5zM533 400h10v5h-10zM478 406h15v6h-15zM493 406h30v5h-30zM523 405h10v6h-10zM533 405h10v5h-10zM478 412h15v5h-15zM493 411h15v6h-15zM508 411h25v5h-25zM533 410h10v6h-10zM479 417h29v5h-29zM508 416h5v6h-5zM538 416h5v5h-5zM479 422h15v6h-15zM494 422h20v5h-20zM524 421h10v6h-10zM534 421h10v5h-10zM479 428h15v5h-15zM494 427h15v6h-15zM509 427h5v5h-5zM519 427h15v5h-15zM534 426h10v6h-10zM479 433h30v5h-30zM509 432h5v6h-5zM519 432h25v5h-25zM479 438h15v6h-15zM494 438h25v5h-25zM519 437h15v6h-15zM534 437h10v5h-10zM479 444h15v5h-15zM504 443h30v5h-30zM534 442h10v6h-10zM479 449h10v5h-10zM504 448h15v6h-15zM519 448h25v5h-25zM480 454h10v6h-10zM510 454h9v5h-9zM519 453h15v6h-15zM534 453h5v5h-5zM485 460h10v5h-10zM505 459h25v5h-25zM535 458h5v6h-5zM480 465h25v5h-25zM505 464h15v6h-15zM520 464h25v5h-25zM480 470h10v6h-10zM490 470h30v5h-30zM520 469h15v6h-15zM535 469h5v5h-5zM480 476h10v5h-10zM490 475h15v6h-15zM505 475h5v5h-5zM520 475h15v5h-15zM480 481h25v5h-25zM505 480h15v6h-15zM520 480h20v5h-20zM481 486h10v6h-10zM491 486h29v5h-29zM530 485h5v6h-5zM535 485h5v5h-5zM481 492h10v5h-10zM491 491h5v6h-5zM501 491h5v6h-5zM506 491h5v5h-5zM535 490h5v6h-5zM481 497h25v5h-25zM541 496h5v5h-5zM481 502h10v6h-10zM491 502h10v5h-10zM481 508h10v5h-10zM491 507h5v6h-5zM481 513h15v5h-15zM486 518h5v6h-5z"/>
<path fill="#d0b45e" d="M528 400h5v5h-5zM598 398h10v6h-10zM668 397h5v5h-5zM668 402h5v5h-5zM688 402h5v5h-5zM583 409h5v6h-5zM673 407h5v6h-5zM683 407h10v5h-10zM513 416h10v6h-10zM523 416h5v5h-5zM578 415h10v5h-10zM603 414h5v6h-5zM608 414h20v5h-20zM653 413h5v5h-5zM514 422h10v5h-10zM604 420h5v5h-5zM614 419h10v6h-10zM629 419h4v5h-4zM569 426h5v5h-5zM609 425h15v5h-15zM624 424h5v6h-5zM564 431h5v5h-5zM634 430h5v5h-5zM639 429h5v6h-5zM619 441h5v5h-5zM629 440h10v6h-10zM489 449h15v5h-15zM619 446h5v5h-5zM629 446h10v5h-10zM644 445h5v6h-5zM490 454h5v6h-5zM495 454h15v5h-15zM629 451h20v5h-20zM495 459h10v6h-10zM530 459h5v5h-5zM599 457h10v5h-10zM629 456h5v6h-5zM634 456h10v5h-10zM510 475h10v5h-10zM496 491h5v6h-5zM610 489h10v5h-10zM620 488h15v6h-15zM635 488h10v5h-10zM610 494h10v5h-10zM625 494h10v5h-10zM605 499h15v6h-15zM620 499h5v5h-5zM551 506h5v5h-5zM605 505h15v5h-15zM620 504h5v6h-5zM611 510h19v5h-19zM602 580h5v5h-5z"/>
<path fill="#cba853" d="M543 400h5v5h-5zM553 399h10v6h-10zM563 399h30v5h-30zM593 398h5v6h-5zM608 398h30v5h-30zM638 397h10v6h-10zM658 397h10v5h-10zM543 405h20v5h-20zM563 404h15v6h-15zM578 404h30v5h-30zM608 403h15v6h-15zM623 403h30v5h-30zM653 402h15v6h-15zM553 410h25v5h-25zM578 409h5v6h-5zM588 409h5v6h-5zM593 409h30v5h-30zM623 408h10v6h-10zM638 408h30v5h-30zM668 407h5v6h-5zM543 416h5v5h-5zM558 415h5v6h-5zM563 415h15v5h-15zM588 415h5v5h-5zM593 414h10v6h-10zM628 414h5v5h-5zM638 413h15v6h-15zM658 413h20v5h-20zM678 412h15v6h-15zM544 421h5v5h-5zM559 421h5v5h-5zM564 420h15v6h-15zM579 420h25v5h-25zM633 419h20v5h-20zM653 418h10v6h-10zM663 418h30v5h-30zM544 426h5v6h-5zM549 426h15v5h-15zM574 426h5v5h-5zM579 425h15v6h-15zM594 425h15v5h-15zM629 424h10v6h-10zM639 424h25v5h-25zM664 423h15v6h-15zM679 423h10v5h-10zM544 432h5v5h-5zM549 431h15v6h-15zM569 431h25v5h-25zM594 430h15v6h-15zM609 430h25v5h-25zM644 429h5v6h-5zM649 429h30v5h-30zM679 428h5v6h-5zM544 437h10v5h-10zM559 437h5v5h-5zM564 436h15v6h-15zM579 436h30v5h-30zM609 435h15v6h-15zM624 435h15v5h-15zM649 434h15v6h-15zM664 434h10v5h-10zM564 442h10v5h-10zM579 441h15v6h-15zM594 441h5v5h-5zM604 441h15v5h-15zM624 440h5v6h-5zM649 440h15v5h-15zM664 439h5v6h-5zM579 447h15v5h-15zM594 446h5v6h-5zM609 446h10v5h-10zM624 446h5v5h-5zM649 445h15v5h-15zM589 452h10v5h-10zM609 451h15v6h-15zM624 451h5v5h-5zM649 450h10v6h-10zM589 457h5v6h-5zM609 457h15v5h-15zM624 456h5v6h-5zM644 456h5v5h-5zM604 462h5v6h-5zM609 462h5v5h-5zM619 462h15v5h-15zM634 461h15v6h-15zM649 461h5v5h-5zM689 460h5v6h-5zM600 468h5v5h-5zM610 467h10v6h-10zM620 467h29v5h-29zM689 466h5v5h-5zM605 473h5v5h-5zM615 473h5v5h-5zM625 472h10v6h-10zM640 472h10v5h-10zM689 471h5v5h-5zM605 478h5v6h-5zM615 478h20v5h-20zM635 477h15v6h-15zM689 476h5v6h-5zM610 483h5v6h-5zM630 483h15v5h-15zM690 482h5v5h-5zM546 496h4v5h-4zM605 494h5v5h-5zM635 493h5v6h-5zM690 492h5v6h-5zM546 501h5v5h-5zM635 499h5v5h-5zM635 504h5v5h-5zM606 510h5v5h-5zM630 510h5v5h-5zM635 509h5v6h-5zM611 515h10v6h-10zM621 515h14v5h-14zM626 520h5v6h-5zM597 569h10v5h-10zM632 568h5v6h-5zM597 574h10v6h-10zM602 585h10v5h-10zM597 590h10v6h-10zM607 590h10v5h-10zM637 589h5v6h-5zM598 596h9v5h-9zM607 595h15v6h-15zM622 595h5v5h-5zM632 595h5v5h-5z"/>
<path fill="#d5c069" d="M673 397h5v5h-5zM678 396h5v6h-5zM688 396h5v6h-5zM673 402h5v5h-5zM683 402h5v5h-5zM678 407h5v5h-5zM609 419h5v6h-5zM624 419h5v5h-5zM639 435h10v5h-10zM639 440h5v5h-5zM639 445h5v6h-5zM620 494h5v5h-5z"/>
<path fill="#d9ca72" d="M683 396h5v6h-5zM678 402h5v5h-5zM644 440h5v5h-5z"/>
</g>
<path d="M479.2,396.5L484.8,605.2M510.6,396.5L516.0,605.2M542.0,396.5L547.1,605.2M573.4,396.5L578.3,605.2M604.8,396.5L609.5,605.2M636.2,396.5L640.6,605.2M667.6,396.5L671.8,605.2M478.6,415.9L697.5,411.7M478.6,442.6L697.5,438.4M478.6,469.2L697.5,465.0M478.6,495.9L697.5,491.6M478.6,522.5L697.5,518.3M478.6,549.1L697.5,545.0M478.6,575.8L697.5,571.6M478.6,602.5L697.5,598.2" stroke="#b0b0b0" stroke-width="1.1" fill="none"/>
<path d="M647.6,605.0L647.6,593.6L646.9,587.1L645.0,582.0L642.4,576.8L640.5,571.7L637.3,567.8L634.1,564.6L629.6,563.3L627.6,562.1L629.3,558.8L629.6,555.0L628.0,551.1L627.0,546.6L625.7,542.8L627.0,540.2L630.9,537.0L634.7,530.6L637.3,524.1L637.9,519.0L644.3,510.0L648.2,499.7L652.1,485.6L655.3,472.1L660.4,459.8L666.8,449.6L672.0,443.1L678.4,439.3L684.8,437.7L687.4,436.5L689.0,438.0L689.3,440.6L686.8,444.4L684.8,449.6L682.9,462.4L681.0,476.6L678.4,485.6L678.2,488.1L679.7,492.0L682.3,497.1L684.2,501.6L683.6,504.2L682.3,506.1L682.9,508.7L684.8,509.3L686.8,507.4L687.4,504.8L688.7,503.8L690.2,505.5L690.6,508.7L688.7,512.5L685.5,516.4L683.6,519.0L684.6,523.5L682.9,528.0L684.2,531.2L686.8,533.4L690.0,534.2L693.2,532.9L695.1,529.9L696.7,526.7L697.5,525.0" stroke="#808080" stroke-width="1.4" fill="none" stroke-linejoin="round"/>
</g>
<rect x="478.6" y="396.5" width="218.9" height="208.7" fill="none" stroke="#000" stroke-width="1.1"/>
<text x="587.75" y="365.00" font-size="16.67" text-anchor="middle" >v std. [m/s]</text>
<text x="479.30" y="385.50" font-size="13.89" text-anchor="middle" >112.5°E</text>
<text x="541.80" y="385.50" font-size="13.89" text-anchor="middle" >113°E</text>
<text x="604.40" y="385.50" font-size="13.89" text-anchor="middle" >113.5°E</text>
<text x="667.00" y="385.50" font-size="13.89" text-anchor="middle" >114°E</text>
<text x="485.00" y="622.50" font-size="13.89" text-anchor="middle" >112.5°E</text>
<text x="547.40" y="622.50" font-size="13.89" text-anchor="middle" >113°E</text>
<text x="609.50" y="622.50" font-size="13.89" text-anchor="middle" >113.5°E</text>
<text x="671.60" y="622.50" font-size="13.89" text-anchor="middle" >114°E</text>
<text x="471.30" y="420.70" font-size="13.89" text-anchor="end" >21.6°S</text>
<text x="471.30" y="447.35" font-size="13.89" text-anchor="end" >21.8°S</text>
<text x="471.30" y="474.00" font-size="13.89" text-anchor="end" >22°S</text>
<text x="471.30" y="500.65" font-size="13.89" text-anchor="end" >22.2°S</text>
<text x="471.30" y="527.30" font-size="13.89" text-anchor="end" >22.4°S</text>
<text x="471.30" y="553.95" font-size="13.89" text-anchor="end" >22.6°S</text>
<text x="471.30" y="580.60" font-size="13.89" text-anchor="end" >22.8°S</text>
<text x="471.30" y="607.25" font-size="13.89" text-anchor="end" >23°S</text>
<linearGradient id="gvs" x1="0" y1="0" x2="0" y2="1"><stop offset="0.000" stop-color="#221f1b"/><stop offset="0.143" stop-color="#4a3a2c"/><stop offset="0.286" stop-color="#6f5234"/><stop offset="0.429" stop-color="#93693a"/><stop offset="0.571" stop-color="#b0853f"/><stop offset="0.714" stop-color="#c6a64d"/><stop offset="0.857" stop-color="#d7c96d"/><stop offset="1.000" stop-color="#e8f5ab"/></linearGradient>
<rect x="711.5" y="476.5" width="2.0" height="49.2" fill="url(#gvs)" stroke="#000" stroke-width="1.1"/>
<clipPath id="clipqs"><rect x="806.6" y="396.5" width="218.9" height="208.7"/></clipPath>
<g clip-path="url(#clipqs)">
<rect x="806.6" y="396.5" width="218.9" height="208.7" fill="#97b6e1"/>
<polygon points="975.6,605.0 975.6,593.6 974.9,587.1 973.0,582.0 970.4,576.8 968.5,571.7 965.3,567.8 962.1,564.6 957.6,563.3 955.6,562.1 957.3,558.8 957.6,555.0 956.0,551.1 955.0,546.6 953.7,542.8 955.0,540.2 958.9,537.0 962.7,530.6 965.3,524.1 965.9,519.0 972.3,510.0 976.2,499.7 980.1,485.6 983.3,472.1 988.4,459.8 994.8,449.6 1000.0,443.1 1006.4,439.3 1012.8,437.7 1015.4,436.5 1017.0,438.0 1017.3,440.6 1014.8,444.4 1012.8,449.6 1010.9,462.4 1009.0,476.6 1006.4,485.6 1006.2,488.1 1007.7,492.0 1010.3,497.1 1012.2,501.6 1011.6,504.2 1010.3,506.1 1010.9,508.7 1012.8,509.3 1014.8,507.4 1015.4,504.8 1016.7,503.8 1018.2,505.5 1018.6,508.7 1016.7,512.5 1013.5,516.4 1011.6,519.0 1012.6,523.5 1010.9,528.0 1012.2,531.2 1014.8,533.4 1018.0,534.2 1021.2,532.9 1023.1,529.9 1024.7,526.7 1025.5,525.0 1027.0,525.0 1027.0,607.0 975.6,607.0" fill="#efefdb"/>
<path shape-rendering="crispEdges" fill="#fef5f3" d="M806 401h30v5h-30zM836 400h15v6h-15zM851 400h25v5h-25zM876 399h15v6h-15zM891 399h30v5h-30zM921 398h15v6h-15zM936 398h30v5h-30zM966 397h15v6h-15zM981 397h25v5h-25zM1006 396h15v6h-15zM806 406h15v6h-15zM820 405h32v7h-32zM850 404h12v8h-12zM860 404h32v7h-32zM890 403h17v8h-17zM905 403h32v7h-32zM935 402h17v8h-17zM950 402h32v7h-32zM980 401h17v8h-17zM996 402h25v5h-25zM806 412h15v5h-15zM820 410h17v8h-17zM835 410h27v7h-27zM860 409h17v8h-17zM875 409h32v7h-32zM905 408h17v8h-17zM920 408h32v7h-32zM950 407h17v8h-17zM965 407h32v7h-32zM995 406h12v8h-12zM1006 407h15v5h-15zM807 417h29v5h-29zM835 415h17v8h-17zM850 415h27v7h-27zM875 414h17v8h-17zM890 414h32v7h-32zM920 413h17v8h-17zM935 413h32v7h-32zM965 412h17v8h-17zM980 412h27v7h-27zM1006 412h15v6h-15zM807 422h15v6h-15zM821 421h32v7h-32zM851 420h12v8h-12zM861 420h32v7h-32zM891 419h17v8h-17zM906 419h32v7h-32zM936 418h17v8h-17zM951 418h31v7h-31zM980 417h12v8h-12zM991 418h30v5h-30zM807 428h15v5h-15zM821 426h17v8h-17zM836 426h27v7h-27zM861 425h17v8h-17zM876 425h32v7h-32zM906 424h17v8h-17zM921 424h32v7h-32zM951 423h17v8h-17zM966 423h27v7h-27zM991 422h17v8h-17zM1007 423h15v5h-15zM807 433h30v5h-30zM836 431h12v8h-12zM846 431h32v7h-32zM876 430h17v8h-17zM891 430h32v7h-32zM921 429h17v8h-17zM936 429h32v7h-32zM966 428h12v8h-12zM976 428h32v7h-32zM1007 428h15v6h-15zM807 438h15v6h-15zM821 437h27v7h-27zM846 436h17v8h-17zM861 436h32v7h-32zM891 435h17v8h-17zM906 435h32v7h-32zM936 434h17v8h-17zM951 434h27v7h-27zM976 433h17v8h-17zM992 434h30v5h-30zM807 444h15v5h-15zM821 442h12v8h-12zM831 442h32v7h-32zM861 441h17v8h-17zM876 441h32v7h-32zM906 440h17v8h-17zM921 440h32v7h-32zM951 439h17v8h-17zM966 439h27v7h-27zM991 438h17v8h-17zM1007 439h15v5h-15zM807 449h25v5h-25zM831 447h17v8h-17zM846 447h32v7h-32zM876 446h17v8h-17zM891 446h32v7h-32zM921 445h17v8h-17zM936 445h32v7h-32zM966 444h12v8h-12zM976 444h32v7h-32zM1007 444h15v6h-15zM808 454h15v6h-15zM822 453h26v7h-26zM846 452h17v8h-17zM861 452h32v7h-32zM891 451h17v8h-17zM906 451h32v7h-32zM936 450h17v8h-17zM951 450h27v7h-27zM976 449h17v8h-17zM992 450h30v5h-30zM808 460h15v5h-15zM822 458h12v8h-12zM832 458h32v7h-32zM862 457h17v8h-17zM877 457h31v7h-31zM906 456h17v8h-17zM921 456h32v7h-32zM951 455h12v8h-12zM961 455h32v7h-32zM991 454h17v8h-17zM1007 455h15v5h-15zM808 465h25v5h-25zM832 463h17v8h-17zM847 463h32v7h-32zM877 462h17v8h-17zM892 462h32v7h-32zM922 461h16v8h-16zM936 461h27v7h-27zM961 460h17v8h-17zM976 460h32v7h-32zM1007 460h15v6h-15zM808 470h10v6h-10zM817 469h32v7h-32zM847 468h17v8h-17zM862 468h32v7h-32zM892 467h17v8h-17zM907 467h32v7h-32zM937 466h12v8h-12zM947 466h31v7h-31zM976 465h17v8h-17zM992 466h30v5h-30zM808 476h10v5h-10zM817 474h17v8h-17zM832 474h32v7h-32zM862 473h17v8h-17zM877 473h32v7h-32zM907 472h17v8h-17zM922 472h27v7h-27zM947 471h17v8h-17zM962 471h31v7h-31zM991 470h17v8h-17zM1007 471h15v5h-15zM808 481h25v5h-25zM832 479h17v8h-17zM847 479h32v7h-32zM877 478h17v8h-17zM892 478h32v7h-32zM922 477h17v8h-17zM937 477h27v7h-27zM962 476h17v8h-17zM977 476h32v7h-32zM1008 476h14v6h-14zM809 486h10v6h-10zM818 485h31v7h-31zM847 484h17v8h-17zM862 484h32v7h-32zM892 483h17v8h-17zM907 483h32v7h-32zM937 482h12v8h-12zM947 482h32v7h-32zM977 481h17v8h-17zM993 482h30v5h-30zM809 492h10v5h-10zM818 490h17v8h-17zM833 490h31v7h-31zM862 489h17v8h-17zM877 489h32v7h-32zM907 488h17v8h-17zM922 488h27v7h-27zM947 487h17v8h-17zM962 487h32v7h-32zM992 486h17v8h-17zM1008 487h15v5h-15zM809 497h25v5h-25zM833 495h17v8h-17zM848 495h31v7h-31zM877 494h17v8h-17zM892 494h32v7h-32zM922 493h12v8h-12zM932 493h32v7h-32zM962 492h17v8h-17zM977 492h32v7h-32zM1008 492h15v6h-15zM809 502h10v6h-10zM818 501h32v7h-32zM848 500h17v8h-17zM863 500h32v7h-32zM893 499h16v8h-16zM907 499h27v7h-27zM932 498h17v8h-17zM947 498h32v7h-32zM977 497h17v8h-17zM993 498h30v5h-30zM809 508h10v5h-10zM818 506h17v8h-17zM833 506h32v7h-32zM863 505h17v8h-17zM878 505h32v7h-32zM908 504h17v8h-17zM923 504h26v7h-26zM947 503h17v8h-17zM962 503h32v7h-32zM992 502h17v8h-17zM1008 503h15v5h-15zM809 513h25v5h-25zM833 511h17v8h-17zM848 511h32v7h-32zM878 510h17v8h-17zM893 510h32v7h-32zM923 509h12v8h-12zM933 509h31v7h-31zM962 508h17v8h-17zM977 508h32v7h-32zM1008 508h15v6h-15zM809 518h10v6h-10zM818 517h32v7h-32zM848 516h17v8h-17zM863 516h32v7h-32zM893 515h17v8h-17zM908 515h27v7h-27zM933 514h17v8h-17zM948 514h31v7h-31zM977 513h17v8h-17zM993 514h30v5h-30zM810 524h10v5h-10zM819 522h16v8h-16zM833 522h32v7h-32zM863 521h17v8h-17zM878 521h32v7h-32zM908 520h12v8h-12zM918 520h32v7h-32zM948 519h17v8h-17zM963 519h31v7h-31zM992 518h17v8h-17zM1008 519h15v5h-15zM810 529h25v5h-25zM834 527h17v8h-17zM849 527h31v7h-31zM878 526h17v8h-17zM893 526h27v7h-27zM918 525h17v8h-17zM933 525h32v7h-32zM963 524h17v8h-17zM978 524h31v7h-31zM1008 524h15v6h-15zM810 534h10v6h-10zM819 533h32v7h-32zM849 532h17v8h-17zM864 532h31v7h-31zM893 531h12v8h-12zM903 531h32v7h-32zM933 530h17v8h-17zM948 530h32v7h-32zM978 529h17v8h-17zM994 530h29v5h-29zM810 540h10v5h-10zM819 538h17v8h-17zM834 538h32v7h-32zM864 537h17v8h-17zM879 537h26v7h-26zM903 536h17v8h-17zM918 536h32v7h-32zM948 535h17v8h-17zM963 535h32v7h-32zM993 534h17v8h-17zM1009 535h14v5h-14zM810 545h25v5h-25zM834 543h17v8h-17zM849 543h32v7h-32zM879 542h12v8h-12zM889 542h31v7h-31zM918 541h17v8h-17zM933 541h32v7h-32zM963 540h17v8h-17zM978 540h32v7h-32zM1009 540h15v6h-15zM810 550h10v6h-10zM819 549h32v7h-32zM849 548h17v8h-17zM864 548h27v7h-27zM889 547h17v8h-17zM904 547h31v7h-31zM933 546h17v8h-17zM948 546h32v7h-32zM978 545h17v8h-17zM994 546h30v5h-30zM811 556h9v5h-9zM819 554h17v8h-17zM834 554h32v7h-32zM864 553h17v8h-17zM879 553h27v7h-27zM904 552h17v8h-17zM919 552h31v7h-31zM948 551h17v8h-17zM963 551h32v7h-32zM993 550h17v8h-17zM1009 551h15v5h-15zM811 561h25v5h-25zM835 559h16v8h-16zM849 559h32v7h-32zM879 558h12v8h-12zM889 558h32v7h-32zM919 557h17v8h-17zM934 557h31v7h-31zM963 556h17v8h-17zM978 556h32v7h-32zM1009 556h15v6h-15zM811 566h10v6h-10zM820 565h32v7h-32zM850 564h16v8h-16zM864 564h27v7h-27zM889 563h17v8h-17zM904 563h32v7h-32zM934 562h17v8h-17zM949 562h31v7h-31zM978 561h17v8h-17zM994 562h30v5h-30zM811 572h10v5h-10zM820 570h17v8h-17zM835 570h32v7h-32zM865 569h11v8h-11zM874 569h32v7h-32zM904 568h17v8h-17zM919 568h32v7h-32zM949 567h17v8h-17zM964 567h31v7h-31zM993 566h17v8h-17zM1009 567h15v5h-15zM811 577h25v5h-25zM835 575h17v8h-17zM850 575h27v7h-27zM875 574h16v8h-16zM889 574h32v7h-32zM919 573h17v8h-17zM934 573h32v7h-32zM964 572h17v8h-17zM979 572h31v7h-31zM1008 571h12v8h-12zM1019 572h5v5h-5zM811 582h10v6h-10zM820 581h32v7h-32zM850 580h12v8h-12zM860 580h32v7h-32zM890 579h16v8h-16zM904 579h32v7h-32zM934 578h17v8h-17zM949 578h32v7h-32zM979 577h17v8h-17zM994 577h26v7h-26zM1019 577h5v6h-5zM812 588h9v5h-9zM820 586h17v8h-17zM835 586h27v7h-27zM860 585h17v8h-17zM875 585h32v7h-32zM905 584h16v8h-16zM919 584h32v7h-32zM949 583h17v8h-17zM964 583h32v7h-32zM994 582h12v8h-12zM1005 583h19v5h-19zM812 593h24v5h-24zM835 591h17v8h-17zM850 591h27v7h-27zM875 590h17v8h-17zM890 590h32v7h-32zM920 589h16v8h-16zM934 589h32v7h-32zM964 588h17v8h-17zM979 588h27v7h-27zM1004 587h16v8h-16zM1019 588h5v5h-5zM812 598h10v6h-10zM822 598h29v5h-29zM851 597h10v6h-10zM861 597h30v5h-30zM891 596h15v6h-15zM906 596h29v5h-29zM935 595h15v6h-15zM950 595h30v5h-30zM980 594h15v6h-15zM995 594h25v5h-25zM1020 593h5v6h-5z"/>
<g shape-rendering="crispEdges">
<path fill="#f7f2ec" d="M809 404h4v4h-4zM814 404h4v4h-4zM819 404h4v4h-4zM824 404h4v4h-4zM834 404h4v4h-4zM839 404h4v4h-4zM919 402h4v4h-4zM924 402h4v4h-4zM929 402h4v4h-4zM964 401h4v4h-4zM989 400h4v4h-4zM809 410h4v4h-4zM814 410h4v4h-4zM819 410h4v4h-4zM824 409h4v4h-4zM834 409h4v4h-4zM839 409h4v4h-4zM919 407h4v4h-4zM924 407h4v4h-4zM929 407h4v4h-4zM964 406h4v4h-4zM989 406h4v4h-4zM809 415h4v4h-4zM814 415h4v4h-4zM819 415h4v4h-4zM824 415h4v4h-4zM829 415h4v4h-4zM834 415h4v4h-4zM954 412h4v4h-4zM959 412h4v4h-4zM989 411h4v4h-4zM810 420h4v4h-4zM815 420h4v4h-4zM825 420h4v4h-4zM829 420h4v4h-4zM834 420h4v4h-4zM954 417h4v4h-4zM959 417h4v4h-4zM989 416h4v4h-4zM1009 416h4v4h-4zM810 426h4v4h-4zM815 426h4v4h-4zM820 426h4v4h-4zM825 425h4v4h-4zM830 425h4v4h-4zM835 425h4v4h-4zM940 423h4v4h-4zM945 423h4v4h-4zM950 423h4v4h-4zM1009 421h4v4h-4zM810 431h4v4h-4zM815 431h4v4h-4zM820 431h4v4h-4zM825 431h4v4h-4zM850 430h4v4h-4zM855 430h4v4h-4zM915 429h4v4h-4zM810 436h4v4h-4zM815 436h4v4h-4zM820 436h4v4h-4zM825 436h4v4h-4zM920 434h4v4h-4zM925 434h4v4h-4zM930 434h4v4h-4zM935 434h4v4h-4zM940 433h4v4h-4zM945 433h4v4h-4zM950 433h4v4h-4zM990 432h4v4h-4zM810 442h4v4h-4zM815 442h4v4h-4zM980 443h4v4h-4zM920 450h4v4h-4zM970 454h4v4h-4zM841 462h4v4h-4zM856 462h4v4h-4zM861 462h4v4h-4zM811 468h4v4h-4zM816 468h4v4h-4zM856 467h4v4h-4zM861 467h4v4h-4zM811 474h4v4h-4zM816 474h4v4h-4zM856 473h4v4h-4zM861 473h4v4h-4zM811 479h4v4h-4zM816 479h4v4h-4zM861 478h4v4h-4zM811 484h4v4h-4zM861 483h4v4h-4z"/>
<path fill="#f0eee5" d="M829 404h4v4h-4zM844 404h4v4h-4zM849 404h4v4h-4zM854 403h4v4h-4zM859 403h4v4h-4zM864 403h4v4h-4zM869 403h4v4h-4zM909 402h4v4h-4zM914 402h4v4h-4zM969 401h4v4h-4zM984 400h4v4h-4zM1004 400h4v4h-4zM1009 400h4v4h-4zM829 409h4v4h-4zM844 409h4v4h-4zM849 409h4v4h-4zM854 409h4v4h-4zM859 409h4v4h-4zM864 408h4v4h-4zM909 407h4v4h-4zM914 407h4v4h-4zM969 406h4v4h-4zM984 406h4v4h-4zM839 414h4v4h-4zM844 414h4v4h-4zM849 414h4v4h-4zM854 414h4v4h-4zM859 414h4v4h-4zM909 413h4v4h-4zM914 413h4v4h-4zM919 413h4v4h-4zM924 412h4v4h-4zM929 412h4v4h-4zM934 412h4v4h-4zM939 412h4v4h-4zM944 412h4v4h-4zM949 412h4v4h-4zM964 412h4v4h-4zM984 411h4v4h-4zM994 411h4v4h-4zM999 411h4v4h-4zM820 420h4v4h-4zM839 420h4v4h-4zM844 420h4v4h-4zM849 420h4v4h-4zM854 419h4v4h-4zM859 419h4v4h-4zM909 418h4v4h-4zM914 418h4v4h-4zM919 418h4v4h-4zM924 418h4v4h-4zM929 418h4v4h-4zM934 418h4v4h-4zM939 417h4v4h-4zM944 417h4v4h-4zM949 417h4v4h-4zM964 417h4v4h-4zM984 416h4v4h-4zM994 416h4v4h-4zM999 416h4v4h-4zM840 425h4v4h-4zM845 425h4v4h-4zM850 425h4v4h-4zM855 425h4v4h-4zM860 425h4v4h-4zM910 423h4v4h-4zM915 423h4v4h-4zM920 423h4v4h-4zM925 423h4v4h-4zM930 423h4v4h-4zM935 423h4v4h-4zM955 422h4v4h-4zM959 422h4v4h-4zM964 422h4v4h-4zM994 421h4v4h-4zM830 431h4v4h-4zM835 431h4v4h-4zM840 430h4v4h-4zM845 430h4v4h-4zM860 430h4v4h-4zM905 429h4v4h-4zM910 429h4v4h-4zM920 429h4v4h-4zM925 428h4v4h-4zM930 428h4v4h-4zM935 428h4v4h-4zM955 428h4v4h-4zM960 428h4v4h-4zM965 428h4v4h-4zM995 427h4v4h-4zM830 436h4v4h-4zM835 436h4v4h-4zM840 436h4v4h-4zM845 436h4v4h-4zM850 435h4v4h-4zM905 434h4v4h-4zM910 434h4v4h-4zM915 434h4v4h-4zM955 433h4v4h-4zM960 433h4v4h-4zM985 432h4v4h-4zM995 432h4v4h-4zM820 442h4v4h-4zM825 441h4v4h-4zM830 441h4v4h-4zM835 441h4v4h-4zM840 441h4v4h-4zM845 441h4v4h-4zM850 441h4v4h-4zM910 439h4v4h-4zM915 439h4v4h-4zM920 439h4v4h-4zM925 439h4v4h-4zM930 439h4v4h-4zM935 439h4v4h-4zM940 439h4v4h-4zM945 439h4v4h-4zM950 439h4v4h-4zM955 438h4v4h-4zM980 438h4v4h-4zM985 438h4v4h-4zM990 438h4v4h-4zM810 447h4v4h-4zM815 447h4v4h-4zM820 447h4v4h-4zM825 447h4v4h-4zM830 447h4v4h-4zM835 446h4v4h-4zM840 446h4v4h-4zM865 446h4v4h-4zM910 445h4v4h-4zM915 445h4v4h-4zM920 445h4v4h-4zM940 444h4v4h-4zM945 444h4v4h-4zM950 444h4v4h-4zM985 443h4v4h-4zM815 452h4v4h-4zM820 452h4v4h-4zM825 452h4v4h-4zM830 452h4v4h-4zM835 452h4v4h-4zM840 452h4v4h-4zM860 451h4v4h-4zM940 449h4v4h-4zM821 458h4v4h-4zM826 457h4v4h-4zM831 457h4v4h-4zM836 457h4v4h-4zM841 457h4v4h-4zM855 457h4v4h-4zM860 457h4v4h-4zM975 454h4v4h-4zM821 463h4v4h-4zM826 463h4v4h-4zM831 463h4v4h-4zM836 462h4v4h-4zM846 462h4v4h-4zM851 462h4v4h-4zM960 460h4v4h-4zM965 459h4v4h-4zM970 459h4v4h-4zM975 459h4v4h-4zM821 468h4v4h-4zM826 468h4v4h-4zM831 468h4v4h-4zM836 468h4v4h-4zM841 468h4v4h-4zM846 468h4v4h-4zM851 467h4v4h-4zM960 465h4v4h-4zM965 465h4v4h-4zM970 465h4v4h-4zM821 473h4v4h-4zM826 473h4v4h-4zM831 473h4v4h-4zM836 473h4v4h-4zM841 473h4v4h-4zM846 473h4v4h-4zM851 473h4v4h-4zM970 470h4v4h-4zM821 479h4v4h-4zM826 479h4v4h-4zM831 479h4v4h-4zM836 478h4v4h-4zM841 478h4v4h-4zM846 478h4v4h-4zM851 478h4v4h-4zM856 478h4v4h-4zM971 475h4v4h-4zM816 484h4v4h-4zM821 484h4v4h-4zM826 484h4v4h-4zM831 484h4v4h-4zM836 484h4v4h-4zM841 484h4v4h-4zM812 490h4v4h-4zM817 490h4v4h-4zM821 489h4v4h-4zM826 489h4v4h-4zM831 489h4v4h-4zM812 495h4v4h-4zM817 495h4v4h-4zM822 495h4v4h-4zM812 500h4v4h-4zM817 500h4v4h-4zM812 506h4v4h-4z"/>
<path fill="#dfe6d4" d="M874 403h4v4h-4zM899 402h4v4h-4zM974 401h4v4h-4zM979 401h4v4h-4zM899 408h4v4h-4zM974 406h4v4h-4zM979 406h4v4h-4zM899 413h4v4h-4zM974 411h4v4h-4zM979 411h4v4h-4zM899 418h4v4h-4zM974 417h4v4h-4zM979 417h4v4h-4zM974 422h4v4h-4zM875 430h4v4h-4zM880 429h4v4h-4zM885 429h4v4h-4zM975 427h4v4h-4zM875 435h4v4h-4zM890 435h4v4h-4zM970 438h4v4h-4zM970 443h4v4h-4zM956 470h4v4h-4zM956 476h4v4h-4zM961 476h4v4h-4zM941 492h4v4h-4zM936 497h4v4h-4zM936 503h4v4h-4zM936 508h4v4h-4zM942 513h4v4h-4zM933 588h4v4h-4zM933 594h4v4h-4z"/>
<path fill="#d3dfc8" d="M879 403h4v4h-4zM894 402h4v4h-4zM894 408h4v4h-4zM894 413h4v4h-4zM889 419h4v4h-4zM894 418h4v4h-4zM961 481h4v4h-4zM966 486h4v4h-4zM946 492h4v4h-4zM951 492h4v4h-4zM956 492h4v4h-4zM941 497h4v4h-4zM946 497h4v4h-4zM941 503h4v4h-4zM946 503h4v4h-4zM941 508h4v4h-4zM946 508h4v4h-4zM946 513h4v4h-4zM928 594h4v4h-4z"/>
<path fill="#c6d7ba" d="M884 403h4v4h-4zM889 403h4v4h-4zM889 408h4v4h-4zM889 413h4v4h-4zM961 486h4v4h-4zM961 492h4v4h-4zM951 513h4v4h-4zM956 513h4v4h-4zM928 572h4v4h-4z"/>
<path fill="#e8ebdd" d="M904 402h4v4h-4zM994 400h4v4h-4zM999 400h4v4h-4zM1014 400h4v4h-4zM904 408h4v4h-4zM994 406h4v4h-4zM999 405h4v4h-4zM1004 405h4v4h-4zM1009 405h4v4h-4zM1014 405h4v4h-4zM864 414h4v4h-4zM904 413h4v4h-4zM969 411h4v4h-4zM1004 411h4v4h-4zM1009 410h4v4h-4zM1014 410h4v4h-4zM864 419h4v4h-4zM869 419h4v4h-4zM904 418h4v4h-4zM969 417h4v4h-4zM1004 416h4v4h-4zM1014 416h4v4h-4zM865 424h4v4h-4zM870 424h4v4h-4zM900 424h4v4h-4zM905 424h4v4h-4zM969 422h4v4h-4zM979 422h4v4h-4zM999 421h4v4h-4zM1004 421h4v4h-4zM1014 421h4v4h-4zM865 430h4v4h-4zM870 430h4v4h-4zM900 429h4v4h-4zM970 427h4v4h-4zM980 427h4v4h-4zM1000 427h4v4h-4zM1005 427h4v4h-4zM855 435h4v4h-4zM860 435h4v4h-4zM865 435h4v4h-4zM870 435h4v4h-4zM895 434h4v4h-4zM900 434h4v4h-4zM965 433h4v4h-4zM970 433h4v4h-4zM975 433h4v4h-4zM980 432h4v4h-4zM855 441h4v4h-4zM860 441h4v4h-4zM865 440h4v4h-4zM895 440h4v4h-4zM960 438h4v4h-4zM965 438h4v4h-4zM975 438h4v4h-4zM845 446h4v4h-4zM850 446h4v4h-4zM855 446h4v4h-4zM860 446h4v4h-4zM955 444h4v4h-4zM960 444h4v4h-4zM965 444h4v4h-4zM975 443h4v4h-4zM810 452h4v4h-4zM845 452h4v4h-4zM850 451h4v4h-4zM855 451h4v4h-4zM945 449h4v4h-4zM950 449h4v4h-4zM955 449h4v4h-4zM960 449h4v4h-4zM965 449h4v4h-4zM970 449h4v4h-4zM975 449h4v4h-4zM980 448h4v4h-4zM811 458h4v4h-4zM816 458h4v4h-4zM845 457h4v4h-4zM850 457h4v4h-4zM940 455h4v4h-4zM945 455h4v4h-4zM950 455h4v4h-4zM955 454h4v4h-4zM960 454h4v4h-4zM965 454h4v4h-4zM811 463h4v4h-4zM816 463h4v4h-4zM935 460h4v4h-4zM950 460h4v4h-4zM955 460h4v4h-4zM950 465h4v4h-4zM955 465h4v4h-4zM960 470h4v4h-4zM965 470h4v4h-4zM966 475h4v4h-4zM966 481h4v4h-4zM827 495h4v4h-4zM822 500h4v4h-4zM817 506h4v4h-4zM822 505h4v4h-4zM812 511h4v4h-4zM817 511h4v4h-4zM812 516h4v4h-4zM938 593h4v4h-4z"/>
<path fill="#fef5f2" d="M934 402h4v4h-4zM939 401h4v4h-4zM944 401h4v4h-4zM949 401h4v4h-4zM954 401h4v4h-4zM959 401h4v4h-4zM934 407h4v4h-4zM939 407h4v4h-4zM944 407h4v4h-4zM949 407h4v4h-4zM954 406h4v4h-4zM959 406h4v4h-4zM984 422h4v4h-4zM989 422h4v4h-4zM940 428h4v4h-4zM945 428h4v4h-4zM950 428h4v4h-4zM985 427h4v4h-4zM990 427h4v4h-4z"/>
<path fill="#b8cfae" d="M884 408h4v4h-4z"/>
<path fill="#f7f2ec" d="M806 401h20v5h-20zM831 401h5v5h-5zM836 400h5v6h-5zM916 399h5v5h-5zM921 398h10v6h-10zM961 398h5v5h-5zM986 397h5v5h-5zM806 406h15v6h-15zM821 406h5v5h-5zM831 406h10v5h-10zM916 404h15v5h-15zM961 403h5v5h-5zM986 402h5v6h-5zM806 412h15v5h-15zM821 411h15v6h-15zM951 408h10v6h-10zM986 408h5v5h-5zM807 417h10v5h-10zM822 417h14v5h-14zM951 414h10v5h-10zM986 413h5v5h-5zM1006 412h5v6h-5zM807 422h15v6h-15zM822 422h15v5h-15zM937 419h15v6h-15zM1006 418h5v5h-5zM807 428h15v5h-15zM822 427h5v6h-5zM847 427h10v5h-10zM912 425h5v6h-5zM807 433h20v5h-20zM917 431h5v5h-5zM922 430h15v6h-15zM937 430h15v5h-15zM987 429h5v5h-5zM807 438h10v6h-10zM927 441h5v5h-5zM977 440h5v5h-5zM917 447h5v5h-5zM922 446h5v6h-5zM862 453h5v5h-5zM967 451h5v5h-5zM838 459h5v5h-5zM853 459h10v5h-10zM863 458h5v6h-5zM808 465h10v5h-10zM853 464h15v5h-15zM808 470h10v6h-10zM853 469h10v6h-10zM863 469h5v5h-5zM808 476h10v5h-10zM858 475h5v5h-5zM863 474h5v6h-5zM808 481h5v5h-5zM858 480h10v5h-10zM858 485h5v6h-5zM863 485h5v5h-5zM863 490h5v6h-5z"/>
<path fill="#f0eee5" d="M826 401h5v5h-5zM841 400h10v6h-10zM851 400h20v5h-20zM906 399h10v5h-10zM966 397h5v6h-5zM981 397h5v5h-5zM1001 397h5v5h-5zM1006 396h5v6h-5zM826 406h5v5h-5zM841 406h10v5h-10zM851 405h10v6h-10zM861 405h5v5h-5zM906 404h10v5h-10zM966 403h5v5h-5zM981 402h5v6h-5zM836 411h25v5h-25zM906 409h15v6h-15zM921 409h30v5h-30zM961 408h5v6h-5zM981 408h5v5h-5zM991 408h5v5h-5zM996 407h5v6h-5zM817 417h5v5h-5zM836 416h15v6h-15zM851 416h10v5h-10zM906 415h15v5h-15zM921 414h15v6h-15zM936 414h15v5h-15zM961 414h5v5h-5zM981 413h5v5h-5zM991 413h10v5h-10zM837 422h15v5h-15zM852 421h10v6h-10zM907 420h30v5h-30zM952 419h14v5h-14zM991 418h5v5h-5zM827 427h10v6h-10zM837 427h10v5h-10zM857 427h5v5h-5zM902 426h5v5h-5zM907 425h5v6h-5zM917 425h5v6h-5zM922 425h15v5h-15zM952 424h15v6h-15zM992 423h5v6h-5zM827 433h10v5h-10zM837 432h10v6h-10zM847 432h5v5h-5zM902 431h15v5h-15zM952 430h10v5h-10zM982 429h5v5h-5zM992 429h5v5h-5zM817 438h5v6h-5zM822 438h25v5h-25zM847 437h5v6h-5zM902 436h5v6h-5zM907 436h30v5h-30zM937 435h15v6h-15zM952 435h5v5h-5zM977 434h15v6h-15zM997 434h5v5h-5zM807 444h15v5h-15zM822 443h10v6h-10zM832 443h10v5h-10zM862 442h10v6h-10zM897 442h5v5h-5zM907 441h15v6h-15zM922 441h5v5h-5zM932 441h20v5h-20zM982 440h10v5h-10zM992 439h5v6h-5zM812 449h20v5h-20zM832 448h10v6h-10zM857 448h15v5h-15zM907 447h10v5h-10zM937 446h5v5h-5zM982 445h10v5h-10zM818 454h5v6h-5zM823 454h20v5h-20zM852 453h10v6h-10zM917 452h10v5h-10zM972 451h5v5h-5zM982 450h5v6h-5zM818 460h5v5h-5zM823 459h10v6h-10zM833 459h5v5h-5zM843 459h10v5h-10zM957 456h5v6h-5zM962 456h15v5h-15zM818 465h15v5h-15zM833 464h15v6h-15zM848 464h5v5h-5zM868 464h5v5h-5zM957 462h5v5h-5zM962 461h15v6h-15zM818 470h30v5h-30zM848 469h5v6h-5zM967 467h10v5h-10zM818 475h15v6h-15zM833 475h25v5h-25zM968 472h10v5h-10zM813 481h20v5h-20zM833 480h15v6h-15zM848 480h10v5h-10zM968 477h10v6h-10zM809 486h10v6h-10zM819 486h29v5h-29zM1018 482h5v5h-5zM809 492h10v5h-10zM819 491h5v6h-5zM834 491h5v5h-5zM809 497h10v5h-10zM869 496h5v5h-5zM1018 492h5v6h-5zM809 502h5v6h-5zM874 501h5v5h-5zM809 518h5v6h-5zM810 524h5v5h-5zM940 595h10v6h-10z"/>
<path fill="#dfe6d4" d="M871 400h5v5h-5zM896 399h5v5h-5zM971 397h10v6h-10zM871 405h5v5h-5zM896 404h5v6h-5zM971 403h10v5h-10zM896 410h5v5h-5zM971 408h10v5h-10zM871 416h5v5h-5zM896 415h5v5h-5zM971 413h10v6h-10zM872 421h5v5h-5zM892 420h5v6h-5zM971 419h5v5h-5zM872 426h5v6h-5zM877 426h15v5h-15zM972 424h5v5h-5zM872 432h5v5h-5zM877 431h15v6h-15zM1007 428h5v6h-5zM872 437h10v5h-10zM887 437h5v5h-5zM967 435h5v5h-5zM967 440h5v5h-5zM927 457h5v5h-5zM928 468h5v5h-5zM953 467h5v5h-5zM953 472h10v6h-10zM1017 471h5v5h-5zM943 478h10v5h-10zM968 483h5v5h-5zM938 489h5v5h-5zM933 494h5v5h-5zM948 494h10v5h-10zM933 499h5v6h-5zM948 499h5v5h-5zM824 507h5v6h-5zM933 505h5v5h-5zM963 504h5v5h-5zM934 510h10v5h-10zM939 515h5v6h-5zM930 580h5v5h-5zM930 585h5v5h-5zM930 590h5v6h-5zM960 595h5v5h-5z"/>
<path fill="#d3dfc8" d="M876 399h5v6h-5zM891 399h5v5h-5zM876 405h5v5h-5zM891 404h5v6h-5zM891 410h5v5h-5zM886 415h5v6h-5zM891 415h5v5h-5zM887 421h5v5h-5zM1017 460h5v6h-5zM1017 466h5v5h-5zM953 478h10v5h-10zM963 483h5v5h-5zM943 489h5v5h-5zM948 488h10v6h-10zM963 488h10v5h-10zM938 494h10v5h-10zM958 494h5v5h-5zM963 493h5v6h-5zM938 499h10v6h-10zM963 499h5v5h-5zM938 505h10v5h-10zM948 504h5v6h-5zM944 510h4v5h-4zM958 510h5v5h-5zM963 509h5v6h-5zM944 515h5v6h-5zM959 515h4v5h-4zM925 590h5v6h-5zM926 596h5v5h-5zM965 595h5v5h-5z"/>
<path fill="#c6d7ba" d="M881 399h10v6h-10zM886 405h5v5h-5zM881 410h10v5h-10zM958 483h5v5h-5zM958 488h5v6h-5zM948 510h10v5h-10zM949 515h10v5h-10zM954 520h5v6h-5zM925 569h10v5h-10zM925 574h10v6h-10zM965 589h5v6h-5z"/>
<path fill="#e8ebdd" d="M901 399h5v5h-5zM991 397h10v5h-10zM1011 396h10v6h-10zM866 405h5v5h-5zM901 404h5v6h-5zM991 402h5v6h-5zM996 402h25v5h-25zM861 410h10v6h-10zM901 410h5v5h-5zM966 408h5v5h-5zM1001 407h5v6h-5zM1006 407h15v5h-15zM861 416h10v5h-10zM901 415h5v5h-5zM966 413h5v6h-5zM1001 413h5v5h-5zM1011 412h10v6h-10zM862 421h10v5h-10zM897 420h10v6h-10zM966 419h5v5h-5zM976 419h5v5h-5zM996 418h10v5h-10zM1011 418h10v5h-10zM862 426h10v6h-10zM897 426h5v5h-5zM967 424h5v5h-5zM977 424h5v5h-5zM997 423h10v6h-10zM1007 423h15v5h-15zM852 432h20v5h-20zM892 431h10v5h-10zM962 430h5v5h-5zM967 429h10v6h-10zM977 429h5v5h-5zM997 429h10v5h-10zM852 437h10v6h-10zM862 437h10v5h-10zM892 436h10v6h-10zM957 435h10v5h-10zM972 435h5v5h-5zM992 434h5v5h-5zM842 443h20v5h-20zM892 442h5v5h-5zM952 440h15v6h-15zM972 440h5v5h-5zM807 449h5v5h-5zM842 448h5v6h-5zM847 448h10v5h-10zM942 446h25v5h-25zM967 445h10v6h-10zM977 445h5v5h-5zM808 454h10v6h-10zM843 454h4v5h-4zM847 453h5v6h-5zM937 451h15v6h-15zM952 451h15v5h-15zM977 450h5v6h-5zM808 460h10v5h-10zM917 457h5v6h-5zM932 457h20v5h-20zM952 456h5v6h-5zM977 456h5v5h-5zM932 462h5v6h-5zM937 462h5v5h-5zM947 462h10v5h-10zM977 461h5v5h-5zM938 467h10v6h-10zM948 467h5v5h-5zM958 467h9v5h-9zM933 473h5v5h-5zM943 473h5v5h-5zM963 472h5v5h-5zM933 478h5v6h-5zM963 477h5v6h-5zM1017 476h5v6h-5zM938 483h5v6h-5zM824 491h10v6h-10zM1018 487h5v5h-5zM819 497h15v5h-15zM874 496h4v5h-4zM814 502h5v6h-5zM819 502h10v5h-10zM809 508h10v5h-10zM819 507h5v6h-5zM879 506h5v5h-5zM809 513h15v5h-15zM814 518h5v6h-5zM935 585h5v5h-5zM935 590h10v5h-10zM931 596h4v5h-4zM935 595h5v6h-5zM950 595h5v5h-5z"/>
<path fill="#fef5f2" d="M931 398h5v6h-5zM936 398h25v5h-25zM931 404h5v5h-5zM936 403h15v6h-15zM951 403h10v5h-10zM981 418h10v6h-10zM937 425h15v5h-15zM982 424h10v5h-10zM1017 428h5v6h-5z"/>
<path fill="#b8cfae" d="M881 405h5v5h-5z"/>
<path fill="#52a683" d="M960 568h5v6h-5z"/>
</g>
<path d="M807.2,396.5L812.8,605.2M838.6,396.5L844.0,605.2M870.0,396.5L875.1,605.2M901.4,396.5L906.3,605.2M932.8,396.5L937.5,605.2M964.2,396.5L968.6,605.2M995.6,396.5L999.8,605.2M806.6,415.9L1025.5,411.7M806.6,442.6L1025.5,438.4M806.6,469.2L1025.5,465.0M806.6,495.9L1025.5,491.6M806.6,522.5L1025.5,518.3M806.6,549.1L1025.5,545.0M806.6,575.8L1025.5,571.6M806.6,602.5L1025.5,598.2" stroke="#b0b0b0" stroke-width="1.1" fill="none"/>
<path d="M975.6,605.0L975.6,593.6L974.9,587.1L973.0,582.0L970.4,576.8L968.5,571.7L965.3,567.8L962.1,564.6L957.6,563.3L955.6,562.1L957.3,558.8L957.6,555.0L956.0,551.1L955.0,546.6L953.7,542.8L955.0,540.2L958.9,537.0L962.7,530.6L965.3,524.1L965.9,519.0L972.3,510.0L976.2,499.7L980.1,485.6L983.3,472.1L988.4,459.8L994.8,449.6L1000.0,443.1L1006.4,439.3L1012.8,437.7L1015.4,436.5L1017.0,438.0L1017.3,440.6L1014.8,444.4L1012.8,449.6L1010.9,462.4L1009.0,476.6L1006.4,485.6L1006.2,488.1L1007.7,492.0L1010.3,497.1L1012.2,501.6L1011.6,504.2L1010.3,506.1L1010.9,508.7L1012.8,509.3L1014.8,507.4L1015.4,504.8L1016.7,503.8L1018.2,505.5L1018.6,508.7L1016.7,512.5L1013.5,516.4L1011.6,519.0L1012.6,523.5L1010.9,528.0L1012.2,531.2L1014.8,533.4L1018.0,534.2L1021.2,532.9L1023.1,529.9L1024.7,526.7L1025.5,525.0" stroke="#808080" stroke-width="1.4" fill="none" stroke-linejoin="round"/>
</g>
<rect x="806.6" y="396.5" width="218.9" height="208.7" fill="none" stroke="#000" stroke-width="1.1"/>
<text x="916.35" y="365.00" font-size="16.67" text-anchor="middle" >q std. [K hr <tspan dy="-7.5" font-size="11.67">−1</tspan><tspan dy="7.5">]</tspan></text>
<text x="808.00" y="385.50" font-size="13.89" text-anchor="middle" >112.5°E</text>
<text x="870.50" y="385.50" font-size="13.89" text-anchor="middle" >113°E</text>
<text x="933.10" y="385.50" font-size="13.89" text-anchor="middle" >113.5°E</text>
<text x="995.70" y="385.50" font-size="13.89" text-anchor="middle" >114°E</text>
<text x="813.00" y="622.50" font-size="13.89" text-anchor="middle" >112.5°E</text>
<text x="875.40" y="622.50" font-size="13.89" text-anchor="middle" >113°E</text>
<text x="937.50" y="622.50" font-size="13.89" text-anchor="middle" >113.5°E</text>
<text x="999.60" y="622.50" font-size="13.89" text-anchor="middle" >114°E</text>
<text x="799.30" y="420.70" font-size="13.89" text-anchor="end" >21.6°S</text>
<text x="799.30" y="447.35" font-size="13.89" text-anchor="end" >21.8°S</text>
<text x="799.30" y="474.00" font-size="13.89" text-anchor="end" >22°S</text>
<text x="799.30" y="500.65" font-size="13.89" text-anchor="end" >22.2°S</text>
<text x="799.30" y="527.30" font-size="13.89" text-anchor="end" >22.4°S</text>
<text x="799.30" y="553.95" font-size="13.89" text-anchor="end" >22.6°S</text>
<text x="799.30" y="580.60" font-size="13.89" text-anchor="end" >22.8°S</text>
<text x="799.30" y="607.25" font-size="13.89" text-anchor="end" >23°S</text>
<linearGradient id="gqs" x1="0" y1="0" x2="0" y2="1"><stop offset="0.000" stop-color="#141d43"/><stop offset="0.143" stop-color="#1c4466"/><stop offset="0.286" stop-color="#19697a"/><stop offset="0.429" stop-color="#1f8c7e"/><stop offset="0.571" stop-color="#4dad7c"/><stop offset="0.714" stop-color="#93c78f"/><stop offset="0.857" stop-color="#cfe0c3"/><stop offset="1.000" stop-color="#fef5f3"/></linearGradient>
<rect x="1039.5" y="476.5" width="2.0" height="49.2" fill="url(#gqs)" stroke="#000" stroke-width="1.1"/>
<path d="M385.5,182.5h5.2" stroke="#000" stroke-width="1.1"/>
<text x="395.80" y="187.60" font-size="13.89" text-anchor="start" >1</text>
<path d="M385.5,207.1h5.2" stroke="#000" stroke-width="1.1"/>
<text x="395.80" y="212.20" font-size="13.89" text-anchor="start" >0</text>
<path d="M385.5,231.7h5.2" stroke="#000" stroke-width="1.1"/>
<text x="395.80" y="236.80" font-size="13.89" text-anchor="start" >−1</text>
<path d="M713.5,182.5h5.2" stroke="#000" stroke-width="1.1"/>
<text x="723.80" y="187.60" font-size="13.89" text-anchor="start" >1</text>
<path d="M713.5,207.1h5.2" stroke="#000" stroke-width="1.1"/>
<text x="723.80" y="212.20" font-size="13.89" text-anchor="start" >0</text>
<path d="M713.5,231.7h5.2" stroke="#000" stroke-width="1.1"/>
<text x="723.80" y="236.80" font-size="13.89" text-anchor="start" >−1</text>
<path d="M1041.5,191.8h5.2" stroke="#000" stroke-width="1.1"/>
<text x="1051.40" y="196.95" font-size="13.89" text-anchor="start" >0.25</text>
<path d="M1041.5,207.1h5.2" stroke="#000" stroke-width="1.1"/>
<text x="1051.40" y="212.20" font-size="13.89" text-anchor="start" >0.00</text>
<path d="M1041.5,222.4h5.2" stroke="#000" stroke-width="1.1"/>
<text x="1051.40" y="227.45" font-size="13.89" text-anchor="start" >−0.25</text>
<path d="M385.5,476.5h5.2" stroke="#000" stroke-width="1.1"/>
<text x="395.80" y="481.60" font-size="13.89" text-anchor="start" >0.5</text>
<path d="M385.5,525.7h5.2" stroke="#000" stroke-width="1.1"/>
<text x="395.80" y="530.80" font-size="13.89" text-anchor="start" >0.0</text>
<path d="M713.5,476.5h5.2" stroke="#000" stroke-width="1.1"/>
<text x="723.80" y="481.60" font-size="13.89" text-anchor="start" >0.5</text>
<path d="M713.5,525.7h5.2" stroke="#000" stroke-width="1.1"/>
<text x="723.80" y="530.80" font-size="13.89" text-anchor="start" >0.0</text>
<path d="M1041.5,476.5h5.2" stroke="#000" stroke-width="1.1"/>
<text x="1052.50" y="481.60" font-size="13.89" text-anchor="start" >0.1</text>
<path d="M1041.5,525.7h5.2" stroke="#000" stroke-width="1.1"/>
<text x="1052.50" y="530.80" font-size="13.89" text-anchor="start" >0.0</text>
</svg></body></html>
